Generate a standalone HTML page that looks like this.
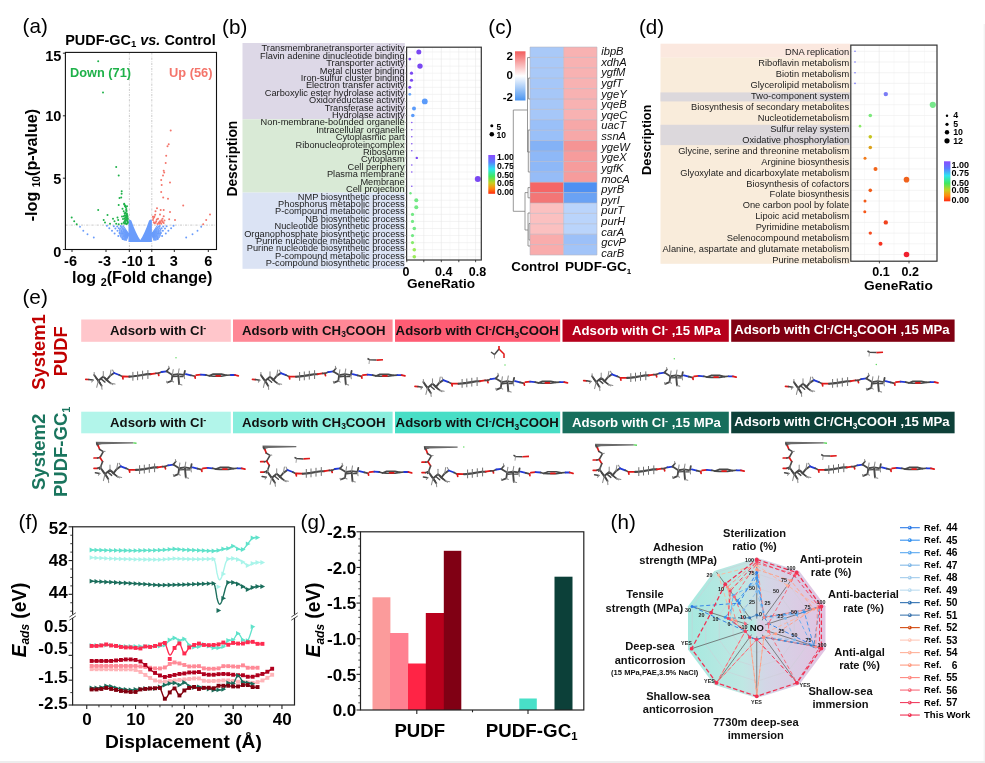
<!DOCTYPE html>
<html><head><meta charset="utf-8"><title>Figure</title>
<style>
html,body{margin:0;padding:0;background:#fff;}
body{width:985px;height:763px;overflow:hidden;position:relative;}
svg{display:block;position:absolute;left:0;top:0;will-change:transform;}
svg text{font-family:"Liberation Sans",sans-serif;}
</style></head><body>
<svg width="985" height="763" viewBox="0 0 985 763">
<defs>
<linearGradient id="rb" x1="0" y1="0" x2="0" y2="1">
<stop offset="0" stop-color="#8a4cff"/><stop offset="0.18" stop-color="#5a7cff"/><stop offset="0.36" stop-color="#2ee6f0"/><stop offset="0.55" stop-color="#40e860"/><stop offset="0.72" stop-color="#c8d020"/><stop offset="0.86" stop-color="#ff8a10"/><stop offset="1" stop-color="#ff2a10"/>
</linearGradient>
<linearGradient id="hm" x1="0" y1="0" x2="0" y2="1">
<stop offset="0" stop-color="#f25c5c"/><stop offset="0.5" stop-color="#ffffff"/><stop offset="1" stop-color="#4a94f0"/>
</linearGradient>
<linearGradient id="rad" x1="0" y1="0" x2="1" y2="0">
<stop offset="0" stop-color="#a6e9df"/><stop offset="0.40" stop-color="#bfe7e3"/><stop offset="0.56" stop-color="#d3d6e6"/><stop offset="1" stop-color="#e1c3e2"/>
</linearGradient>
</defs>
<rect x="0" y="0" width="985" height="763" fill="#fff"/>
<rect x="983.6" y="24" width="1.4" height="739" fill="#f3f3f3"/>
<rect x="0" y="761" width="985" height="2" fill="#ededed"/>
<g id="pa">
<text x="22.60" y="33.00" font-size="20.6">(a)</text>
<text x="65.2" y="44.8" font-size="14.3" font-weight="bold" textLength="150.5" lengthAdjust="spacingAndGlyphs">PUDF-GC<tspan font-size="9.5" dy="2.5">1</tspan><tspan dy="-2.5"> </tspan><tspan font-style="italic">vs.</tspan> Control</text>
<line x1="129.40" y1="52.40" x2="129.40" y2="249.50" stroke="#bcbcbc" stroke-width="0.8" stroke-dasharray="2.2 1.2 0.6 1.2"/>
<line x1="151.80" y1="52.40" x2="151.80" y2="249.50" stroke="#bcbcbc" stroke-width="0.8" stroke-dasharray="2.2 1.2 0.6 1.2"/>
<line x1="65.40" y1="225.10" x2="216.50" y2="225.10" stroke="#bcbcbc" stroke-width="0.8" stroke-dasharray="2.2 1.2 0.6 1.2"/>
<path d="M128.5,220.6 L129.6,219.6 L131.3,220.4 Q136.2,234.2 140.3,239.9 Q144.4,234.2 149.1,220.4 L150.8,219.6 L151.9,220.6 L151.9,241.9 L128.5,241.9 Z" fill="#6a9cfb"/>
<line x1="128.90" y1="234.30" x2="122.83" y2="225.30" stroke="#6a9cfb" stroke-width="1.1"/>
<line x1="128.90" y1="234.30" x2="121.49" y2="225.77" stroke="#6a9cfb" stroke-width="1.1"/>
<line x1="128.90" y1="234.30" x2="120.35" y2="226.60" stroke="#6a9cfb" stroke-width="1.1"/>
<line x1="128.90" y1="234.30" x2="119.73" y2="227.88" stroke="#6a9cfb" stroke-width="1.1"/>
<line x1="128.90" y1="234.30" x2="119.19" y2="229.14" stroke="#6a9cfb" stroke-width="1.1"/>
<line x1="128.90" y1="234.30" x2="119.00" y2="230.50" stroke="#6a9cfb" stroke-width="1.1"/>
<line x1="128.90" y1="234.30" x2="119.00" y2="231.83" stroke="#6a9cfb" stroke-width="1.1"/>
<line x1="128.90" y1="234.30" x2="119.17" y2="233.11" stroke="#6a9cfb" stroke-width="1.1"/>
<line x1="128.90" y1="234.30" x2="119.40" y2="234.30" stroke="#6a9cfb" stroke-width="1.1"/>
<line x1="128.90" y1="234.30" x2="119.67" y2="235.43" stroke="#6a9cfb" stroke-width="1.1"/>
<line x1="128.90" y1="234.30" x2="120.07" y2="236.50" stroke="#6a9cfb" stroke-width="1.1"/>
<line x1="128.90" y1="234.30" x2="120.59" y2="237.49" stroke="#6a9cfb" stroke-width="1.1"/>
<line x1="128.90" y1="234.30" x2="121.31" y2="238.34" stroke="#6a9cfb" stroke-width="1.1"/>
<line x1="128.90" y1="234.30" x2="122.02" y2="239.12" stroke="#6a9cfb" stroke-width="1.1"/>
<line x1="128.90" y1="234.30" x2="122.88" y2="239.72" stroke="#6a9cfb" stroke-width="1.1"/>
<line x1="128.90" y1="234.30" x2="123.89" y2="240.28" stroke="#6a9cfb" stroke-width="1.1"/>
<line x1="128.90" y1="234.30" x2="124.93" y2="240.66" stroke="#6a9cfb" stroke-width="1.1"/>
<line x1="128.90" y1="234.30" x2="126.13" y2="240.84" stroke="#6a9cfb" stroke-width="1.1"/>
<circle cx="106.90" cy="225.80" r="1.00" fill="#6a9cfb"/>
<circle cx="109.30" cy="228.30" r="1.00" fill="#6a9cfb"/>
<circle cx="112.00" cy="230.80" r="1.00" fill="#6a9cfb"/>
<circle cx="114.60" cy="233.40" r="1.00" fill="#6a9cfb"/>
<circle cx="118.30" cy="236.10" r="1.00" fill="#6a9cfb"/>
<circle cx="122.70" cy="239.00" r="1.00" fill="#6a9cfb"/>
<circle cx="115.40" cy="228.40" r="1.00" fill="#6a9cfb"/>
<circle cx="117.50" cy="230.70" r="1.00" fill="#6a9cfb"/>
<circle cx="119.50" cy="232.90" r="1.00" fill="#6a9cfb"/>
<circle cx="118.80" cy="228.30" r="1.00" fill="#6a9cfb"/>
<circle cx="120.70" cy="226.00" r="1.00" fill="#6a9cfb"/>
<circle cx="113.80" cy="226.20" r="1.00" fill="#6a9cfb"/>
<circle cx="117.20" cy="226.40" r="1.00" fill="#6a9cfb"/>
<line x1="151.50" y1="234.30" x2="157.57" y2="225.30" stroke="#6a9cfb" stroke-width="1.1"/>
<line x1="151.50" y1="234.30" x2="158.91" y2="225.77" stroke="#6a9cfb" stroke-width="1.1"/>
<line x1="151.50" y1="234.30" x2="160.05" y2="226.60" stroke="#6a9cfb" stroke-width="1.1"/>
<line x1="151.50" y1="234.30" x2="160.67" y2="227.88" stroke="#6a9cfb" stroke-width="1.1"/>
<line x1="151.50" y1="234.30" x2="161.21" y2="229.14" stroke="#6a9cfb" stroke-width="1.1"/>
<line x1="151.50" y1="234.30" x2="161.40" y2="230.50" stroke="#6a9cfb" stroke-width="1.1"/>
<line x1="151.50" y1="234.30" x2="161.40" y2="231.83" stroke="#6a9cfb" stroke-width="1.1"/>
<line x1="151.50" y1="234.30" x2="161.23" y2="233.11" stroke="#6a9cfb" stroke-width="1.1"/>
<line x1="151.50" y1="234.30" x2="161.00" y2="234.30" stroke="#6a9cfb" stroke-width="1.1"/>
<line x1="151.50" y1="234.30" x2="160.73" y2="235.43" stroke="#6a9cfb" stroke-width="1.1"/>
<line x1="151.50" y1="234.30" x2="160.33" y2="236.50" stroke="#6a9cfb" stroke-width="1.1"/>
<line x1="151.50" y1="234.30" x2="159.81" y2="237.49" stroke="#6a9cfb" stroke-width="1.1"/>
<line x1="151.50" y1="234.30" x2="159.09" y2="238.34" stroke="#6a9cfb" stroke-width="1.1"/>
<line x1="151.50" y1="234.30" x2="158.38" y2="239.12" stroke="#6a9cfb" stroke-width="1.1"/>
<line x1="151.50" y1="234.30" x2="157.52" y2="239.72" stroke="#6a9cfb" stroke-width="1.1"/>
<line x1="151.50" y1="234.30" x2="156.51" y2="240.28" stroke="#6a9cfb" stroke-width="1.1"/>
<line x1="151.50" y1="234.30" x2="155.47" y2="240.66" stroke="#6a9cfb" stroke-width="1.1"/>
<line x1="151.50" y1="234.30" x2="154.27" y2="240.84" stroke="#6a9cfb" stroke-width="1.1"/>
<circle cx="173.50" cy="225.80" r="1.00" fill="#6a9cfb"/>
<circle cx="171.10" cy="228.30" r="1.00" fill="#6a9cfb"/>
<circle cx="168.40" cy="230.80" r="1.00" fill="#6a9cfb"/>
<circle cx="165.80" cy="233.40" r="1.00" fill="#6a9cfb"/>
<circle cx="162.10" cy="236.10" r="1.00" fill="#6a9cfb"/>
<circle cx="157.70" cy="239.00" r="1.00" fill="#6a9cfb"/>
<circle cx="165.00" cy="228.40" r="1.00" fill="#6a9cfb"/>
<circle cx="162.90" cy="230.70" r="1.00" fill="#6a9cfb"/>
<circle cx="160.90" cy="232.90" r="1.00" fill="#6a9cfb"/>
<circle cx="161.60" cy="228.30" r="1.00" fill="#6a9cfb"/>
<circle cx="159.70" cy="226.00" r="1.00" fill="#6a9cfb"/>
<circle cx="166.60" cy="226.20" r="1.00" fill="#6a9cfb"/>
<circle cx="163.20" cy="226.40" r="1.00" fill="#6a9cfb"/>
<circle cx="80.00" cy="226.80" r="0.95" fill="#6a9cfb"/>
<circle cx="83.30" cy="230.80" r="0.95" fill="#6a9cfb"/>
<circle cx="87.50" cy="234.30" r="0.95" fill="#6a9cfb"/>
<circle cx="93.80" cy="237.50" r="0.95" fill="#6a9cfb"/>
<circle cx="201.20" cy="226.80" r="0.95" fill="#6a9cfb"/>
<circle cx="197.50" cy="230.80" r="0.95" fill="#6a9cfb"/>
<circle cx="192.50" cy="234.30" r="0.95" fill="#6a9cfb"/>
<circle cx="186.20" cy="237.50" r="0.95" fill="#6a9cfb"/>
<circle cx="98.20" cy="61.30" r="1.00" fill="#1fb24a"/>
<circle cx="103.00" cy="92.50" r="1.00" fill="#1fb24a"/>
<circle cx="116.20" cy="167.00" r="1.00" fill="#1fb24a"/>
<circle cx="118.70" cy="175.50" r="1.00" fill="#1fb24a"/>
<circle cx="121.70" cy="191.20" r="1.00" fill="#1fb24a"/>
<circle cx="121.60" cy="193.80" r="1.00" fill="#1fb24a"/>
<circle cx="121.20" cy="197.50" r="1.00" fill="#1fb24a"/>
<circle cx="119.50" cy="198.00" r="1.00" fill="#1fb24a"/>
<circle cx="118.70" cy="205.00" r="1.00" fill="#1fb24a"/>
<circle cx="124.20" cy="204.50" r="1.00" fill="#1fb24a"/>
<circle cx="125.00" cy="206.20" r="1.00" fill="#1fb24a"/>
<circle cx="98.20" cy="210.00" r="1.00" fill="#1fb24a"/>
<circle cx="107.50" cy="215.00" r="1.00" fill="#1fb24a"/>
<circle cx="103.70" cy="220.00" r="1.00" fill="#1fb24a"/>
<circle cx="71.70" cy="217.50" r="1.00" fill="#1fb24a"/>
<circle cx="74.20" cy="221.20" r="1.00" fill="#1fb24a"/>
<circle cx="76.70" cy="224.20" r="1.00" fill="#1fb24a"/>
<circle cx="113.00" cy="218.70" r="1.00" fill="#1fb24a"/>
<circle cx="114.50" cy="221.20" r="1.00" fill="#1fb24a"/>
<circle cx="117.50" cy="217.50" r="1.00" fill="#1fb24a"/>
<circle cx="118.20" cy="220.00" r="1.00" fill="#1fb24a"/>
<circle cx="122.50" cy="208.70" r="1.00" fill="#1fb24a"/>
<circle cx="123.70" cy="211.20" r="1.00" fill="#1fb24a"/>
<circle cx="125.00" cy="213.70" r="1.00" fill="#1fb24a"/>
<circle cx="126.20" cy="210.00" r="1.00" fill="#1fb24a"/>
<circle cx="126.20" cy="216.20" r="1.00" fill="#1fb24a"/>
<circle cx="127.50" cy="218.70" r="1.00" fill="#1fb24a"/>
<circle cx="125.00" cy="220.00" r="1.00" fill="#1fb24a"/>
<circle cx="123.70" cy="222.50" r="1.00" fill="#1fb24a"/>
<circle cx="126.20" cy="223.70" r="1.00" fill="#1fb24a"/>
<circle cx="127.50" cy="221.20" r="1.00" fill="#1fb24a"/>
<circle cx="116.20" cy="223.70" r="1.00" fill="#1fb24a"/>
<circle cx="118.70" cy="224.20" r="1.00" fill="#1fb24a"/>
<circle cx="121.70" cy="223.70" r="1.00" fill="#1fb24a"/>
<circle cx="110.00" cy="223.70" r="1.00" fill="#1fb24a"/>
<circle cx="105.00" cy="222.50" r="1.00" fill="#1fb24a"/>
<circle cx="124.80" cy="215.50" r="1.00" fill="#1fb24a"/>
<circle cx="125.80" cy="217.80" r="1.00" fill="#1fb24a"/>
<circle cx="126.80" cy="214.50" r="1.00" fill="#1fb24a"/>
<circle cx="124.50" cy="218.20" r="1.00" fill="#1fb24a"/>
<circle cx="127.20" cy="216.00" r="1.00" fill="#1fb24a"/>
<circle cx="126.00" cy="219.50" r="1.00" fill="#1fb24a"/>
<circle cx="125.20" cy="222.00" r="1.00" fill="#1fb24a"/>
<circle cx="127.60" cy="223.00" r="1.00" fill="#1fb24a"/>
<circle cx="123.00" cy="219.00" r="1.00" fill="#1fb24a"/>
<circle cx="122.00" cy="216.50" r="1.00" fill="#1fb24a"/>
<circle cx="124.20" cy="203.80" r="1.00" fill="#1fb24a"/>
<circle cx="125.20" cy="205.50" r="1.00" fill="#1fb24a"/>
<circle cx="125.80" cy="207.20" r="1.00" fill="#1fb24a"/>
<circle cx="126.30" cy="209.00" r="1.00" fill="#1fb24a"/>
<circle cx="126.60" cy="211.00" r="1.00" fill="#1fb24a"/>
<circle cx="125.60" cy="212.50" r="1.00" fill="#1fb24a"/>
<circle cx="126.90" cy="213.50" r="1.00" fill="#1fb24a"/>
<circle cx="127.30" cy="215.20" r="1.00" fill="#1fb24a"/>
<circle cx="125.90" cy="215.80" r="1.00" fill="#1fb24a"/>
<circle cx="127.60" cy="217.00" r="1.00" fill="#1fb24a"/>
<circle cx="126.50" cy="218.00" r="1.00" fill="#1fb24a"/>
<circle cx="127.90" cy="219.00" r="1.00" fill="#1fb24a"/>
<circle cx="126.10" cy="220.20" r="1.00" fill="#1fb24a"/>
<circle cx="127.40" cy="221.00" r="1.00" fill="#1fb24a"/>
<circle cx="124.60" cy="221.20" r="1.00" fill="#1fb24a"/>
<circle cx="125.70" cy="223.40" r="1.00" fill="#1fb24a"/>
<circle cx="127.80" cy="222.60" r="1.00" fill="#1fb24a"/>
<circle cx="124.30" cy="223.60" r="1.00" fill="#1fb24a"/>
<circle cx="126.80" cy="224.00" r="1.00" fill="#1fb24a"/>
<circle cx="123.80" cy="216.20" r="1.00" fill="#1fb24a"/>
<circle cx="124.60" cy="213.20" r="1.00" fill="#1fb24a"/>
<circle cx="127.00" cy="206.30" r="1.00" fill="#1fb24a"/>
<circle cx="170.70" cy="130.50" r="1.00" fill="#f4756b"/>
<circle cx="168.70" cy="144.20" r="1.00" fill="#f4756b"/>
<circle cx="167.50" cy="146.20" r="1.00" fill="#f4756b"/>
<circle cx="166.20" cy="155.70" r="1.00" fill="#f4756b"/>
<circle cx="165.70" cy="163.00" r="1.00" fill="#f4756b"/>
<circle cx="163.70" cy="170.70" r="1.00" fill="#f4756b"/>
<circle cx="164.20" cy="172.50" r="1.00" fill="#f4756b"/>
<circle cx="163.00" cy="175.50" r="1.00" fill="#f4756b"/>
<circle cx="161.20" cy="180.00" r="1.00" fill="#f4756b"/>
<circle cx="161.70" cy="185.00" r="1.00" fill="#f4756b"/>
<circle cx="170.00" cy="182.50" r="1.00" fill="#f4756b"/>
<circle cx="161.20" cy="192.00" r="1.00" fill="#f4756b"/>
<circle cx="163.20" cy="197.50" r="1.00" fill="#f4756b"/>
<circle cx="168.00" cy="198.70" r="1.00" fill="#f4756b"/>
<circle cx="183.20" cy="205.50" r="1.00" fill="#f4756b"/>
<circle cx="157.00" cy="208.20" r="1.00" fill="#f4756b"/>
<circle cx="160.70" cy="210.00" r="1.00" fill="#f4756b"/>
<circle cx="163.70" cy="210.00" r="1.00" fill="#f4756b"/>
<circle cx="155.50" cy="211.20" r="1.00" fill="#f4756b"/>
<circle cx="170.00" cy="212.00" r="1.00" fill="#f4756b"/>
<circle cx="160.00" cy="214.50" r="1.00" fill="#f4756b"/>
<circle cx="163.70" cy="216.20" r="1.00" fill="#f4756b"/>
<circle cx="154.20" cy="217.00" r="1.00" fill="#f4756b"/>
<circle cx="162.50" cy="218.70" r="1.00" fill="#f4756b"/>
<circle cx="175.00" cy="220.00" r="1.00" fill="#f4756b"/>
<circle cx="169.20" cy="219.20" r="1.00" fill="#f4756b"/>
<circle cx="210.00" cy="214.50" r="1.00" fill="#f4756b"/>
<circle cx="206.20" cy="220.00" r="1.00" fill="#f4756b"/>
<circle cx="203.20" cy="224.20" r="1.00" fill="#f4756b"/>
<circle cx="153.00" cy="220.00" r="1.00" fill="#f4756b"/>
<circle cx="156.20" cy="221.20" r="1.00" fill="#f4756b"/>
<circle cx="158.70" cy="222.50" r="1.00" fill="#f4756b"/>
<circle cx="161.20" cy="223.70" r="1.00" fill="#f4756b"/>
<circle cx="163.70" cy="223.00" r="1.00" fill="#f4756b"/>
<circle cx="160.00" cy="221.20" r="1.00" fill="#f4756b"/>
<circle cx="158.00" cy="218.70" r="1.00" fill="#f4756b"/>
<circle cx="154.50" cy="223.20" r="1.00" fill="#f4756b"/>
<circle cx="157.50" cy="224.00" r="1.00" fill="#f4756b"/>
<circle cx="162.30" cy="221.30" r="1.00" fill="#f4756b"/>
<circle cx="164.50" cy="220.50" r="1.00" fill="#f4756b"/>
<circle cx="159.20" cy="223.80" r="1.00" fill="#f4756b"/>
<circle cx="153.40" cy="218.20" r="1.00" fill="#f4756b"/>
<circle cx="154.30" cy="216.40" r="1.00" fill="#f4756b"/>
<circle cx="155.20" cy="214.80" r="1.00" fill="#f4756b"/>
<circle cx="153.90" cy="222.20" r="1.00" fill="#f4756b"/>
<circle cx="155.60" cy="222.80" r="1.00" fill="#f4756b"/>
<circle cx="156.80" cy="219.60" r="1.00" fill="#f4756b"/>
<circle cx="159.60" cy="222.90" r="1.00" fill="#f4756b"/>
<circle cx="161.50" cy="220.20" r="1.00" fill="#f4756b"/>
<circle cx="160.60" cy="222.20" r="1.00" fill="#f4756b"/>
<circle cx="162.80" cy="222.00" r="1.00" fill="#f4756b"/>
<circle cx="152.90" cy="216.80" r="1.00" fill="#f4756b"/>
<rect x="65.4" y="52.4" width="151.10" height="197.10" fill="none" stroke="#111" stroke-width="1.1"/>
<line x1="62.90" y1="53.20" x2="65.40" y2="53.20" stroke="#111" stroke-width="0.9"/>
<line x1="62.90" y1="115.80" x2="65.40" y2="115.80" stroke="#111" stroke-width="0.9"/>
<line x1="62.90" y1="178.20" x2="65.40" y2="178.20" stroke="#111" stroke-width="0.9"/>
<line x1="62.90" y1="249.50" x2="65.40" y2="249.50" stroke="#111" stroke-width="0.9"/>
<line x1="72.00" y1="249.50" x2="72.00" y2="252.00" stroke="#111" stroke-width="0.9"/>
<line x1="106.00" y1="249.50" x2="106.00" y2="252.00" stroke="#111" stroke-width="0.9"/>
<line x1="129.30" y1="249.50" x2="129.30" y2="252.00" stroke="#111" stroke-width="0.9"/>
<line x1="140.50" y1="249.50" x2="140.50" y2="252.00" stroke="#111" stroke-width="0.9"/>
<line x1="151.80" y1="249.50" x2="151.80" y2="252.00" stroke="#111" stroke-width="0.9"/>
<line x1="174.30" y1="249.50" x2="174.30" y2="252.00" stroke="#111" stroke-width="0.9"/>
<line x1="208.30" y1="249.50" x2="208.30" y2="252.00" stroke="#111" stroke-width="0.9"/>
<text x="61.30" y="60.80" font-size="14.5" font-weight="bold" text-anchor="end">15</text>
<text x="61.30" y="121.20" font-size="14.5" font-weight="bold" text-anchor="end">10</text>
<text x="61.30" y="183.50" font-size="14.5" font-weight="bold" text-anchor="end">5</text>
<text x="61.30" y="257.20" font-size="14.5" font-weight="bold" text-anchor="end">0</text>
<text x="70.50" y="265.50" font-size="14.5" font-weight="bold" text-anchor="middle">-6</text>
<text x="104.50" y="265.50" font-size="14.5" font-weight="bold" text-anchor="middle">-3</text>
<text x="132.30" y="265.50" font-size="14.5" font-weight="bold" text-anchor="middle">-10</text>
<text x="151.20" y="265.50" font-size="14.5" font-weight="bold" text-anchor="middle">1</text>
<text x="173.70" y="265.50" font-size="14.5" font-weight="bold" text-anchor="middle">3</text>
<text x="208.20" y="265.50" font-size="14.5" font-weight="bold" text-anchor="middle">6</text>
<text x="72" y="283" font-size="15.8" font-weight="bold" textLength="140.5" lengthAdjust="spacingAndGlyphs">log <tspan font-size="10.5" dy="3.2">2</tspan><tspan dy="-3.2">(Fold change)</tspan></text>
<text x="0" y="0" font-size="15.8" font-weight="bold" textLength="112.5" lengthAdjust="spacingAndGlyphs" transform="translate(36.9 221.3) rotate(-90)">-log <tspan font-size="10" dy="3">10</tspan><tspan dy="-3">(p-value)</tspan></text>
<text x="70.00" y="76.80" font-size="13" font-weight="bold" fill="#1fb24a" textLength="61.00" lengthAdjust="spacingAndGlyphs">Down (71)</text>
<text x="169.00" y="76.80" font-size="13" font-weight="bold" fill="#f4756b" textLength="43.50" lengthAdjust="spacingAndGlyphs">Up (56)</text>
</g>
<g id="pb">
<text x="222.10" y="34.20" font-size="20.6">(b)</text>
<rect x="242.50" y="43.00" width="162.30" height="76.30" fill="#ddd8e7"/>
<rect x="242.50" y="119.30" width="162.30" height="73.30" fill="#d9ead6"/>
<rect x="242.50" y="192.60" width="162.30" height="76.20" fill="#dbe3f4"/>
<rect x="406.60" y="47.20" width="74.70" height="212.80" fill="#fff"/>
<line x1="406.60" y1="52.00" x2="481.30" y2="52.00" stroke="#ececec" stroke-width="0.6"/>
<line x1="406.60" y1="59.06" x2="481.30" y2="59.06" stroke="#ececec" stroke-width="0.6"/>
<line x1="406.60" y1="66.12" x2="481.30" y2="66.12" stroke="#ececec" stroke-width="0.6"/>
<line x1="406.60" y1="73.18" x2="481.30" y2="73.18" stroke="#ececec" stroke-width="0.6"/>
<line x1="406.60" y1="80.24" x2="481.30" y2="80.24" stroke="#ececec" stroke-width="0.6"/>
<line x1="406.60" y1="87.30" x2="481.30" y2="87.30" stroke="#ececec" stroke-width="0.6"/>
<line x1="406.60" y1="94.36" x2="481.30" y2="94.36" stroke="#ececec" stroke-width="0.6"/>
<line x1="406.60" y1="101.42" x2="481.30" y2="101.42" stroke="#ececec" stroke-width="0.6"/>
<line x1="406.60" y1="108.48" x2="481.30" y2="108.48" stroke="#ececec" stroke-width="0.6"/>
<line x1="406.60" y1="115.54" x2="481.30" y2="115.54" stroke="#ececec" stroke-width="0.6"/>
<line x1="406.60" y1="122.60" x2="481.30" y2="122.60" stroke="#ececec" stroke-width="0.6"/>
<line x1="406.60" y1="129.66" x2="481.30" y2="129.66" stroke="#ececec" stroke-width="0.6"/>
<line x1="406.60" y1="136.72" x2="481.30" y2="136.72" stroke="#ececec" stroke-width="0.6"/>
<line x1="406.60" y1="143.78" x2="481.30" y2="143.78" stroke="#ececec" stroke-width="0.6"/>
<line x1="406.60" y1="150.84" x2="481.30" y2="150.84" stroke="#ececec" stroke-width="0.6"/>
<line x1="406.60" y1="157.90" x2="481.30" y2="157.90" stroke="#ececec" stroke-width="0.6"/>
<line x1="406.60" y1="164.96" x2="481.30" y2="164.96" stroke="#ececec" stroke-width="0.6"/>
<line x1="406.60" y1="172.02" x2="481.30" y2="172.02" stroke="#ececec" stroke-width="0.6"/>
<line x1="406.60" y1="179.08" x2="481.30" y2="179.08" stroke="#ececec" stroke-width="0.6"/>
<line x1="406.60" y1="186.14" x2="481.30" y2="186.14" stroke="#ececec" stroke-width="0.6"/>
<line x1="406.60" y1="193.20" x2="481.30" y2="193.20" stroke="#ececec" stroke-width="0.6"/>
<line x1="406.60" y1="200.26" x2="481.30" y2="200.26" stroke="#ececec" stroke-width="0.6"/>
<line x1="406.60" y1="207.32" x2="481.30" y2="207.32" stroke="#ececec" stroke-width="0.6"/>
<line x1="406.60" y1="214.38" x2="481.30" y2="214.38" stroke="#ececec" stroke-width="0.6"/>
<line x1="406.60" y1="221.44" x2="481.30" y2="221.44" stroke="#ececec" stroke-width="0.6"/>
<line x1="406.60" y1="228.50" x2="481.30" y2="228.50" stroke="#ececec" stroke-width="0.6"/>
<line x1="406.60" y1="235.56" x2="481.30" y2="235.56" stroke="#ececec" stroke-width="0.6"/>
<line x1="406.60" y1="242.62" x2="481.30" y2="242.62" stroke="#ececec" stroke-width="0.6"/>
<line x1="406.60" y1="249.68" x2="481.30" y2="249.68" stroke="#ececec" stroke-width="0.6"/>
<line x1="406.60" y1="256.74" x2="481.30" y2="256.74" stroke="#ececec" stroke-width="0.6"/>
<line x1="415.10" y1="47.20" x2="415.10" y2="260.00" stroke="#f0f0f0" stroke-width="0.4"/>
<line x1="423.80" y1="47.20" x2="423.80" y2="260.00" stroke="#e6e6e6" stroke-width="0.6"/>
<line x1="432.50" y1="47.20" x2="432.50" y2="260.00" stroke="#f0f0f0" stroke-width="0.4"/>
<line x1="441.30" y1="47.20" x2="441.30" y2="260.00" stroke="#e6e6e6" stroke-width="0.6"/>
<line x1="450.00" y1="47.20" x2="450.00" y2="260.00" stroke="#f0f0f0" stroke-width="0.4"/>
<line x1="458.80" y1="47.20" x2="458.80" y2="260.00" stroke="#e6e6e6" stroke-width="0.6"/>
<line x1="467.20" y1="47.20" x2="467.20" y2="260.00" stroke="#f0f0f0" stroke-width="0.4"/>
<line x1="475.60" y1="47.20" x2="475.60" y2="260.00" stroke="#e6e6e6" stroke-width="0.6"/>
<text x="404.60" y="51.30" font-size="9.25" fill="#1c1c1c" text-anchor="end">Transmembranetransporter activity</text>
<text x="404.60" y="58.71" font-size="9.25" fill="#1c1c1c" text-anchor="end">Flavin adenine dinucleotide binding</text>
<text x="404.60" y="66.12" font-size="9.25" fill="#1c1c1c" text-anchor="end">Transporter activity</text>
<text x="404.60" y="73.53" font-size="9.25" fill="#1c1c1c" text-anchor="end">Metal cluster binding</text>
<text x="404.60" y="80.94" font-size="9.25" fill="#1c1c1c" text-anchor="end">Iron-sulfur cluster binding</text>
<text x="404.60" y="88.35" font-size="9.25" fill="#1c1c1c" text-anchor="end">Electron transfer activity</text>
<text x="404.60" y="95.76" font-size="9.25" fill="#1c1c1c" text-anchor="end">Carboxylic ester hydrolase activity</text>
<text x="404.60" y="103.17" font-size="9.25" fill="#1c1c1c" text-anchor="end">Oxidoreductase activity</text>
<text x="404.60" y="110.58" font-size="9.25" fill="#1c1c1c" text-anchor="end">Transferase activity</text>
<text x="404.60" y="117.99" font-size="9.25" fill="#1c1c1c" text-anchor="end">Hydrolase activity</text>
<text x="404.60" y="125.40" font-size="9.25" fill="#1c1c1c" text-anchor="end">Non-membrane-bounded organelle</text>
<text x="404.60" y="132.81" font-size="9.25" fill="#1c1c1c" text-anchor="end">Intracellular organelle</text>
<text x="404.60" y="140.22" font-size="9.25" fill="#1c1c1c" text-anchor="end">Cytoplasmic part</text>
<text x="404.60" y="147.63" font-size="9.25" fill="#1c1c1c" text-anchor="end">Ribonucleoproteincomplex</text>
<text x="404.60" y="155.04" font-size="9.25" fill="#1c1c1c" text-anchor="end">Ribosome</text>
<text x="404.60" y="162.45" font-size="9.25" fill="#1c1c1c" text-anchor="end">Cytoplasm</text>
<text x="404.60" y="169.86" font-size="9.25" fill="#1c1c1c" text-anchor="end">Cell periphery</text>
<text x="404.60" y="177.27" font-size="9.25" fill="#1c1c1c" text-anchor="end">Plasma membrane</text>
<text x="404.60" y="184.68" font-size="9.25" fill="#1c1c1c" text-anchor="end">Membrane</text>
<text x="404.60" y="192.09" font-size="9.25" fill="#1c1c1c" text-anchor="end">Cell projection</text>
<text x="404.60" y="199.50" font-size="9.25" fill="#1c1c1c" text-anchor="end">NMP biosynthetic process</text>
<text x="404.60" y="206.91" font-size="9.25" fill="#1c1c1c" text-anchor="end">Phosphorus metabolic process</text>
<text x="404.60" y="214.32" font-size="9.25" fill="#1c1c1c" text-anchor="end">P-compound metabolic process</text>
<text x="404.60" y="221.73" font-size="9.25" fill="#1c1c1c" text-anchor="end">NB biosynthetic process</text>
<text x="404.60" y="229.14" font-size="9.25" fill="#1c1c1c" text-anchor="end">Nucleotide biosynthetic process</text>
<text x="404.60" y="236.55" font-size="9.25" fill="#1c1c1c" text-anchor="end">Organophosphate biosynthetic process</text>
<text x="404.60" y="243.96" font-size="9.25" fill="#1c1c1c" text-anchor="end">Purine nucleotide metabolic process</text>
<text x="404.60" y="251.37" font-size="9.25" fill="#1c1c1c" text-anchor="end">Purine nucleotide biosynthetic process</text>
<text x="404.60" y="258.78" font-size="9.25" fill="#1c1c1c" text-anchor="end">P-compound metabolic process</text>
<text x="404.60" y="266.19" font-size="9.25" fill="#1c1c1c" text-anchor="end">P-compound biosynthetic process</text>
<circle cx="418.80" cy="52.00" r="2.50" fill="#7a48f2"/>
<circle cx="409.80" cy="59.06" r="1.40" fill="#7a48f2"/>
<circle cx="420.00" cy="66.12" r="2.70" fill="#7a48f2"/>
<circle cx="411.50" cy="73.18" r="1.60" fill="#7a48f2"/>
<circle cx="411.50" cy="80.24" r="1.60" fill="#7a48f2"/>
<circle cx="409.80" cy="87.30" r="1.50" fill="#7a48f2"/>
<circle cx="409.80" cy="94.36" r="1.40" fill="#6aa8fb"/>
<circle cx="424.80" cy="101.42" r="2.90" fill="#5b9bfa"/>
<circle cx="414.00" cy="108.48" r="2.00" fill="#5b9bfa"/>
<circle cx="412.80" cy="115.54" r="1.80" fill="#5b9bfa"/>
<circle cx="411.80" cy="122.60" r="0.75" fill="#7a48f2"/>
<circle cx="411.80" cy="129.66" r="0.75" fill="#7a48f2"/>
<circle cx="411.80" cy="136.72" r="0.75" fill="#7a48f2"/>
<circle cx="411.80" cy="143.78" r="0.75" fill="#7a48f2"/>
<circle cx="411.80" cy="150.84" r="0.75" fill="#7a48f2"/>
<circle cx="416.80" cy="157.90" r="1.20" fill="#7a48f2"/>
<circle cx="411.80" cy="164.96" r="0.75" fill="#7a48f2"/>
<circle cx="411.80" cy="172.02" r="0.75" fill="#7a48f2"/>
<circle cx="477.80" cy="179.08" r="3.00" fill="#7a48f2"/>
<circle cx="411.80" cy="186.14" r="0.75" fill="#7a48f2"/>
<circle cx="410.50" cy="193.20" r="1.20" fill="#72e884"/>
<circle cx="416.30" cy="200.26" r="2.00" fill="#72e884"/>
<circle cx="416.30" cy="207.32" r="2.00" fill="#72e884"/>
<circle cx="412.50" cy="214.38" r="1.60" fill="#72e884"/>
<circle cx="412.50" cy="221.44" r="1.60" fill="#72e884"/>
<circle cx="414.30" cy="228.50" r="1.80" fill="#72e884"/>
<circle cx="412.50" cy="235.56" r="1.60" fill="#72e884"/>
<circle cx="412.50" cy="242.62" r="1.60" fill="#86ea6a"/>
<circle cx="414.30" cy="249.68" r="1.80" fill="#9aec58"/>
<circle cx="414.30" cy="256.74" r="1.80" fill="#9aec58"/>
<rect x="406.6" y="47.2" width="74.70" height="212.80" fill="none" stroke="#333" stroke-width="1.2"/>
<line x1="406.80" y1="260.00" x2="406.80" y2="262.20" stroke="#222" stroke-width="0.8"/>
<line x1="423.80" y1="260.00" x2="423.80" y2="262.20" stroke="#222" stroke-width="0.8"/>
<line x1="441.30" y1="260.00" x2="441.30" y2="262.20" stroke="#222" stroke-width="0.8"/>
<line x1="458.80" y1="260.00" x2="458.80" y2="262.20" stroke="#222" stroke-width="0.8"/>
<line x1="475.60" y1="260.00" x2="475.60" y2="262.20" stroke="#222" stroke-width="0.8"/>
<line x1="405.10" y1="52.00" x2="406.60" y2="52.00" stroke="#888" stroke-width="0.6"/>
<line x1="405.10" y1="59.06" x2="406.60" y2="59.06" stroke="#888" stroke-width="0.6"/>
<line x1="405.10" y1="66.12" x2="406.60" y2="66.12" stroke="#888" stroke-width="0.6"/>
<line x1="405.10" y1="73.18" x2="406.60" y2="73.18" stroke="#888" stroke-width="0.6"/>
<line x1="405.10" y1="80.24" x2="406.60" y2="80.24" stroke="#888" stroke-width="0.6"/>
<line x1="405.10" y1="87.30" x2="406.60" y2="87.30" stroke="#888" stroke-width="0.6"/>
<line x1="405.10" y1="94.36" x2="406.60" y2="94.36" stroke="#888" stroke-width="0.6"/>
<line x1="405.10" y1="101.42" x2="406.60" y2="101.42" stroke="#888" stroke-width="0.6"/>
<line x1="405.10" y1="108.48" x2="406.60" y2="108.48" stroke="#888" stroke-width="0.6"/>
<line x1="405.10" y1="115.54" x2="406.60" y2="115.54" stroke="#888" stroke-width="0.6"/>
<line x1="405.10" y1="122.60" x2="406.60" y2="122.60" stroke="#888" stroke-width="0.6"/>
<line x1="405.10" y1="129.66" x2="406.60" y2="129.66" stroke="#888" stroke-width="0.6"/>
<line x1="405.10" y1="136.72" x2="406.60" y2="136.72" stroke="#888" stroke-width="0.6"/>
<line x1="405.10" y1="143.78" x2="406.60" y2="143.78" stroke="#888" stroke-width="0.6"/>
<line x1="405.10" y1="150.84" x2="406.60" y2="150.84" stroke="#888" stroke-width="0.6"/>
<line x1="405.10" y1="157.90" x2="406.60" y2="157.90" stroke="#888" stroke-width="0.6"/>
<line x1="405.10" y1="164.96" x2="406.60" y2="164.96" stroke="#888" stroke-width="0.6"/>
<line x1="405.10" y1="172.02" x2="406.60" y2="172.02" stroke="#888" stroke-width="0.6"/>
<line x1="405.10" y1="179.08" x2="406.60" y2="179.08" stroke="#888" stroke-width="0.6"/>
<line x1="405.10" y1="186.14" x2="406.60" y2="186.14" stroke="#888" stroke-width="0.6"/>
<line x1="405.10" y1="193.20" x2="406.60" y2="193.20" stroke="#888" stroke-width="0.6"/>
<line x1="405.10" y1="200.26" x2="406.60" y2="200.26" stroke="#888" stroke-width="0.6"/>
<line x1="405.10" y1="207.32" x2="406.60" y2="207.32" stroke="#888" stroke-width="0.6"/>
<line x1="405.10" y1="214.38" x2="406.60" y2="214.38" stroke="#888" stroke-width="0.6"/>
<line x1="405.10" y1="221.44" x2="406.60" y2="221.44" stroke="#888" stroke-width="0.6"/>
<line x1="405.10" y1="228.50" x2="406.60" y2="228.50" stroke="#888" stroke-width="0.6"/>
<line x1="405.10" y1="235.56" x2="406.60" y2="235.56" stroke="#888" stroke-width="0.6"/>
<line x1="405.10" y1="242.62" x2="406.60" y2="242.62" stroke="#888" stroke-width="0.6"/>
<line x1="405.10" y1="249.68" x2="406.60" y2="249.68" stroke="#888" stroke-width="0.6"/>
<line x1="405.10" y1="256.74" x2="406.60" y2="256.74" stroke="#888" stroke-width="0.6"/>
<text x="406.00" y="276.30" font-size="12.5" font-weight="bold" text-anchor="middle">0</text>
<text x="443.80" y="276.30" font-size="12.5" font-weight="bold" text-anchor="middle">0.4</text>
<text x="477.50" y="276.30" font-size="12.5" font-weight="bold" text-anchor="middle">0.8</text>
<text x="407.00" y="288.00" font-size="13.6" font-weight="bold" textLength="68.00" lengthAdjust="spacingAndGlyphs">GeneRatio</text>
<text font-size="13.8" font-weight="bold" textLength="75.8" lengthAdjust="spacingAndGlyphs" transform="translate(237.4 196.5) rotate(-90)">Description</text>
<circle cx="491.80" cy="125.80" r="1.50" fill="#000"/>
<circle cx="491.80" cy="134.30" r="2.30" fill="#000"/>
<text x="496.60" y="129.50" font-size="8.5" font-weight="bold">5</text>
<text x="496.60" y="137.60" font-size="8.5" font-weight="bold">10</text>
<rect x="488.30" y="155.00" width="6.80" height="38.80" fill="url(#rb)"/>
<text x="497.00" y="160.20" font-size="8.7" font-weight="bold">1.00</text>
<text x="497.00" y="169.30" font-size="8.7" font-weight="bold">0.75</text>
<text x="497.00" y="178.10" font-size="8.7" font-weight="bold">0.50</text>
<text x="497.00" y="185.80" font-size="8.7" font-weight="bold">0.05</text>
<text x="497.00" y="194.50" font-size="8.7" font-weight="bold">0.00</text>
</g>
<g id="pc">
<text x="488.30" y="34.40" font-size="20.6">(c)</text>
<rect x="530.00" y="47.00" width="33.60" height="10.45" fill="#a9c9f8"/>
<rect x="563.60" y="47.00" width="33.40" height="10.45" fill="#f8b2b2"/>
<rect x="530.00" y="57.40" width="33.60" height="10.45" fill="#a9c9f8"/>
<rect x="563.60" y="57.40" width="33.40" height="10.45" fill="#f8b2b2"/>
<rect x="530.00" y="67.80" width="33.60" height="10.45" fill="#a9c9f8"/>
<rect x="563.60" y="67.80" width="33.40" height="10.45" fill="#f8b2b2"/>
<rect x="530.00" y="78.20" width="33.60" height="10.45" fill="#a6c7f8"/>
<rect x="563.60" y="78.20" width="33.40" height="10.45" fill="#f8b2b2"/>
<rect x="530.00" y="88.60" width="33.60" height="10.45" fill="#a6c7f8"/>
<rect x="563.60" y="88.60" width="33.40" height="10.45" fill="#f8b2b2"/>
<rect x="530.00" y="99.00" width="33.60" height="10.45" fill="#a6c7f8"/>
<rect x="563.60" y="99.00" width="33.40" height="10.45" fill="#f8b2b2"/>
<rect x="530.00" y="109.40" width="33.60" height="10.45" fill="#a6c7f8"/>
<rect x="563.60" y="109.40" width="33.40" height="10.45" fill="#f8b2b2"/>
<rect x="530.00" y="119.80" width="33.60" height="10.45" fill="#9ac0f8"/>
<rect x="563.60" y="119.80" width="33.40" height="10.45" fill="#f7a8a8"/>
<rect x="530.00" y="130.20" width="33.60" height="10.45" fill="#9ac0f8"/>
<rect x="563.60" y="130.20" width="33.40" height="10.45" fill="#f7a8a8"/>
<rect x="530.00" y="140.60" width="33.60" height="10.45" fill="#84b2f6"/>
<rect x="563.60" y="140.60" width="33.40" height="10.45" fill="#f59494"/>
<rect x="530.00" y="151.00" width="33.60" height="10.45" fill="#8eb8f7"/>
<rect x="563.60" y="151.00" width="33.40" height="10.45" fill="#f69c9c"/>
<rect x="530.00" y="161.40" width="33.60" height="10.45" fill="#8eb8f7"/>
<rect x="563.60" y="161.40" width="33.40" height="10.45" fill="#f69c9c"/>
<rect x="530.00" y="171.80" width="33.60" height="10.45" fill="#96bcf7"/>
<rect x="563.60" y="171.80" width="33.40" height="10.45" fill="#f69c9c"/>
<rect x="530.00" y="182.20" width="33.60" height="10.45" fill="#f56666"/>
<rect x="563.60" y="182.20" width="33.40" height="10.45" fill="#4e90f2"/>
<rect x="530.00" y="192.60" width="33.60" height="10.45" fill="#f37676"/>
<rect x="563.60" y="192.60" width="33.40" height="10.45" fill="#6aa2f4"/>
<rect x="530.00" y="203.00" width="33.60" height="10.45" fill="#fbc0c0"/>
<rect x="563.60" y="203.00" width="33.40" height="10.45" fill="#bad4fb"/>
<rect x="530.00" y="213.40" width="33.60" height="10.45" fill="#fbc0c0"/>
<rect x="563.60" y="213.40" width="33.40" height="10.45" fill="#bad4fb"/>
<rect x="530.00" y="223.80" width="33.60" height="10.45" fill="#fbc0c0"/>
<rect x="563.60" y="223.80" width="33.40" height="10.45" fill="#bad4fb"/>
<rect x="530.00" y="234.20" width="33.60" height="10.45" fill="#f9acac"/>
<rect x="563.60" y="234.20" width="33.40" height="10.45" fill="#9cc0f8"/>
<rect x="530.00" y="244.60" width="33.60" height="10.45" fill="#f9acac"/>
<rect x="563.60" y="244.60" width="33.40" height="10.45" fill="#a2c4f8"/>
<line x1="530.00" y1="47.00" x2="597.00" y2="47.00" stroke="#b4b4c0" stroke-width="0.55"/>
<line x1="530.00" y1="57.40" x2="597.00" y2="57.40" stroke="#b4b4c0" stroke-width="0.55"/>
<line x1="530.00" y1="67.80" x2="597.00" y2="67.80" stroke="#b4b4c0" stroke-width="0.55"/>
<line x1="530.00" y1="78.20" x2="597.00" y2="78.20" stroke="#b4b4c0" stroke-width="0.55"/>
<line x1="530.00" y1="88.60" x2="597.00" y2="88.60" stroke="#b4b4c0" stroke-width="0.55"/>
<line x1="530.00" y1="99.00" x2="597.00" y2="99.00" stroke="#b4b4c0" stroke-width="0.55"/>
<line x1="530.00" y1="109.40" x2="597.00" y2="109.40" stroke="#b4b4c0" stroke-width="0.55"/>
<line x1="530.00" y1="119.80" x2="597.00" y2="119.80" stroke="#b4b4c0" stroke-width="0.55"/>
<line x1="530.00" y1="130.20" x2="597.00" y2="130.20" stroke="#b4b4c0" stroke-width="0.55"/>
<line x1="530.00" y1="140.60" x2="597.00" y2="140.60" stroke="#b4b4c0" stroke-width="0.55"/>
<line x1="530.00" y1="151.00" x2="597.00" y2="151.00" stroke="#b4b4c0" stroke-width="0.55"/>
<line x1="530.00" y1="161.40" x2="597.00" y2="161.40" stroke="#b4b4c0" stroke-width="0.55"/>
<line x1="530.00" y1="171.80" x2="597.00" y2="171.80" stroke="#b4b4c0" stroke-width="0.55"/>
<line x1="530.00" y1="182.20" x2="597.00" y2="182.20" stroke="#b4b4c0" stroke-width="0.55"/>
<line x1="530.00" y1="192.60" x2="597.00" y2="192.60" stroke="#b4b4c0" stroke-width="0.55"/>
<line x1="530.00" y1="203.00" x2="597.00" y2="203.00" stroke="#b4b4c0" stroke-width="0.55"/>
<line x1="530.00" y1="213.40" x2="597.00" y2="213.40" stroke="#b4b4c0" stroke-width="0.55"/>
<line x1="530.00" y1="223.80" x2="597.00" y2="223.80" stroke="#b4b4c0" stroke-width="0.55"/>
<line x1="530.00" y1="234.20" x2="597.00" y2="234.20" stroke="#b4b4c0" stroke-width="0.55"/>
<line x1="530.00" y1="244.60" x2="597.00" y2="244.60" stroke="#b4b4c0" stroke-width="0.55"/>
<line x1="530.00" y1="255.00" x2="597.00" y2="255.00" stroke="#b4b4c0" stroke-width="0.55"/>
<line x1="563.60" y1="47.00" x2="563.60" y2="255.00" stroke="#b4b4c0" stroke-width="0.55"/>
<line x1="530.00" y1="47.00" x2="530.00" y2="255.00" stroke="#b4b4c0" stroke-width="0.55"/>
<line x1="597.00" y1="47.00" x2="597.00" y2="255.00" stroke="#b4b4c0" stroke-width="0.55"/>
<text x="601.20" y="55.00" font-size="11.2" font-style="italic" fill="#111">ibpB</text>
<text x="601.20" y="65.63" font-size="11.2" font-style="italic" fill="#111">xdhA</text>
<text x="601.20" y="76.26" font-size="11.2" font-style="italic" fill="#111">ygfM</text>
<text x="601.20" y="86.89" font-size="11.2" font-style="italic" fill="#111">ygfT</text>
<text x="601.20" y="97.52" font-size="11.2" font-style="italic" fill="#111">ygeY</text>
<text x="601.20" y="108.15" font-size="11.2" font-style="italic" fill="#111">yqeB</text>
<text x="601.20" y="118.78" font-size="11.2" font-style="italic" fill="#111">yqeC</text>
<text x="601.20" y="129.41" font-size="11.2" font-style="italic" fill="#111">uacT</text>
<text x="601.20" y="140.04" font-size="11.2" font-style="italic" fill="#111">ssnA</text>
<text x="601.20" y="150.67" font-size="11.2" font-style="italic" fill="#111">ygeW</text>
<text x="601.20" y="161.30" font-size="11.2" font-style="italic" fill="#111">ygeX</text>
<text x="601.20" y="171.93" font-size="11.2" font-style="italic" fill="#111">ygfK</text>
<text x="601.20" y="182.56" font-size="11.2" font-style="italic" fill="#111">mocA</text>
<text x="601.20" y="193.19" font-size="11.2" font-style="italic" fill="#111">pyrB</text>
<text x="601.20" y="203.82" font-size="11.2" font-style="italic" fill="#111">pyrI</text>
<text x="601.20" y="214.45" font-size="11.2" font-style="italic" fill="#111">purT</text>
<text x="601.20" y="225.08" font-size="11.2" font-style="italic" fill="#111">purH</text>
<text x="601.20" y="235.71" font-size="11.2" font-style="italic" fill="#111">carA</text>
<text x="601.20" y="246.34" font-size="11.2" font-style="italic" fill="#111">gcvP</text>
<text x="601.20" y="256.97" font-size="11.2" font-style="italic" fill="#111">carB</text>
<rect x="515.00" y="51.30" width="10.50" height="49.20" fill="url(#hm)"/>
<text x="513.00" y="59.70" font-size="11.5" font-weight="bold" text-anchor="end">2</text>
<text x="513.00" y="79.40" font-size="11.5" font-weight="bold" text-anchor="end">0</text>
<text x="513.00" y="101.40" font-size="11.5" font-weight="bold" text-anchor="end">-2</text>
<polyline points="527.5,110.0 513.3,110.0 513.3,211.3 525.0,211.3" fill="none" stroke="#7e7e7e" stroke-width="0.8"/>
<polyline points="530.0,57.6 527.5,57.6 527.5,152.0 530.0,152.0" fill="none" stroke="#7e7e7e" stroke-width="0.8"/>
<polyline points="530.0,78.0 528.6,78.0 528.6,99.0 530.0,99.0" fill="none" stroke="#7e7e7e" stroke-width="0.8"/>
<polyline points="530.0,130.0 528.3,130.0 528.3,172.0 530.0,172.0" fill="none" stroke="#7e7e7e" stroke-width="0.8"/>
<polyline points="528.0,192.6 525.0,192.6 525.0,230.0 528.0,230.0" fill="none" stroke="#7e7e7e" stroke-width="0.8"/>
<polyline points="530.0,187.6 528.0,187.6 528.0,197.8 530.0,197.8" fill="none" stroke="#7e7e7e" stroke-width="0.8"/>
<polyline points="530.0,213.0 528.0,213.0 528.0,246.0 530.0,246.0" fill="none" stroke="#7e7e7e" stroke-width="0.8"/>
<polyline points="530.0,223.5 529.0,223.5 529.0,240.0 530.0,240.0" fill="none" stroke="#7e7e7e" stroke-width="0.8"/>
<text x="511.30" y="271.30" font-size="13.5" font-weight="bold" textLength="47.50" lengthAdjust="spacingAndGlyphs">Control</text>
<text x="565" y="271.3" font-size="13.5" font-weight="bold" textLength="66.3" lengthAdjust="spacingAndGlyphs">PUDF-GC<tspan font-size="8" dy="2.4">1</tspan></text>
</g>
<g id="pd">
<text x="639.00" y="34.40" font-size="20.6">(d)</text>
<rect x="660.50" y="43.70" width="189.70" height="14.00" fill="#fbe8df"/>
<rect x="660.50" y="57.50" width="189.70" height="206.30" fill="#f9ecdb"/>
<rect x="660.50" y="92.40" width="189.70" height="9.00" fill="#dcd8dc"/>
<rect x="660.50" y="124.80" width="189.70" height="20.30" fill="#dcd8dc"/>
<rect x="850.80" y="45.10" width="86.20" height="216.10" fill="#fff"/>
<line x1="850.80" y1="51.30" x2="937.00" y2="51.30" stroke="#ececec" stroke-width="0.6"/>
<line x1="850.80" y1="61.99" x2="937.00" y2="61.99" stroke="#ececec" stroke-width="0.6"/>
<line x1="850.80" y1="72.69" x2="937.00" y2="72.69" stroke="#ececec" stroke-width="0.6"/>
<line x1="850.80" y1="83.38" x2="937.00" y2="83.38" stroke="#ececec" stroke-width="0.6"/>
<line x1="850.80" y1="94.08" x2="937.00" y2="94.08" stroke="#ececec" stroke-width="0.6"/>
<line x1="850.80" y1="104.78" x2="937.00" y2="104.78" stroke="#ececec" stroke-width="0.6"/>
<line x1="850.80" y1="115.47" x2="937.00" y2="115.47" stroke="#ececec" stroke-width="0.6"/>
<line x1="850.80" y1="126.17" x2="937.00" y2="126.17" stroke="#ececec" stroke-width="0.6"/>
<line x1="850.80" y1="136.86" x2="937.00" y2="136.86" stroke="#ececec" stroke-width="0.6"/>
<line x1="850.80" y1="147.56" x2="937.00" y2="147.56" stroke="#ececec" stroke-width="0.6"/>
<line x1="850.80" y1="158.25" x2="937.00" y2="158.25" stroke="#ececec" stroke-width="0.6"/>
<line x1="850.80" y1="168.94" x2="937.00" y2="168.94" stroke="#ececec" stroke-width="0.6"/>
<line x1="850.80" y1="179.64" x2="937.00" y2="179.64" stroke="#ececec" stroke-width="0.6"/>
<line x1="850.80" y1="190.33" x2="937.00" y2="190.33" stroke="#ececec" stroke-width="0.6"/>
<line x1="850.80" y1="201.03" x2="937.00" y2="201.03" stroke="#ececec" stroke-width="0.6"/>
<line x1="850.80" y1="211.73" x2="937.00" y2="211.73" stroke="#ececec" stroke-width="0.6"/>
<line x1="850.80" y1="222.42" x2="937.00" y2="222.42" stroke="#ececec" stroke-width="0.6"/>
<line x1="850.80" y1="233.12" x2="937.00" y2="233.12" stroke="#ececec" stroke-width="0.6"/>
<line x1="850.80" y1="243.81" x2="937.00" y2="243.81" stroke="#ececec" stroke-width="0.6"/>
<line x1="850.80" y1="254.50" x2="937.00" y2="254.50" stroke="#ececec" stroke-width="0.6"/>
<line x1="864.50" y1="45.10" x2="864.50" y2="261.20" stroke="#f0f0f0" stroke-width="0.4"/>
<line x1="879.20" y1="45.10" x2="879.20" y2="261.20" stroke="#e6e6e6" stroke-width="0.6"/>
<line x1="894.00" y1="45.10" x2="894.00" y2="261.20" stroke="#f0f0f0" stroke-width="0.4"/>
<line x1="909.00" y1="45.10" x2="909.00" y2="261.20" stroke="#e6e6e6" stroke-width="0.6"/>
<line x1="924.50" y1="45.10" x2="924.50" y2="261.20" stroke="#f0f0f0" stroke-width="0.4"/>
<text x="849.20" y="55.00" font-size="9.3" fill="#1c1c1c" text-anchor="end">DNA replication</text>
<text x="849.20" y="65.96" font-size="9.3" fill="#1c1c1c" text-anchor="end">Riboflavin metabolism</text>
<text x="849.20" y="76.92" font-size="9.3" fill="#1c1c1c" text-anchor="end">Biotin metabolism</text>
<text x="849.20" y="87.88" font-size="9.3" fill="#1c1c1c" text-anchor="end">Glycerolipid metabolism</text>
<text x="849.20" y="98.84" font-size="9.3" fill="#1c1c1c" text-anchor="end">Two-component system</text>
<text x="849.20" y="109.80" font-size="9.3" fill="#1c1c1c" text-anchor="end">Biosynthesis of secondary metabolites</text>
<text x="849.20" y="120.76" font-size="9.3" fill="#1c1c1c" text-anchor="end">Nucleotidemetabolism</text>
<text x="849.20" y="131.72" font-size="9.3" fill="#1c1c1c" text-anchor="end">Sulfur relay system</text>
<text x="849.20" y="142.68" font-size="9.3" fill="#1c1c1c" text-anchor="end">Oxidative phosphorylation</text>
<text x="849.20" y="153.64" font-size="9.3" fill="#1c1c1c" text-anchor="end">Glycine, serine and threonine metabolism</text>
<text x="849.20" y="164.60" font-size="9.3" fill="#1c1c1c" text-anchor="end">Arginine biosynthesis</text>
<text x="849.20" y="175.56" font-size="9.3" fill="#1c1c1c" text-anchor="end">Glyoxylate and dicarboxylate metabolism</text>
<text x="849.20" y="186.52" font-size="9.3" fill="#1c1c1c" text-anchor="end">Biosynthesis of cofactors</text>
<text x="849.20" y="197.48" font-size="9.3" fill="#1c1c1c" text-anchor="end">Folate biosynthesis</text>
<text x="849.20" y="208.44" font-size="9.3" fill="#1c1c1c" text-anchor="end">One carbon pool by folate</text>
<text x="849.20" y="219.40" font-size="9.3" fill="#1c1c1c" text-anchor="end">Lipoic acid metabolism</text>
<text x="849.20" y="230.36" font-size="9.3" fill="#1c1c1c" text-anchor="end">Pyrimidine metabolism</text>
<text x="849.20" y="241.32" font-size="9.3" fill="#1c1c1c" text-anchor="end">Selenocompound metabolism</text>
<text x="849.20" y="252.28" font-size="9.3" fill="#1c1c1c" text-anchor="end">Alanine, aspartate and glutamate metabolism</text>
<text x="849.20" y="263.24" font-size="9.3" fill="#1c1c1c" text-anchor="end">Purine metabolism</text>
<circle cx="855.00" cy="51.30" r="0.80" fill="#7878fb"/>
<circle cx="855.00" cy="61.99" r="0.80" fill="#7878fb"/>
<circle cx="855.00" cy="72.69" r="0.80" fill="#7878fb"/>
<circle cx="855.00" cy="83.38" r="0.80" fill="#7878fb"/>
<circle cx="885.80" cy="94.08" r="2.20" fill="#7a7cf6"/>
<circle cx="932.80" cy="104.78" r="3.10" fill="#78e88c"/>
<circle cx="870.30" cy="115.47" r="1.80" fill="#7ce87c"/>
<circle cx="860.00" cy="126.17" r="1.30" fill="#8aea68"/>
<circle cx="870.30" cy="136.86" r="1.80" fill="#c6c41e"/>
<circle cx="870.30" cy="147.56" r="1.80" fill="#dca21c"/>
<circle cx="865.00" cy="158.25" r="1.50" fill="#f27a18"/>
<circle cx="875.50" cy="168.94" r="2.00" fill="#f26418"/>
<circle cx="906.50" cy="179.64" r="2.80" fill="#f0621c"/>
<circle cx="870.30" cy="190.33" r="1.80" fill="#f25c18"/>
<circle cx="865.00" cy="201.03" r="1.50" fill="#f25a18"/>
<circle cx="864.80" cy="211.73" r="1.50" fill="#f6581a"/>
<circle cx="885.80" cy="222.42" r="2.20" fill="#f0421e"/>
<circle cx="870.30" cy="233.12" r="1.70" fill="#f64c20"/>
<circle cx="880.50" cy="243.81" r="2.00" fill="#f63220"/>
<circle cx="906.50" cy="254.50" r="2.80" fill="#f0202e"/>
<rect x="850.8" y="45.1" width="86.20" height="216.10" fill="none" stroke="#333" stroke-width="1.2"/>
<line x1="879.40" y1="261.20" x2="879.40" y2="263.40" stroke="#222" stroke-width="0.8"/>
<line x1="909.00" y1="261.20" x2="909.00" y2="263.40" stroke="#222" stroke-width="0.8"/>
<text x="881.00" y="275.60" font-size="12.5" font-weight="bold" text-anchor="middle">0.1</text>
<text x="910.30" y="275.60" font-size="12.5" font-weight="bold" text-anchor="middle">0.2</text>
<text x="864.00" y="290.00" font-size="13.7" font-weight="bold" textLength="68.80" lengthAdjust="spacingAndGlyphs">GeneRatio</text>
<text font-size="13.2" font-weight="bold" textLength="70.2" lengthAdjust="spacingAndGlyphs" transform="translate(650.9 174.9) rotate(-90)">Description</text>
<circle cx="947.00" cy="115.80" r="1.20" fill="#000"/>
<text x="953.20" y="118.40" font-size="8.8" font-weight="bold">4</text>
<circle cx="947.00" cy="124.30" r="1.60" fill="#000"/>
<text x="953.20" y="126.90" font-size="8.8" font-weight="bold">5</text>
<circle cx="947.00" cy="132.30" r="2.20" fill="#000"/>
<text x="953.20" y="135.10" font-size="8.8" font-weight="bold">10</text>
<circle cx="947.00" cy="140.80" r="2.60" fill="#000"/>
<text x="953.20" y="143.80" font-size="8.8" font-weight="bold">12</text>
<rect x="944.00" y="161.30" width="6.40" height="40.00" fill="url(#rb)"/>
<text x="951.40" y="167.60" font-size="9" font-weight="bold">1.00</text>
<text x="951.40" y="176.40" font-size="9" font-weight="bold">0.75</text>
<text x="951.40" y="185.80" font-size="9" font-weight="bold">0.50</text>
<text x="951.40" y="193.30" font-size="9" font-weight="bold">0.05</text>
<text x="951.40" y="202.50" font-size="9" font-weight="bold">0.00</text>
</g>
<g id="pe">
<text x="22.40" y="304.40" font-size="20.8">(e)</text>
<rect x="81.20" y="319.50" width="149.60" height="22.30" fill="#ffc6cb"/>
<rect x="233.00" y="319.50" width="159.60" height="22.30" fill="#ff8896"/>
<rect x="395.00" y="319.50" width="165.20" height="22.30" fill="#ff5c74"/>
<rect x="562.50" y="319.50" width="166.30" height="22.30" fill="#b6001c"/>
<rect x="731.20" y="319.50" width="223.40" height="22.30" fill="#800012"/>
<text x="110" y="334.7" font-size="13.3" font-weight="bold" fill="#111" textLength="96.3" lengthAdjust="spacingAndGlyphs">Adsorb with Cl<tspan font-size="9" dy="-3.6">-</tspan></text>
<text x="242" y="334.7" font-size="13.3" font-weight="bold" fill="#111" textLength="143.5" lengthAdjust="spacingAndGlyphs">Adsorb with CH<tspan font-size="8.5" dy="2.6">3</tspan><tspan dy="-2.6">COOH</tspan></text>
<text x="395.6" y="335.3" font-size="13.3" font-weight="bold" fill="#111" textLength="163.2" lengthAdjust="spacingAndGlyphs">Adsorb with Cl<tspan font-size="9" dy="-3.6">-</tspan><tspan dy="3.6">/CH</tspan><tspan font-size="8.5" dy="2.6">3</tspan><tspan dy="-2.6">COOH</tspan></text>
<text x="572" y="335.3" font-size="13.3" font-weight="bold" fill="#fff" textLength="148.8" lengthAdjust="spacingAndGlyphs">Adsorb with Cl<tspan font-size="9" dy="-3.6">-</tspan><tspan dy="3.6"> ,15 MPa</tspan></text>
<text x="734.2" y="334.2" font-size="13.3" font-weight="bold" fill="#fff" textLength="215.3" lengthAdjust="spacingAndGlyphs">Adsorb with Cl<tspan font-size="9" dy="-3.6">-</tspan><tspan dy="3.6">/CH</tspan><tspan font-size="8.5" dy="2.6">3</tspan><tspan dy="-2.6">COOH ,15 MPa</tspan></text>
<rect x="81.20" y="411.70" width="149.60" height="21.60" fill="#b2f5ea"/>
<rect x="233.00" y="411.70" width="159.60" height="21.60" fill="#88eedd"/>
<rect x="395.00" y="411.70" width="165.20" height="21.60" fill="#48dec6"/>
<rect x="562.50" y="411.70" width="166.30" height="21.60" fill="#176e5c"/>
<rect x="731.20" y="411.70" width="223.40" height="21.60" fill="#0d4038"/>
<text x="110" y="426.8" font-size="13.3" font-weight="bold" fill="#111" textLength="96.3" lengthAdjust="spacingAndGlyphs">Adsorb with Cl<tspan font-size="9" dy="-3.6">-</tspan></text>
<text x="242" y="426.8" font-size="13.3" font-weight="bold" fill="#111" textLength="143.5" lengthAdjust="spacingAndGlyphs">Adsorb with CH<tspan font-size="8.5" dy="2.6">3</tspan><tspan dy="-2.6">COOH</tspan></text>
<text x="395.6" y="427.40000000000003" font-size="13.3" font-weight="bold" fill="#111" textLength="163.2" lengthAdjust="spacingAndGlyphs">Adsorb with Cl<tspan font-size="9" dy="-3.6">-</tspan><tspan dy="3.6">/CH</tspan><tspan font-size="8.5" dy="2.6">3</tspan><tspan dy="-2.6">COOH</tspan></text>
<text x="572" y="427.40000000000003" font-size="13.3" font-weight="bold" fill="#fff" textLength="148.8" lengthAdjust="spacingAndGlyphs">Adsorb with Cl<tspan font-size="9" dy="-3.6">-</tspan><tspan dy="3.6"> ,15 MPa</tspan></text>
<text x="734.2" y="426.3" font-size="13.3" font-weight="bold" fill="#fff" textLength="215.3" lengthAdjust="spacingAndGlyphs">Adsorb with Cl<tspan font-size="9" dy="-3.6">-</tspan><tspan dy="3.6">/CH</tspan><tspan font-size="8.5" dy="2.6">3</tspan><tspan dy="-2.6">COOH ,15 MPa</tspan></text>
<text font-size="18.4" font-weight="bold" fill="#c00000" text-anchor="middle" transform="translate(44.6 352) rotate(-90)">System1</text>
<text font-size="18.4" font-weight="bold" fill="#c00000" text-anchor="middle" transform="translate(66.8 351.3) rotate(-90)">PUDF</text>
<text font-size="18.6" font-weight="bold" fill="#1a755e" text-anchor="middle" transform="translate(44.6 451.8) rotate(-90)">System2</text>
<text font-size="18.5" font-weight="bold" fill="#1a755e" text-anchor="middle" transform="translate(66.8 451.8) rotate(-90)">PUDF-GC<tspan font-size="11" dy="3">1</tspan></text>
<polyline points="85.8,379.3 88.7,379.5" fill="none" stroke="#e01818" stroke-width="1.7" stroke-linecap="round" stroke-linejoin="round"/>
<polyline points="88.7,379.5 93.0,380.1" fill="none" stroke="#484848" stroke-width="1.5" stroke-linecap="round" stroke-linejoin="round"/>
<polyline points="94.2,375.0 98.3,380.8 101.6,385.8" fill="none" stroke="#484848" stroke-width="1.9" stroke-linecap="round" stroke-linejoin="round"/>
<polyline points="98.3,380.8 103.3,376.6 106.6,380.0 110.0,375.8 114.1,373.0" fill="none" stroke="#484848" stroke-width="1.9" stroke-linecap="round" stroke-linejoin="round"/>
<polyline points="106.6,380.0 110.8,383.3" fill="none" stroke="#484848" stroke-width="1.7" stroke-linecap="round" stroke-linejoin="round"/>
<polyline points="95.8,377.5 100.3,383.3" fill="none" stroke="#484848" stroke-width="1.5" stroke-linecap="round" stroke-linejoin="round"/>
<polyline points="100.8,378.6 105.0,382.1" fill="none" stroke="#484848" stroke-width="1.4" stroke-linecap="round" stroke-linejoin="round"/>
<polyline points="105.0,377.6 108.6,381.6" fill="none" stroke="#484848" stroke-width="1.3" stroke-linecap="round" stroke-linejoin="round"/>
<polyline points="173.2,376.6 177.4,376.3" fill="none" stroke="#484848" stroke-width="1.4" stroke-linecap="round" stroke-linejoin="round"/>
<polyline points="179.9,376.6 183.2,376.6" fill="none" stroke="#484848" stroke-width="1.3" stroke-linecap="round" stroke-linejoin="round"/>
<polyline points="94.2,375.0 94.2,372.5" fill="none" stroke="#8c8c8c" stroke-width="1.05" stroke-linecap="round" stroke-linejoin="round"/>
<polyline points="103.3,376.6 103.3,371.6" fill="none" stroke="#8c8c8c" stroke-width="1.05" stroke-linecap="round" stroke-linejoin="round"/>
<polyline points="110.0,375.8 111.0,370.0" fill="none" stroke="#8c8c8c" stroke-width="1.05" stroke-linecap="round" stroke-linejoin="round"/>
<polyline points="98.3,380.8 96.7,387.3" fill="none" stroke="#8c8c8c" stroke-width="1.05" stroke-linecap="round" stroke-linejoin="round"/>
<polyline points="101.6,385.8 102.0,389.3" fill="none" stroke="#8c8c8c" stroke-width="1.05" stroke-linecap="round" stroke-linejoin="round"/>
<polyline points="110.8,383.3 112.8,384.6" fill="none" stroke="#8c8c8c" stroke-width="1.05" stroke-linecap="round" stroke-linejoin="round"/>
<polyline points="110.8,383.3 115.0,384.1" fill="none" stroke="#8c8c8c" stroke-width="1.05" stroke-linecap="round" stroke-linejoin="round"/>
<polyline points="93.0,380.1 91.7,382.0" fill="none" stroke="#8c8c8c" stroke-width="1.05" stroke-linecap="round" stroke-linejoin="round"/>
<polyline points="114.1,373.0 112.6,370.0" fill="none" stroke="#8c8c8c" stroke-width="1.05" stroke-linecap="round" stroke-linejoin="round"/>
<polyline points="114.1,373.0 119.3,375.0" fill="none" stroke="#2038d8" stroke-width="1.8" stroke-linecap="round" stroke-linejoin="round"/>
<polyline points="119.3,375.0 122.6,376.6" fill="none" stroke="#484848" stroke-width="1.6" stroke-linecap="round" stroke-linejoin="round"/>
<polyline points="122.6,376.6 123.0,378.8" fill="none" stroke="#e01818" stroke-width="1.7" stroke-linecap="round" stroke-linejoin="round"/>
<polyline points="123.0,376.5 129.3,376.6" fill="none" stroke="#e01818" stroke-width="1.8" stroke-linecap="round" stroke-linejoin="round"/>
<polyline points="129.3,376.6 133.3,376.3 137.4,375.8 142.4,375.0 147.4,374.1 150.9,374.1" fill="none" stroke="#484848" stroke-width="2.1" stroke-linecap="round" stroke-linejoin="round"/>
<polyline points="132.9,372.3 132.9,380.3" fill="none" stroke="#707070" stroke-width="1.0" stroke-linecap="round" stroke-linejoin="round"/>
<polyline points="137.6,371.8 137.6,379.8" fill="none" stroke="#707070" stroke-width="1.0" stroke-linecap="round" stroke-linejoin="round"/>
<polyline points="142.6,371.1 142.6,379.1" fill="none" stroke="#707070" stroke-width="1.0" stroke-linecap="round" stroke-linejoin="round"/>
<polyline points="147.9,370.5 147.9,378.5" fill="none" stroke="#707070" stroke-width="1.0" stroke-linecap="round" stroke-linejoin="round"/>
<polyline points="150.9,374.1 155.9,373.3" fill="none" stroke="#e01818" stroke-width="1.8" stroke-linecap="round" stroke-linejoin="round"/>
<polyline points="155.9,373.3 158.3,373.3" fill="none" stroke="#484848" stroke-width="1.6" stroke-linecap="round" stroke-linejoin="round"/>
<polyline points="158.3,373.3 158.8,375.5" fill="none" stroke="#e01818" stroke-width="1.7" stroke-linecap="round" stroke-linejoin="round"/>
<polyline points="158.3,373.3 161.6,372.0" fill="none" stroke="#484848" stroke-width="1.6" stroke-linecap="round" stroke-linejoin="round"/>
<polyline points="161.6,372.0 166.6,371.3" fill="none" stroke="#2038d8" stroke-width="1.8" stroke-linecap="round" stroke-linejoin="round"/>
<polyline points="166.6,371.3 169.1,368.3" fill="none" stroke="#484848" stroke-width="1.6" stroke-linecap="round" stroke-linejoin="round"/>
<polyline points="169.1,368.3 168.7,366.2" fill="none" stroke="#8c8c8c" stroke-width="1.05" stroke-linecap="round" stroke-linejoin="round"/>
<polyline points="166.6,371.3 172.4,375.0 171.6,380.8 167.4,382.5" fill="none" stroke="#484848" stroke-width="1.8" stroke-linecap="round" stroke-linejoin="round"/>
<polyline points="172.4,375.0 178.2,374.1 179.1,384.1" fill="none" stroke="#484848" stroke-width="1.9" stroke-linecap="round" stroke-linejoin="round"/>
<polyline points="178.2,374.1 184.1,375.0 184.9,370.8" fill="none" stroke="#484848" stroke-width="1.8" stroke-linecap="round" stroke-linejoin="round"/>
<polyline points="172.4,375.0 173.2,369.6" fill="none" stroke="#8c8c8c" stroke-width="1.05" stroke-linecap="round" stroke-linejoin="round"/>
<polyline points="178.2,374.1 179.1,368.8" fill="none" stroke="#8c8c8c" stroke-width="1.05" stroke-linecap="round" stroke-linejoin="round"/>
<polyline points="171.6,380.8 173.6,382.0" fill="none" stroke="#8c8c8c" stroke-width="1.05" stroke-linecap="round" stroke-linejoin="round"/>
<polyline points="179.1,384.1 181.9,385.0" fill="none" stroke="#8c8c8c" stroke-width="1.05" stroke-linecap="round" stroke-linejoin="round"/>
<polyline points="167.4,382.5 166.6,381.3" fill="none" stroke="#8c8c8c" stroke-width="1.05" stroke-linecap="round" stroke-linejoin="round"/>
<polyline points="184.1,375.0 184.6,378.6" fill="none" stroke="#8c8c8c" stroke-width="1.05" stroke-linecap="round" stroke-linejoin="round"/>
<polyline points="185.9,374.1 190.9,375.3" fill="none" stroke="#2038d8" stroke-width="1.8" stroke-linecap="round" stroke-linejoin="round"/>
<polyline points="190.9,375.3 194.9,376.3" fill="none" stroke="#484848" stroke-width="1.6" stroke-linecap="round" stroke-linejoin="round"/>
<polyline points="194.9,376.3 195.2,378.1" fill="none" stroke="#e01818" stroke-width="1.7" stroke-linecap="round" stroke-linejoin="round"/>
<polyline points="196.2,375.1 200.9,374.6" fill="none" stroke="#e01818" stroke-width="1.8" stroke-linecap="round" stroke-linejoin="round"/>
<polyline points="200.9,374.6 205.9,375.0" fill="none" stroke="#2038d8" stroke-width="1.8" stroke-linecap="round" stroke-linejoin="round"/>
<polyline points="205.9,375.0 209.2,375.8" fill="none" stroke="#484848" stroke-width="1.6" stroke-linecap="round" stroke-linejoin="round"/>
<polyline points="209.2,375.8 213.2,374.1 221.5,374.1 226.5,375.3 221.5,376.2 213.2,376.2 209.2,375.8" fill="none" stroke="#484848" stroke-width="1.6" stroke-linecap="round" stroke-linejoin="round"/>
<polyline points="216.2,375.8 220.2,375.8" fill="none" stroke="#e01818" stroke-width="1.8" stroke-linecap="round" stroke-linejoin="round"/>
<polyline points="226.5,375.3 230.8,375.0" fill="none" stroke="#484848" stroke-width="1.6" stroke-linecap="round" stroke-linejoin="round"/>
<polyline points="230.8,375.0 235.0,375.0" fill="none" stroke="#2038d8" stroke-width="1.8" stroke-linecap="round" stroke-linejoin="round"/>
<polyline points="235.0,375.0 238.3,375.8" fill="none" stroke="#e01818" stroke-width="1.8" stroke-linecap="round" stroke-linejoin="round"/>
<circle cx="176.00" cy="357.70" r="0.70" fill="#58d858"/>
<polyline points="252.5,379.4 255.4,379.6" fill="none" stroke="#e01818" stroke-width="1.7" stroke-linecap="round" stroke-linejoin="round"/>
<polyline points="255.4,379.6 259.7,380.2" fill="none" stroke="#484848" stroke-width="1.5" stroke-linecap="round" stroke-linejoin="round"/>
<polyline points="260.9,375.1 265.0,380.9 268.3,385.9" fill="none" stroke="#484848" stroke-width="1.9" stroke-linecap="round" stroke-linejoin="round"/>
<polyline points="265.0,380.9 270.0,376.7 273.3,380.1 276.7,375.9 280.8,373.1" fill="none" stroke="#484848" stroke-width="1.9" stroke-linecap="round" stroke-linejoin="round"/>
<polyline points="273.3,380.1 277.5,383.4" fill="none" stroke="#484848" stroke-width="1.7" stroke-linecap="round" stroke-linejoin="round"/>
<polyline points="262.5,377.6 267.0,383.4" fill="none" stroke="#484848" stroke-width="1.5" stroke-linecap="round" stroke-linejoin="round"/>
<polyline points="267.5,378.7 271.7,382.2" fill="none" stroke="#484848" stroke-width="1.4" stroke-linecap="round" stroke-linejoin="round"/>
<polyline points="271.7,377.7 275.3,381.7" fill="none" stroke="#484848" stroke-width="1.3" stroke-linecap="round" stroke-linejoin="round"/>
<polyline points="339.9,376.7 344.1,376.4" fill="none" stroke="#484848" stroke-width="1.4" stroke-linecap="round" stroke-linejoin="round"/>
<polyline points="346.6,376.7 349.9,376.7" fill="none" stroke="#484848" stroke-width="1.3" stroke-linecap="round" stroke-linejoin="round"/>
<polyline points="260.9,375.1 260.9,372.6" fill="none" stroke="#8c8c8c" stroke-width="1.05" stroke-linecap="round" stroke-linejoin="round"/>
<polyline points="270.0,376.7 270.0,371.7" fill="none" stroke="#8c8c8c" stroke-width="1.05" stroke-linecap="round" stroke-linejoin="round"/>
<polyline points="276.7,375.9 277.7,370.1" fill="none" stroke="#8c8c8c" stroke-width="1.05" stroke-linecap="round" stroke-linejoin="round"/>
<polyline points="265.0,380.9 263.4,387.4" fill="none" stroke="#8c8c8c" stroke-width="1.05" stroke-linecap="round" stroke-linejoin="round"/>
<polyline points="268.3,385.9 268.7,389.4" fill="none" stroke="#8c8c8c" stroke-width="1.05" stroke-linecap="round" stroke-linejoin="round"/>
<polyline points="277.5,383.4 279.5,384.7" fill="none" stroke="#8c8c8c" stroke-width="1.05" stroke-linecap="round" stroke-linejoin="round"/>
<polyline points="277.5,383.4 281.7,384.2" fill="none" stroke="#8c8c8c" stroke-width="1.05" stroke-linecap="round" stroke-linejoin="round"/>
<polyline points="259.7,380.2 258.4,382.1" fill="none" stroke="#8c8c8c" stroke-width="1.05" stroke-linecap="round" stroke-linejoin="round"/>
<polyline points="280.8,373.1 279.3,370.1" fill="none" stroke="#8c8c8c" stroke-width="1.05" stroke-linecap="round" stroke-linejoin="round"/>
<polyline points="280.8,373.1 286.0,375.1" fill="none" stroke="#2038d8" stroke-width="1.8" stroke-linecap="round" stroke-linejoin="round"/>
<polyline points="286.0,375.1 289.3,376.7" fill="none" stroke="#484848" stroke-width="1.6" stroke-linecap="round" stroke-linejoin="round"/>
<polyline points="289.3,376.7 289.7,378.9" fill="none" stroke="#e01818" stroke-width="1.7" stroke-linecap="round" stroke-linejoin="round"/>
<polyline points="289.7,376.6 296.0,376.7" fill="none" stroke="#e01818" stroke-width="1.8" stroke-linecap="round" stroke-linejoin="round"/>
<polyline points="296.0,376.7 300.0,376.4 304.1,375.9 309.1,375.1 314.1,374.2 317.6,374.2" fill="none" stroke="#484848" stroke-width="2.1" stroke-linecap="round" stroke-linejoin="round"/>
<polyline points="299.6,372.4 299.6,380.4" fill="none" stroke="#707070" stroke-width="1.0" stroke-linecap="round" stroke-linejoin="round"/>
<polyline points="304.3,371.9 304.3,379.9" fill="none" stroke="#707070" stroke-width="1.0" stroke-linecap="round" stroke-linejoin="round"/>
<polyline points="309.3,371.2 309.3,379.2" fill="none" stroke="#707070" stroke-width="1.0" stroke-linecap="round" stroke-linejoin="round"/>
<polyline points="314.6,370.6 314.6,378.6" fill="none" stroke="#707070" stroke-width="1.0" stroke-linecap="round" stroke-linejoin="round"/>
<polyline points="317.6,374.2 322.6,373.4" fill="none" stroke="#e01818" stroke-width="1.8" stroke-linecap="round" stroke-linejoin="round"/>
<polyline points="322.6,373.4 325.0,373.4" fill="none" stroke="#484848" stroke-width="1.6" stroke-linecap="round" stroke-linejoin="round"/>
<polyline points="325.0,373.4 325.5,375.6" fill="none" stroke="#e01818" stroke-width="1.7" stroke-linecap="round" stroke-linejoin="round"/>
<polyline points="325.0,373.4 328.3,372.1" fill="none" stroke="#484848" stroke-width="1.6" stroke-linecap="round" stroke-linejoin="round"/>
<polyline points="328.3,372.1 333.3,371.4" fill="none" stroke="#2038d8" stroke-width="1.8" stroke-linecap="round" stroke-linejoin="round"/>
<polyline points="333.3,371.4 335.8,368.4" fill="none" stroke="#484848" stroke-width="1.6" stroke-linecap="round" stroke-linejoin="round"/>
<polyline points="335.8,368.4 335.4,366.3" fill="none" stroke="#8c8c8c" stroke-width="1.05" stroke-linecap="round" stroke-linejoin="round"/>
<polyline points="333.3,371.4 339.1,375.1 338.3,380.9 334.1,382.6" fill="none" stroke="#484848" stroke-width="1.8" stroke-linecap="round" stroke-linejoin="round"/>
<polyline points="339.1,375.1 344.9,374.2 345.8,384.2" fill="none" stroke="#484848" stroke-width="1.9" stroke-linecap="round" stroke-linejoin="round"/>
<polyline points="344.9,374.2 350.8,375.1 351.6,370.9" fill="none" stroke="#484848" stroke-width="1.8" stroke-linecap="round" stroke-linejoin="round"/>
<polyline points="339.1,375.1 339.9,369.7" fill="none" stroke="#8c8c8c" stroke-width="1.05" stroke-linecap="round" stroke-linejoin="round"/>
<polyline points="344.9,374.2 345.8,368.9" fill="none" stroke="#8c8c8c" stroke-width="1.05" stroke-linecap="round" stroke-linejoin="round"/>
<polyline points="338.3,380.9 340.3,382.1" fill="none" stroke="#8c8c8c" stroke-width="1.05" stroke-linecap="round" stroke-linejoin="round"/>
<polyline points="345.8,384.2 348.6,385.1" fill="none" stroke="#8c8c8c" stroke-width="1.05" stroke-linecap="round" stroke-linejoin="round"/>
<polyline points="334.1,382.6 333.3,381.4" fill="none" stroke="#8c8c8c" stroke-width="1.05" stroke-linecap="round" stroke-linejoin="round"/>
<polyline points="350.8,375.1 351.3,378.7" fill="none" stroke="#8c8c8c" stroke-width="1.05" stroke-linecap="round" stroke-linejoin="round"/>
<polyline points="352.6,374.2 357.6,375.4" fill="none" stroke="#2038d8" stroke-width="1.8" stroke-linecap="round" stroke-linejoin="round"/>
<polyline points="357.6,375.4 361.6,376.4" fill="none" stroke="#484848" stroke-width="1.6" stroke-linecap="round" stroke-linejoin="round"/>
<polyline points="361.6,376.4 361.9,378.2" fill="none" stroke="#e01818" stroke-width="1.7" stroke-linecap="round" stroke-linejoin="round"/>
<polyline points="362.9,375.2 367.6,374.7" fill="none" stroke="#e01818" stroke-width="1.8" stroke-linecap="round" stroke-linejoin="round"/>
<polyline points="367.6,374.7 372.6,375.1" fill="none" stroke="#2038d8" stroke-width="1.8" stroke-linecap="round" stroke-linejoin="round"/>
<polyline points="372.6,375.1 375.9,375.9" fill="none" stroke="#484848" stroke-width="1.6" stroke-linecap="round" stroke-linejoin="round"/>
<polyline points="375.9,375.9 379.9,374.2 388.2,374.2 393.2,375.4 388.2,376.3 379.9,376.3 375.9,375.9" fill="none" stroke="#484848" stroke-width="1.6" stroke-linecap="round" stroke-linejoin="round"/>
<polyline points="382.9,375.9 386.9,375.9" fill="none" stroke="#e01818" stroke-width="1.8" stroke-linecap="round" stroke-linejoin="round"/>
<polyline points="393.2,375.4 397.5,375.1" fill="none" stroke="#484848" stroke-width="1.6" stroke-linecap="round" stroke-linejoin="round"/>
<polyline points="397.5,375.1 401.7,375.1" fill="none" stroke="#2038d8" stroke-width="1.8" stroke-linecap="round" stroke-linejoin="round"/>
<polyline points="401.7,375.1 405.0,375.9" fill="none" stroke="#e01818" stroke-width="1.8" stroke-linecap="round" stroke-linejoin="round"/>
<polyline points="367.5,358.5 369.5,359.7 376.5,360.1" fill="none" stroke="#484848" stroke-width="1.5"/>
<polyline points="376.5,360.1 383.0,359.7" fill="none" stroke="#e01818" stroke-width="1.6"/>
<polyline points="369.5,359.7 369.0,364.0" fill="none" stroke="#8c8c8c" stroke-width="0.8"/>
<polyline points="415.0,386.4 417.9,386.6" fill="none" stroke="#e01818" stroke-width="1.7" stroke-linecap="round" stroke-linejoin="round"/>
<polyline points="417.9,386.6 422.2,387.2" fill="none" stroke="#484848" stroke-width="1.5" stroke-linecap="round" stroke-linejoin="round"/>
<polyline points="423.4,382.1 427.5,387.9 430.8,392.9" fill="none" stroke="#484848" stroke-width="1.9" stroke-linecap="round" stroke-linejoin="round"/>
<polyline points="427.5,387.9 432.5,383.7 435.8,387.1 439.2,382.9 443.3,380.1" fill="none" stroke="#484848" stroke-width="1.9" stroke-linecap="round" stroke-linejoin="round"/>
<polyline points="435.8,387.1 440.0,390.4" fill="none" stroke="#484848" stroke-width="1.7" stroke-linecap="round" stroke-linejoin="round"/>
<polyline points="425.0,384.6 429.5,390.4" fill="none" stroke="#484848" stroke-width="1.5" stroke-linecap="round" stroke-linejoin="round"/>
<polyline points="430.0,385.7 434.2,389.2" fill="none" stroke="#484848" stroke-width="1.4" stroke-linecap="round" stroke-linejoin="round"/>
<polyline points="434.2,384.7 437.8,388.7" fill="none" stroke="#484848" stroke-width="1.3" stroke-linecap="round" stroke-linejoin="round"/>
<polyline points="502.4,383.7 506.6,383.4" fill="none" stroke="#484848" stroke-width="1.4" stroke-linecap="round" stroke-linejoin="round"/>
<polyline points="509.1,383.7 512.4,383.7" fill="none" stroke="#484848" stroke-width="1.3" stroke-linecap="round" stroke-linejoin="round"/>
<polyline points="423.4,382.1 423.4,379.6" fill="none" stroke="#8c8c8c" stroke-width="1.05" stroke-linecap="round" stroke-linejoin="round"/>
<polyline points="432.5,383.7 432.5,378.7" fill="none" stroke="#8c8c8c" stroke-width="1.05" stroke-linecap="round" stroke-linejoin="round"/>
<polyline points="439.2,382.9 440.2,377.1" fill="none" stroke="#8c8c8c" stroke-width="1.05" stroke-linecap="round" stroke-linejoin="round"/>
<polyline points="427.5,387.9 425.9,394.4" fill="none" stroke="#8c8c8c" stroke-width="1.05" stroke-linecap="round" stroke-linejoin="round"/>
<polyline points="430.8,392.9 431.2,396.4" fill="none" stroke="#8c8c8c" stroke-width="1.05" stroke-linecap="round" stroke-linejoin="round"/>
<polyline points="440.0,390.4 442.0,391.7" fill="none" stroke="#8c8c8c" stroke-width="1.05" stroke-linecap="round" stroke-linejoin="round"/>
<polyline points="440.0,390.4 444.2,391.2" fill="none" stroke="#8c8c8c" stroke-width="1.05" stroke-linecap="round" stroke-linejoin="round"/>
<polyline points="422.2,387.2 420.9,389.1" fill="none" stroke="#8c8c8c" stroke-width="1.05" stroke-linecap="round" stroke-linejoin="round"/>
<polyline points="443.3,380.1 441.8,377.1" fill="none" stroke="#8c8c8c" stroke-width="1.05" stroke-linecap="round" stroke-linejoin="round"/>
<polyline points="443.3,380.1 448.5,382.1" fill="none" stroke="#2038d8" stroke-width="1.8" stroke-linecap="round" stroke-linejoin="round"/>
<polyline points="448.5,382.1 451.8,383.7" fill="none" stroke="#484848" stroke-width="1.6" stroke-linecap="round" stroke-linejoin="round"/>
<polyline points="451.8,383.7 452.2,385.9" fill="none" stroke="#e01818" stroke-width="1.7" stroke-linecap="round" stroke-linejoin="round"/>
<polyline points="452.2,383.6 458.5,383.7" fill="none" stroke="#e01818" stroke-width="1.8" stroke-linecap="round" stroke-linejoin="round"/>
<polyline points="458.5,383.7 462.5,383.4 466.6,382.9 471.6,382.1 476.6,381.2 480.1,381.2" fill="none" stroke="#484848" stroke-width="2.1" stroke-linecap="round" stroke-linejoin="round"/>
<polyline points="462.1,379.4 462.1,387.4" fill="none" stroke="#707070" stroke-width="1.0" stroke-linecap="round" stroke-linejoin="round"/>
<polyline points="466.8,378.9 466.8,386.9" fill="none" stroke="#707070" stroke-width="1.0" stroke-linecap="round" stroke-linejoin="round"/>
<polyline points="471.8,378.2 471.8,386.2" fill="none" stroke="#707070" stroke-width="1.0" stroke-linecap="round" stroke-linejoin="round"/>
<polyline points="477.1,377.6 477.1,385.6" fill="none" stroke="#707070" stroke-width="1.0" stroke-linecap="round" stroke-linejoin="round"/>
<polyline points="480.1,381.2 485.1,380.4" fill="none" stroke="#e01818" stroke-width="1.8" stroke-linecap="round" stroke-linejoin="round"/>
<polyline points="485.1,380.4 487.5,380.4" fill="none" stroke="#484848" stroke-width="1.6" stroke-linecap="round" stroke-linejoin="round"/>
<polyline points="487.5,380.4 488.0,382.6" fill="none" stroke="#e01818" stroke-width="1.7" stroke-linecap="round" stroke-linejoin="round"/>
<polyline points="487.5,380.4 490.8,379.1" fill="none" stroke="#484848" stroke-width="1.6" stroke-linecap="round" stroke-linejoin="round"/>
<polyline points="490.8,379.1 495.8,378.4" fill="none" stroke="#2038d8" stroke-width="1.8" stroke-linecap="round" stroke-linejoin="round"/>
<polyline points="495.8,378.4 498.3,375.4" fill="none" stroke="#484848" stroke-width="1.6" stroke-linecap="round" stroke-linejoin="round"/>
<polyline points="498.3,375.4 497.9,373.3" fill="none" stroke="#8c8c8c" stroke-width="1.05" stroke-linecap="round" stroke-linejoin="round"/>
<polyline points="495.8,378.4 501.6,382.1 500.8,387.9 496.6,389.6" fill="none" stroke="#484848" stroke-width="1.8" stroke-linecap="round" stroke-linejoin="round"/>
<polyline points="501.6,382.1 507.4,381.2 508.3,391.2" fill="none" stroke="#484848" stroke-width="1.9" stroke-linecap="round" stroke-linejoin="round"/>
<polyline points="507.4,381.2 513.3,382.1 514.1,377.9" fill="none" stroke="#484848" stroke-width="1.8" stroke-linecap="round" stroke-linejoin="round"/>
<polyline points="501.6,382.1 502.4,376.7" fill="none" stroke="#8c8c8c" stroke-width="1.05" stroke-linecap="round" stroke-linejoin="round"/>
<polyline points="507.4,381.2 508.3,375.9" fill="none" stroke="#8c8c8c" stroke-width="1.05" stroke-linecap="round" stroke-linejoin="round"/>
<polyline points="500.8,387.9 502.8,389.1" fill="none" stroke="#8c8c8c" stroke-width="1.05" stroke-linecap="round" stroke-linejoin="round"/>
<polyline points="508.3,391.2 511.1,392.1" fill="none" stroke="#8c8c8c" stroke-width="1.05" stroke-linecap="round" stroke-linejoin="round"/>
<polyline points="496.6,389.6 495.8,388.4" fill="none" stroke="#8c8c8c" stroke-width="1.05" stroke-linecap="round" stroke-linejoin="round"/>
<polyline points="513.3,382.1 513.8,385.7" fill="none" stroke="#8c8c8c" stroke-width="1.05" stroke-linecap="round" stroke-linejoin="round"/>
<polyline points="515.1,381.2 520.1,382.4" fill="none" stroke="#2038d8" stroke-width="1.8" stroke-linecap="round" stroke-linejoin="round"/>
<polyline points="520.1,382.4 524.1,383.4" fill="none" stroke="#484848" stroke-width="1.6" stroke-linecap="round" stroke-linejoin="round"/>
<polyline points="524.1,383.4 524.4,385.2" fill="none" stroke="#e01818" stroke-width="1.7" stroke-linecap="round" stroke-linejoin="round"/>
<polyline points="525.4,382.2 530.1,381.7" fill="none" stroke="#e01818" stroke-width="1.8" stroke-linecap="round" stroke-linejoin="round"/>
<polyline points="530.1,381.7 535.1,382.1" fill="none" stroke="#2038d8" stroke-width="1.8" stroke-linecap="round" stroke-linejoin="round"/>
<polyline points="535.1,382.1 538.4,382.9" fill="none" stroke="#484848" stroke-width="1.6" stroke-linecap="round" stroke-linejoin="round"/>
<polyline points="538.4,382.9 542.4,381.2 550.7,381.2 555.7,382.4 550.7,383.3 542.4,383.3 538.4,382.9" fill="none" stroke="#484848" stroke-width="1.6" stroke-linecap="round" stroke-linejoin="round"/>
<polyline points="545.4,382.9 549.4,382.9" fill="none" stroke="#e01818" stroke-width="1.8" stroke-linecap="round" stroke-linejoin="round"/>
<polyline points="555.7,382.4 560.0,382.1" fill="none" stroke="#484848" stroke-width="1.6" stroke-linecap="round" stroke-linejoin="round"/>
<polyline points="560.0,382.1 564.2,382.1" fill="none" stroke="#2038d8" stroke-width="1.8" stroke-linecap="round" stroke-linejoin="round"/>
<polyline points="564.2,382.1 567.5,382.9" fill="none" stroke="#e01818" stroke-width="1.8" stroke-linecap="round" stroke-linejoin="round"/>
<polyline points="491.0,352.0 494.5,354.5 499.0,349.0" fill="none" stroke="#484848" stroke-width="1.5"/>
<polyline points="499.0,349.0 499.0,346.0" fill="none" stroke="#e01818" stroke-width="1.6"/>
<polyline points="499.0,349.0 504.0,354.0 504.0,358.0" fill="none" stroke="#e01818" stroke-width="1.5"/>
<polyline points="494.5,354.5 494.5,358.5" fill="none" stroke="#8c8c8c" stroke-width="0.8"/>
<circle cx="505.00" cy="365.00" r="0.70" fill="#58d858"/>
<polyline points="583.7,380.6 586.6,380.8" fill="none" stroke="#e01818" stroke-width="1.7" stroke-linecap="round" stroke-linejoin="round"/>
<polyline points="586.6,380.8 590.9,381.4" fill="none" stroke="#484848" stroke-width="1.5" stroke-linecap="round" stroke-linejoin="round"/>
<polyline points="592.1,376.3 596.2,382.1 599.5,387.1" fill="none" stroke="#484848" stroke-width="1.9" stroke-linecap="round" stroke-linejoin="round"/>
<polyline points="596.2,382.1 601.2,377.9 604.5,381.3 607.9,377.1 612.0,374.3" fill="none" stroke="#484848" stroke-width="1.9" stroke-linecap="round" stroke-linejoin="round"/>
<polyline points="604.5,381.3 608.7,384.6" fill="none" stroke="#484848" stroke-width="1.7" stroke-linecap="round" stroke-linejoin="round"/>
<polyline points="593.7,378.8 598.2,384.6" fill="none" stroke="#484848" stroke-width="1.5" stroke-linecap="round" stroke-linejoin="round"/>
<polyline points="598.7,379.9 602.9,383.4" fill="none" stroke="#484848" stroke-width="1.4" stroke-linecap="round" stroke-linejoin="round"/>
<polyline points="602.9,378.9 606.5,382.9" fill="none" stroke="#484848" stroke-width="1.3" stroke-linecap="round" stroke-linejoin="round"/>
<polyline points="671.1,377.9 675.3,377.6" fill="none" stroke="#484848" stroke-width="1.4" stroke-linecap="round" stroke-linejoin="round"/>
<polyline points="677.8,377.9 681.1,377.9" fill="none" stroke="#484848" stroke-width="1.3" stroke-linecap="round" stroke-linejoin="round"/>
<polyline points="592.1,376.3 592.1,373.8" fill="none" stroke="#8c8c8c" stroke-width="1.05" stroke-linecap="round" stroke-linejoin="round"/>
<polyline points="601.2,377.9 601.2,372.9" fill="none" stroke="#8c8c8c" stroke-width="1.05" stroke-linecap="round" stroke-linejoin="round"/>
<polyline points="607.9,377.1 608.9,371.3" fill="none" stroke="#8c8c8c" stroke-width="1.05" stroke-linecap="round" stroke-linejoin="round"/>
<polyline points="596.2,382.1 594.6,388.6" fill="none" stroke="#8c8c8c" stroke-width="1.05" stroke-linecap="round" stroke-linejoin="round"/>
<polyline points="599.5,387.1 599.9,390.6" fill="none" stroke="#8c8c8c" stroke-width="1.05" stroke-linecap="round" stroke-linejoin="round"/>
<polyline points="608.7,384.6 610.7,385.9" fill="none" stroke="#8c8c8c" stroke-width="1.05" stroke-linecap="round" stroke-linejoin="round"/>
<polyline points="608.7,384.6 612.9,385.4" fill="none" stroke="#8c8c8c" stroke-width="1.05" stroke-linecap="round" stroke-linejoin="round"/>
<polyline points="590.9,381.4 589.6,383.3" fill="none" stroke="#8c8c8c" stroke-width="1.05" stroke-linecap="round" stroke-linejoin="round"/>
<polyline points="612.0,374.3 610.5,371.3" fill="none" stroke="#8c8c8c" stroke-width="1.05" stroke-linecap="round" stroke-linejoin="round"/>
<polyline points="612.0,374.3 617.2,376.3" fill="none" stroke="#2038d8" stroke-width="1.8" stroke-linecap="round" stroke-linejoin="round"/>
<polyline points="617.2,376.3 620.5,377.9" fill="none" stroke="#484848" stroke-width="1.6" stroke-linecap="round" stroke-linejoin="round"/>
<polyline points="620.5,377.9 620.9,380.1" fill="none" stroke="#e01818" stroke-width="1.7" stroke-linecap="round" stroke-linejoin="round"/>
<polyline points="620.9,377.8 627.2,377.9" fill="none" stroke="#e01818" stroke-width="1.8" stroke-linecap="round" stroke-linejoin="round"/>
<polyline points="627.2,377.9 631.2,377.6 635.3,377.1 640.3,376.3 645.3,375.4 648.8,375.4" fill="none" stroke="#484848" stroke-width="2.1" stroke-linecap="round" stroke-linejoin="round"/>
<polyline points="630.8,373.6 630.8,381.6" fill="none" stroke="#707070" stroke-width="1.0" stroke-linecap="round" stroke-linejoin="round"/>
<polyline points="635.5,373.1 635.5,381.1" fill="none" stroke="#707070" stroke-width="1.0" stroke-linecap="round" stroke-linejoin="round"/>
<polyline points="640.5,372.4 640.5,380.4" fill="none" stroke="#707070" stroke-width="1.0" stroke-linecap="round" stroke-linejoin="round"/>
<polyline points="645.8,371.8 645.8,379.8" fill="none" stroke="#707070" stroke-width="1.0" stroke-linecap="round" stroke-linejoin="round"/>
<polyline points="648.8,375.4 653.8,374.6" fill="none" stroke="#e01818" stroke-width="1.8" stroke-linecap="round" stroke-linejoin="round"/>
<polyline points="653.8,374.6 656.2,374.6" fill="none" stroke="#484848" stroke-width="1.6" stroke-linecap="round" stroke-linejoin="round"/>
<polyline points="656.2,374.6 656.7,376.8" fill="none" stroke="#e01818" stroke-width="1.7" stroke-linecap="round" stroke-linejoin="round"/>
<polyline points="656.2,374.6 659.5,373.3" fill="none" stroke="#484848" stroke-width="1.6" stroke-linecap="round" stroke-linejoin="round"/>
<polyline points="659.5,373.3 664.5,372.6" fill="none" stroke="#2038d8" stroke-width="1.8" stroke-linecap="round" stroke-linejoin="round"/>
<polyline points="664.5,372.6 667.0,369.6" fill="none" stroke="#484848" stroke-width="1.6" stroke-linecap="round" stroke-linejoin="round"/>
<polyline points="667.0,369.6 666.6,367.5" fill="none" stroke="#8c8c8c" stroke-width="1.05" stroke-linecap="round" stroke-linejoin="round"/>
<polyline points="664.5,372.6 670.3,376.3 669.5,382.1 665.3,383.8" fill="none" stroke="#484848" stroke-width="1.8" stroke-linecap="round" stroke-linejoin="round"/>
<polyline points="670.3,376.3 676.1,375.4 677.0,385.4" fill="none" stroke="#484848" stroke-width="1.9" stroke-linecap="round" stroke-linejoin="round"/>
<polyline points="676.1,375.4 682.0,376.3 682.8,372.1" fill="none" stroke="#484848" stroke-width="1.8" stroke-linecap="round" stroke-linejoin="round"/>
<polyline points="670.3,376.3 671.1,370.9" fill="none" stroke="#8c8c8c" stroke-width="1.05" stroke-linecap="round" stroke-linejoin="round"/>
<polyline points="676.1,375.4 677.0,370.1" fill="none" stroke="#8c8c8c" stroke-width="1.05" stroke-linecap="round" stroke-linejoin="round"/>
<polyline points="669.5,382.1 671.5,383.3" fill="none" stroke="#8c8c8c" stroke-width="1.05" stroke-linecap="round" stroke-linejoin="round"/>
<polyline points="677.0,385.4 679.8,386.3" fill="none" stroke="#8c8c8c" stroke-width="1.05" stroke-linecap="round" stroke-linejoin="round"/>
<polyline points="665.3,383.8 664.5,382.6" fill="none" stroke="#8c8c8c" stroke-width="1.05" stroke-linecap="round" stroke-linejoin="round"/>
<polyline points="682.0,376.3 682.5,379.9" fill="none" stroke="#8c8c8c" stroke-width="1.05" stroke-linecap="round" stroke-linejoin="round"/>
<polyline points="683.8,375.4 688.8,376.6" fill="none" stroke="#2038d8" stroke-width="1.8" stroke-linecap="round" stroke-linejoin="round"/>
<polyline points="688.8,376.6 692.8,377.6" fill="none" stroke="#484848" stroke-width="1.6" stroke-linecap="round" stroke-linejoin="round"/>
<polyline points="692.8,377.6 693.1,379.4" fill="none" stroke="#e01818" stroke-width="1.7" stroke-linecap="round" stroke-linejoin="round"/>
<polyline points="694.1,376.4 698.8,375.9" fill="none" stroke="#e01818" stroke-width="1.8" stroke-linecap="round" stroke-linejoin="round"/>
<polyline points="698.8,375.9 703.8,376.3" fill="none" stroke="#2038d8" stroke-width="1.8" stroke-linecap="round" stroke-linejoin="round"/>
<polyline points="703.8,376.3 707.1,377.1" fill="none" stroke="#484848" stroke-width="1.6" stroke-linecap="round" stroke-linejoin="round"/>
<polyline points="707.1,377.1 711.1,375.4 719.4,375.4 724.4,376.6 719.4,377.5 711.1,377.5 707.1,377.1" fill="none" stroke="#484848" stroke-width="1.6" stroke-linecap="round" stroke-linejoin="round"/>
<polyline points="714.1,377.1 718.1,377.1" fill="none" stroke="#e01818" stroke-width="1.8" stroke-linecap="round" stroke-linejoin="round"/>
<polyline points="724.4,376.6 728.7,376.3" fill="none" stroke="#484848" stroke-width="1.6" stroke-linecap="round" stroke-linejoin="round"/>
<polyline points="728.7,376.3 732.9,376.3" fill="none" stroke="#2038d8" stroke-width="1.8" stroke-linecap="round" stroke-linejoin="round"/>
<polyline points="732.9,376.3 736.2,377.1" fill="none" stroke="#e01818" stroke-width="1.8" stroke-linecap="round" stroke-linejoin="round"/>
<circle cx="674.30" cy="358.80" r="0.70" fill="#58d858"/>
<polyline points="785.5,386.4 788.4,386.6" fill="none" stroke="#e01818" stroke-width="1.7" stroke-linecap="round" stroke-linejoin="round"/>
<polyline points="788.4,386.6 792.7,387.2" fill="none" stroke="#484848" stroke-width="1.5" stroke-linecap="round" stroke-linejoin="round"/>
<polyline points="793.9,382.1 798.0,387.9 801.3,392.9" fill="none" stroke="#484848" stroke-width="1.9" stroke-linecap="round" stroke-linejoin="round"/>
<polyline points="798.0,387.9 803.0,383.7 806.3,387.1 809.7,382.9 813.8,380.1" fill="none" stroke="#484848" stroke-width="1.9" stroke-linecap="round" stroke-linejoin="round"/>
<polyline points="806.3,387.1 810.5,390.4" fill="none" stroke="#484848" stroke-width="1.7" stroke-linecap="round" stroke-linejoin="round"/>
<polyline points="795.5,384.6 800.0,390.4" fill="none" stroke="#484848" stroke-width="1.5" stroke-linecap="round" stroke-linejoin="round"/>
<polyline points="800.5,385.7 804.7,389.2" fill="none" stroke="#484848" stroke-width="1.4" stroke-linecap="round" stroke-linejoin="round"/>
<polyline points="804.7,384.7 808.3,388.7" fill="none" stroke="#484848" stroke-width="1.3" stroke-linecap="round" stroke-linejoin="round"/>
<polyline points="872.9,383.7 877.1,383.4" fill="none" stroke="#484848" stroke-width="1.4" stroke-linecap="round" stroke-linejoin="round"/>
<polyline points="879.6,383.7 882.9,383.7" fill="none" stroke="#484848" stroke-width="1.3" stroke-linecap="round" stroke-linejoin="round"/>
<polyline points="793.9,382.1 793.9,379.6" fill="none" stroke="#8c8c8c" stroke-width="1.05" stroke-linecap="round" stroke-linejoin="round"/>
<polyline points="803.0,383.7 803.0,378.7" fill="none" stroke="#8c8c8c" stroke-width="1.05" stroke-linecap="round" stroke-linejoin="round"/>
<polyline points="809.7,382.9 810.7,377.1" fill="none" stroke="#8c8c8c" stroke-width="1.05" stroke-linecap="round" stroke-linejoin="round"/>
<polyline points="798.0,387.9 796.4,394.4" fill="none" stroke="#8c8c8c" stroke-width="1.05" stroke-linecap="round" stroke-linejoin="round"/>
<polyline points="801.3,392.9 801.7,396.4" fill="none" stroke="#8c8c8c" stroke-width="1.05" stroke-linecap="round" stroke-linejoin="round"/>
<polyline points="810.5,390.4 812.5,391.7" fill="none" stroke="#8c8c8c" stroke-width="1.05" stroke-linecap="round" stroke-linejoin="round"/>
<polyline points="810.5,390.4 814.7,391.2" fill="none" stroke="#8c8c8c" stroke-width="1.05" stroke-linecap="round" stroke-linejoin="round"/>
<polyline points="792.7,387.2 791.4,389.1" fill="none" stroke="#8c8c8c" stroke-width="1.05" stroke-linecap="round" stroke-linejoin="round"/>
<polyline points="813.8,380.1 812.3,377.1" fill="none" stroke="#8c8c8c" stroke-width="1.05" stroke-linecap="round" stroke-linejoin="round"/>
<polyline points="813.8,380.1 819.0,382.1" fill="none" stroke="#2038d8" stroke-width="1.8" stroke-linecap="round" stroke-linejoin="round"/>
<polyline points="819.0,382.1 822.3,383.7" fill="none" stroke="#484848" stroke-width="1.6" stroke-linecap="round" stroke-linejoin="round"/>
<polyline points="822.3,383.7 822.7,385.9" fill="none" stroke="#e01818" stroke-width="1.7" stroke-linecap="round" stroke-linejoin="round"/>
<polyline points="822.7,383.6 829.0,383.7" fill="none" stroke="#e01818" stroke-width="1.8" stroke-linecap="round" stroke-linejoin="round"/>
<polyline points="829.0,383.7 833.0,383.4 837.1,382.9 842.1,382.1 847.1,381.2 850.6,381.2" fill="none" stroke="#484848" stroke-width="2.1" stroke-linecap="round" stroke-linejoin="round"/>
<polyline points="832.6,379.4 832.6,387.4" fill="none" stroke="#707070" stroke-width="1.0" stroke-linecap="round" stroke-linejoin="round"/>
<polyline points="837.3,378.9 837.3,386.9" fill="none" stroke="#707070" stroke-width="1.0" stroke-linecap="round" stroke-linejoin="round"/>
<polyline points="842.3,378.2 842.3,386.2" fill="none" stroke="#707070" stroke-width="1.0" stroke-linecap="round" stroke-linejoin="round"/>
<polyline points="847.6,377.6 847.6,385.6" fill="none" stroke="#707070" stroke-width="1.0" stroke-linecap="round" stroke-linejoin="round"/>
<polyline points="850.6,381.2 855.6,380.4" fill="none" stroke="#e01818" stroke-width="1.8" stroke-linecap="round" stroke-linejoin="round"/>
<polyline points="855.6,380.4 858.0,380.4" fill="none" stroke="#484848" stroke-width="1.6" stroke-linecap="round" stroke-linejoin="round"/>
<polyline points="858.0,380.4 858.5,382.6" fill="none" stroke="#e01818" stroke-width="1.7" stroke-linecap="round" stroke-linejoin="round"/>
<polyline points="858.0,380.4 861.3,379.1" fill="none" stroke="#484848" stroke-width="1.6" stroke-linecap="round" stroke-linejoin="round"/>
<polyline points="861.3,379.1 866.3,378.4" fill="none" stroke="#2038d8" stroke-width="1.8" stroke-linecap="round" stroke-linejoin="round"/>
<polyline points="866.3,378.4 868.8,375.4" fill="none" stroke="#484848" stroke-width="1.6" stroke-linecap="round" stroke-linejoin="round"/>
<polyline points="868.8,375.4 868.4,373.3" fill="none" stroke="#8c8c8c" stroke-width="1.05" stroke-linecap="round" stroke-linejoin="round"/>
<polyline points="866.3,378.4 872.1,382.1 871.3,387.9 867.1,389.6" fill="none" stroke="#484848" stroke-width="1.8" stroke-linecap="round" stroke-linejoin="round"/>
<polyline points="872.1,382.1 877.9,381.2 878.8,391.2" fill="none" stroke="#484848" stroke-width="1.9" stroke-linecap="round" stroke-linejoin="round"/>
<polyline points="877.9,381.2 883.8,382.1 884.6,377.9" fill="none" stroke="#484848" stroke-width="1.8" stroke-linecap="round" stroke-linejoin="round"/>
<polyline points="872.1,382.1 872.9,376.7" fill="none" stroke="#8c8c8c" stroke-width="1.05" stroke-linecap="round" stroke-linejoin="round"/>
<polyline points="877.9,381.2 878.8,375.9" fill="none" stroke="#8c8c8c" stroke-width="1.05" stroke-linecap="round" stroke-linejoin="round"/>
<polyline points="871.3,387.9 873.3,389.1" fill="none" stroke="#8c8c8c" stroke-width="1.05" stroke-linecap="round" stroke-linejoin="round"/>
<polyline points="878.8,391.2 881.6,392.1" fill="none" stroke="#8c8c8c" stroke-width="1.05" stroke-linecap="round" stroke-linejoin="round"/>
<polyline points="867.1,389.6 866.3,388.4" fill="none" stroke="#8c8c8c" stroke-width="1.05" stroke-linecap="round" stroke-linejoin="round"/>
<polyline points="883.8,382.1 884.3,385.7" fill="none" stroke="#8c8c8c" stroke-width="1.05" stroke-linecap="round" stroke-linejoin="round"/>
<polyline points="885.6,381.2 890.6,382.4" fill="none" stroke="#2038d8" stroke-width="1.8" stroke-linecap="round" stroke-linejoin="round"/>
<polyline points="890.6,382.4 894.6,383.4" fill="none" stroke="#484848" stroke-width="1.6" stroke-linecap="round" stroke-linejoin="round"/>
<polyline points="894.6,383.4 894.9,385.2" fill="none" stroke="#e01818" stroke-width="1.7" stroke-linecap="round" stroke-linejoin="round"/>
<polyline points="895.9,382.2 900.6,381.7" fill="none" stroke="#e01818" stroke-width="1.8" stroke-linecap="round" stroke-linejoin="round"/>
<polyline points="900.6,381.7 905.6,382.1" fill="none" stroke="#2038d8" stroke-width="1.8" stroke-linecap="round" stroke-linejoin="round"/>
<polyline points="905.6,382.1 908.9,382.9" fill="none" stroke="#484848" stroke-width="1.6" stroke-linecap="round" stroke-linejoin="round"/>
<polyline points="908.9,382.9 912.9,381.2 921.2,381.2 926.2,382.4 921.2,383.3 912.9,383.3 908.9,382.9" fill="none" stroke="#484848" stroke-width="1.6" stroke-linecap="round" stroke-linejoin="round"/>
<polyline points="915.9,382.9 919.9,382.9" fill="none" stroke="#e01818" stroke-width="1.8" stroke-linecap="round" stroke-linejoin="round"/>
<polyline points="926.2,382.4 930.5,382.1" fill="none" stroke="#484848" stroke-width="1.6" stroke-linecap="round" stroke-linejoin="round"/>
<polyline points="930.5,382.1 934.7,382.1" fill="none" stroke="#2038d8" stroke-width="1.8" stroke-linecap="round" stroke-linejoin="round"/>
<polyline points="934.7,382.1 938.0,382.9" fill="none" stroke="#e01818" stroke-width="1.8" stroke-linecap="round" stroke-linejoin="round"/>
<polyline points="867.5,351.0 869.5,352.2 876.5,352.6" fill="none" stroke="#484848" stroke-width="1.5"/>
<polyline points="876.5,352.6 883.0,352.2" fill="none" stroke="#e01818" stroke-width="1.6"/>
<polyline points="869.5,352.2 869.0,356.5" fill="none" stroke="#8c8c8c" stroke-width="0.8"/>
<circle cx="876.30" cy="364.50" r="0.70" fill="#58d858"/>
<path d="M95.8,441.7 L133.3,442.3 L133.3,443.5 L101.8,444.2 L96.3,445.6 Z" fill="#6a6a6a"/>
<line x1="133.30" y1="442.90" x2="136.50" y2="443.20" stroke="#58d858" stroke-width="1.4"/>
<polyline points="96.7,443.3 98.3,446.0" fill="none" stroke="#484848" stroke-width="1.6" stroke-linecap="round" stroke-linejoin="round"/>
<polyline points="98.3,446.0 99.6,449.3" fill="none" stroke="#e01818" stroke-width="1.7" stroke-linecap="round" stroke-linejoin="round"/>
<polyline points="99.6,449.3 103.3,451.7 100.0,457.5" fill="none" stroke="#484848" stroke-width="1.6" stroke-linecap="round" stroke-linejoin="round"/>
<polyline points="103.3,451.7 105.1,451.3" fill="none" stroke="#8c8c8c" stroke-width="1.05" stroke-linecap="round" stroke-linejoin="round"/>
<polyline points="94.0,458.0 97.6,458.0" fill="none" stroke="#e01818" stroke-width="1.7" stroke-linecap="round" stroke-linejoin="round"/>
<polyline points="97.6,458.0 100.0,457.5" fill="none" stroke="#484848" stroke-width="1.5" stroke-linecap="round" stroke-linejoin="round"/>
<polyline points="100.0,457.5 102.6,461.6" fill="none" stroke="#e01818" stroke-width="1.7" stroke-linecap="round" stroke-linejoin="round"/>
<polyline points="102.6,461.6 100.8,466.6" fill="none" stroke="#484848" stroke-width="1.6" stroke-linecap="round" stroke-linejoin="round"/>
<polyline points="94.0,468.3 97.6,468.3" fill="none" stroke="#e01818" stroke-width="1.7" stroke-linecap="round" stroke-linejoin="round"/>
<polyline points="97.6,468.3 100.8,467.0" fill="none" stroke="#484848" stroke-width="1.5" stroke-linecap="round" stroke-linejoin="round"/>
<polyline points="100.8,466.6 99.6,469.1" fill="none" stroke="#484848" stroke-width="1.6" stroke-linecap="round" stroke-linejoin="round"/>
<polyline points="95.4,472.8 99.7,473.4" fill="none" stroke="#484848" stroke-width="1.5" stroke-linecap="round" stroke-linejoin="round"/>
<polyline points="100.9,468.3 105.0,474.1 108.3,479.1" fill="none" stroke="#484848" stroke-width="1.9" stroke-linecap="round" stroke-linejoin="round"/>
<polyline points="105.0,474.1 110.0,469.9 113.3,473.3 116.7,469.1 120.8,466.3" fill="none" stroke="#484848" stroke-width="1.9" stroke-linecap="round" stroke-linejoin="round"/>
<polyline points="113.3,473.3 117.5,476.6" fill="none" stroke="#484848" stroke-width="1.7" stroke-linecap="round" stroke-linejoin="round"/>
<polyline points="102.5,470.8 107.0,476.6" fill="none" stroke="#484848" stroke-width="1.5" stroke-linecap="round" stroke-linejoin="round"/>
<polyline points="107.5,471.9 111.7,475.4" fill="none" stroke="#484848" stroke-width="1.4" stroke-linecap="round" stroke-linejoin="round"/>
<polyline points="111.7,470.9 115.3,474.9" fill="none" stroke="#484848" stroke-width="1.3" stroke-linecap="round" stroke-linejoin="round"/>
<polyline points="179.9,469.9 184.1,469.6" fill="none" stroke="#484848" stroke-width="1.4" stroke-linecap="round" stroke-linejoin="round"/>
<polyline points="186.6,469.9 189.9,469.9" fill="none" stroke="#484848" stroke-width="1.3" stroke-linecap="round" stroke-linejoin="round"/>
<polyline points="100.9,468.3 100.9,465.8" fill="none" stroke="#8c8c8c" stroke-width="1.05" stroke-linecap="round" stroke-linejoin="round"/>
<polyline points="110.0,469.9 110.0,464.9" fill="none" stroke="#8c8c8c" stroke-width="1.05" stroke-linecap="round" stroke-linejoin="round"/>
<polyline points="116.7,469.1 117.7,463.3" fill="none" stroke="#8c8c8c" stroke-width="1.05" stroke-linecap="round" stroke-linejoin="round"/>
<polyline points="105.0,474.1 103.4,480.6" fill="none" stroke="#8c8c8c" stroke-width="1.05" stroke-linecap="round" stroke-linejoin="round"/>
<polyline points="108.3,479.1 108.7,482.6" fill="none" stroke="#8c8c8c" stroke-width="1.05" stroke-linecap="round" stroke-linejoin="round"/>
<polyline points="117.5,476.6 119.5,477.9" fill="none" stroke="#8c8c8c" stroke-width="1.05" stroke-linecap="round" stroke-linejoin="round"/>
<polyline points="117.5,476.6 121.7,477.4" fill="none" stroke="#8c8c8c" stroke-width="1.05" stroke-linecap="round" stroke-linejoin="round"/>
<polyline points="99.7,473.4 98.4,475.3" fill="none" stroke="#8c8c8c" stroke-width="1.05" stroke-linecap="round" stroke-linejoin="round"/>
<polyline points="120.8,466.3 119.3,463.3" fill="none" stroke="#8c8c8c" stroke-width="1.05" stroke-linecap="round" stroke-linejoin="round"/>
<polyline points="120.8,466.3 126.0,468.3" fill="none" stroke="#2038d8" stroke-width="1.8" stroke-linecap="round" stroke-linejoin="round"/>
<polyline points="126.0,468.3 129.3,469.9" fill="none" stroke="#484848" stroke-width="1.6" stroke-linecap="round" stroke-linejoin="round"/>
<polyline points="129.3,469.9 129.7,472.1" fill="none" stroke="#e01818" stroke-width="1.7" stroke-linecap="round" stroke-linejoin="round"/>
<polyline points="129.7,469.8 136.0,469.9" fill="none" stroke="#e01818" stroke-width="1.8" stroke-linecap="round" stroke-linejoin="round"/>
<polyline points="136.0,469.9 140.0,469.6 144.1,469.1 149.1,468.3 154.1,467.4 157.6,467.4" fill="none" stroke="#484848" stroke-width="2.1" stroke-linecap="round" stroke-linejoin="round"/>
<polyline points="139.6,465.6 139.6,473.6" fill="none" stroke="#707070" stroke-width="1.0" stroke-linecap="round" stroke-linejoin="round"/>
<polyline points="144.3,465.1 144.3,473.1" fill="none" stroke="#707070" stroke-width="1.0" stroke-linecap="round" stroke-linejoin="round"/>
<polyline points="149.3,464.4 149.3,472.4" fill="none" stroke="#707070" stroke-width="1.0" stroke-linecap="round" stroke-linejoin="round"/>
<polyline points="154.6,463.8 154.6,471.8" fill="none" stroke="#707070" stroke-width="1.0" stroke-linecap="round" stroke-linejoin="round"/>
<polyline points="157.6,467.4 162.6,466.6" fill="none" stroke="#e01818" stroke-width="1.8" stroke-linecap="round" stroke-linejoin="round"/>
<polyline points="162.6,466.6 165.0,466.6" fill="none" stroke="#484848" stroke-width="1.6" stroke-linecap="round" stroke-linejoin="round"/>
<polyline points="165.0,466.6 165.5,468.8" fill="none" stroke="#e01818" stroke-width="1.7" stroke-linecap="round" stroke-linejoin="round"/>
<polyline points="165.0,466.6 168.3,465.3" fill="none" stroke="#484848" stroke-width="1.6" stroke-linecap="round" stroke-linejoin="round"/>
<polyline points="168.3,465.3 173.3,464.6" fill="none" stroke="#2038d8" stroke-width="1.8" stroke-linecap="round" stroke-linejoin="round"/>
<polyline points="173.3,464.6 175.8,461.6" fill="none" stroke="#484848" stroke-width="1.6" stroke-linecap="round" stroke-linejoin="round"/>
<polyline points="175.8,461.6 175.4,459.5" fill="none" stroke="#8c8c8c" stroke-width="1.05" stroke-linecap="round" stroke-linejoin="round"/>
<polyline points="173.3,464.6 179.1,468.3 178.3,474.1 174.1,475.8" fill="none" stroke="#484848" stroke-width="1.8" stroke-linecap="round" stroke-linejoin="round"/>
<polyline points="179.1,468.3 184.9,467.4 185.8,477.4" fill="none" stroke="#484848" stroke-width="1.9" stroke-linecap="round" stroke-linejoin="round"/>
<polyline points="184.9,467.4 190.8,468.3 191.6,464.1" fill="none" stroke="#484848" stroke-width="1.8" stroke-linecap="round" stroke-linejoin="round"/>
<polyline points="179.1,468.3 179.9,462.9" fill="none" stroke="#8c8c8c" stroke-width="1.05" stroke-linecap="round" stroke-linejoin="round"/>
<polyline points="184.9,467.4 185.8,462.1" fill="none" stroke="#8c8c8c" stroke-width="1.05" stroke-linecap="round" stroke-linejoin="round"/>
<polyline points="178.3,474.1 180.3,475.3" fill="none" stroke="#8c8c8c" stroke-width="1.05" stroke-linecap="round" stroke-linejoin="round"/>
<polyline points="185.8,477.4 188.6,478.3" fill="none" stroke="#8c8c8c" stroke-width="1.05" stroke-linecap="round" stroke-linejoin="round"/>
<polyline points="174.1,475.8 173.3,474.6" fill="none" stroke="#8c8c8c" stroke-width="1.05" stroke-linecap="round" stroke-linejoin="round"/>
<polyline points="190.8,468.3 191.3,471.9" fill="none" stroke="#8c8c8c" stroke-width="1.05" stroke-linecap="round" stroke-linejoin="round"/>
<polyline points="192.6,467.4 197.6,468.6" fill="none" stroke="#2038d8" stroke-width="1.8" stroke-linecap="round" stroke-linejoin="round"/>
<polyline points="197.6,468.6 201.6,469.6" fill="none" stroke="#484848" stroke-width="1.6" stroke-linecap="round" stroke-linejoin="round"/>
<polyline points="201.6,469.6 201.9,471.4" fill="none" stroke="#e01818" stroke-width="1.7" stroke-linecap="round" stroke-linejoin="round"/>
<polyline points="202.9,468.4 207.6,467.9" fill="none" stroke="#e01818" stroke-width="1.8" stroke-linecap="round" stroke-linejoin="round"/>
<polyline points="207.6,467.9 212.6,468.3" fill="none" stroke="#2038d8" stroke-width="1.8" stroke-linecap="round" stroke-linejoin="round"/>
<polyline points="212.6,468.3 215.9,469.1" fill="none" stroke="#484848" stroke-width="1.6" stroke-linecap="round" stroke-linejoin="round"/>
<polyline points="215.9,469.1 219.9,467.4 228.2,467.4 233.2,468.6 228.2,469.5 219.9,469.5 215.9,469.1" fill="none" stroke="#484848" stroke-width="1.6" stroke-linecap="round" stroke-linejoin="round"/>
<polyline points="222.9,469.1 226.9,469.1" fill="none" stroke="#e01818" stroke-width="1.8" stroke-linecap="round" stroke-linejoin="round"/>
<polyline points="233.2,468.6 237.5,468.3" fill="none" stroke="#484848" stroke-width="1.6" stroke-linecap="round" stroke-linejoin="round"/>
<polyline points="237.5,468.3 241.7,468.3" fill="none" stroke="#2038d8" stroke-width="1.8" stroke-linecap="round" stroke-linejoin="round"/>
<polyline points="241.7,468.3 245.0,469.1" fill="none" stroke="#e01818" stroke-width="1.8" stroke-linecap="round" stroke-linejoin="round"/>
<path d="M262.5,445.5 L296.3,446.1 L296.3,447.2 L268.5,448.0 L263.0,449.4 Z" fill="#6a6a6a"/>
<polyline points="263.4,447.1 265.0,449.7" fill="none" stroke="#484848" stroke-width="1.6" stroke-linecap="round" stroke-linejoin="round"/>
<polyline points="265.0,449.7 266.3,453.1" fill="none" stroke="#e01818" stroke-width="1.7" stroke-linecap="round" stroke-linejoin="round"/>
<polyline points="266.3,453.1 270.0,455.4 266.7,461.2" fill="none" stroke="#484848" stroke-width="1.6" stroke-linecap="round" stroke-linejoin="round"/>
<polyline points="270.0,455.4 271.8,455.1" fill="none" stroke="#8c8c8c" stroke-width="1.05" stroke-linecap="round" stroke-linejoin="round"/>
<polyline points="260.7,461.7 264.3,461.7" fill="none" stroke="#e01818" stroke-width="1.7" stroke-linecap="round" stroke-linejoin="round"/>
<polyline points="264.3,461.7 266.7,461.2" fill="none" stroke="#484848" stroke-width="1.5" stroke-linecap="round" stroke-linejoin="round"/>
<polyline points="266.7,461.2 269.3,465.4" fill="none" stroke="#e01818" stroke-width="1.7" stroke-linecap="round" stroke-linejoin="round"/>
<polyline points="269.3,465.4 267.5,470.4" fill="none" stroke="#484848" stroke-width="1.6" stroke-linecap="round" stroke-linejoin="round"/>
<polyline points="260.7,472.1 264.3,472.1" fill="none" stroke="#e01818" stroke-width="1.7" stroke-linecap="round" stroke-linejoin="round"/>
<polyline points="264.3,472.1 267.5,470.7" fill="none" stroke="#484848" stroke-width="1.5" stroke-linecap="round" stroke-linejoin="round"/>
<polyline points="267.5,470.4 266.3,472.9" fill="none" stroke="#484848" stroke-width="1.6" stroke-linecap="round" stroke-linejoin="round"/>
<polyline points="262.1,476.5 266.4,477.2" fill="none" stroke="#484848" stroke-width="1.5" stroke-linecap="round" stroke-linejoin="round"/>
<polyline points="267.6,472.0 271.7,477.9 275.0,482.8" fill="none" stroke="#484848" stroke-width="1.9" stroke-linecap="round" stroke-linejoin="round"/>
<polyline points="271.7,477.9 276.7,473.7 280.0,477.0 283.4,472.9 287.5,470.0" fill="none" stroke="#484848" stroke-width="1.9" stroke-linecap="round" stroke-linejoin="round"/>
<polyline points="280.0,477.0 284.2,480.4" fill="none" stroke="#484848" stroke-width="1.7" stroke-linecap="round" stroke-linejoin="round"/>
<polyline points="269.2,474.5 273.7,480.4" fill="none" stroke="#484848" stroke-width="1.5" stroke-linecap="round" stroke-linejoin="round"/>
<polyline points="274.2,475.7 278.4,479.2" fill="none" stroke="#484848" stroke-width="1.4" stroke-linecap="round" stroke-linejoin="round"/>
<polyline points="278.4,474.7 282.0,478.7" fill="none" stroke="#484848" stroke-width="1.3" stroke-linecap="round" stroke-linejoin="round"/>
<polyline points="346.6,473.7 350.8,473.4" fill="none" stroke="#484848" stroke-width="1.4" stroke-linecap="round" stroke-linejoin="round"/>
<polyline points="353.3,473.7 356.6,473.7" fill="none" stroke="#484848" stroke-width="1.3" stroke-linecap="round" stroke-linejoin="round"/>
<polyline points="267.6,472.0 267.6,469.5" fill="none" stroke="#8c8c8c" stroke-width="1.05" stroke-linecap="round" stroke-linejoin="round"/>
<polyline points="276.7,473.7 276.7,468.7" fill="none" stroke="#8c8c8c" stroke-width="1.05" stroke-linecap="round" stroke-linejoin="round"/>
<polyline points="283.4,472.9 284.4,467.0" fill="none" stroke="#8c8c8c" stroke-width="1.05" stroke-linecap="round" stroke-linejoin="round"/>
<polyline points="271.7,477.9 270.1,484.3" fill="none" stroke="#8c8c8c" stroke-width="1.05" stroke-linecap="round" stroke-linejoin="round"/>
<polyline points="275.0,482.8 275.4,486.3" fill="none" stroke="#8c8c8c" stroke-width="1.05" stroke-linecap="round" stroke-linejoin="round"/>
<polyline points="284.2,480.4 286.2,481.7" fill="none" stroke="#8c8c8c" stroke-width="1.05" stroke-linecap="round" stroke-linejoin="round"/>
<polyline points="284.2,480.4 288.4,481.2" fill="none" stroke="#8c8c8c" stroke-width="1.05" stroke-linecap="round" stroke-linejoin="round"/>
<polyline points="266.4,477.2 265.1,479.0" fill="none" stroke="#8c8c8c" stroke-width="1.05" stroke-linecap="round" stroke-linejoin="round"/>
<polyline points="287.5,470.0 286.0,467.0" fill="none" stroke="#8c8c8c" stroke-width="1.05" stroke-linecap="round" stroke-linejoin="round"/>
<polyline points="287.5,470.0 292.7,472.0" fill="none" stroke="#2038d8" stroke-width="1.8" stroke-linecap="round" stroke-linejoin="round"/>
<polyline points="292.7,472.0 296.0,473.7" fill="none" stroke="#484848" stroke-width="1.6" stroke-linecap="round" stroke-linejoin="round"/>
<polyline points="296.0,473.7 296.4,475.9" fill="none" stroke="#e01818" stroke-width="1.7" stroke-linecap="round" stroke-linejoin="round"/>
<polyline points="296.4,473.5 302.7,473.7" fill="none" stroke="#e01818" stroke-width="1.8" stroke-linecap="round" stroke-linejoin="round"/>
<polyline points="302.7,473.7 306.7,473.4 310.8,472.9 315.8,472.0 320.8,471.2 324.3,471.2" fill="none" stroke="#484848" stroke-width="2.1" stroke-linecap="round" stroke-linejoin="round"/>
<polyline points="306.3,469.4 306.3,477.4" fill="none" stroke="#707070" stroke-width="1.0" stroke-linecap="round" stroke-linejoin="round"/>
<polyline points="311.0,468.9 311.0,476.9" fill="none" stroke="#707070" stroke-width="1.0" stroke-linecap="round" stroke-linejoin="round"/>
<polyline points="316.0,468.2 316.0,476.2" fill="none" stroke="#707070" stroke-width="1.0" stroke-linecap="round" stroke-linejoin="round"/>
<polyline points="321.3,467.5 321.3,475.5" fill="none" stroke="#707070" stroke-width="1.0" stroke-linecap="round" stroke-linejoin="round"/>
<polyline points="324.3,471.2 329.3,470.4" fill="none" stroke="#e01818" stroke-width="1.8" stroke-linecap="round" stroke-linejoin="round"/>
<polyline points="329.3,470.4 331.7,470.4" fill="none" stroke="#484848" stroke-width="1.6" stroke-linecap="round" stroke-linejoin="round"/>
<polyline points="331.7,470.4 332.2,472.5" fill="none" stroke="#e01818" stroke-width="1.7" stroke-linecap="round" stroke-linejoin="round"/>
<polyline points="331.7,470.4 335.0,469.0" fill="none" stroke="#484848" stroke-width="1.6" stroke-linecap="round" stroke-linejoin="round"/>
<polyline points="335.0,469.0 340.0,468.4" fill="none" stroke="#2038d8" stroke-width="1.8" stroke-linecap="round" stroke-linejoin="round"/>
<polyline points="340.0,468.4 342.5,465.4" fill="none" stroke="#484848" stroke-width="1.6" stroke-linecap="round" stroke-linejoin="round"/>
<polyline points="342.5,465.4 342.1,463.2" fill="none" stroke="#8c8c8c" stroke-width="1.05" stroke-linecap="round" stroke-linejoin="round"/>
<polyline points="340.0,468.4 345.8,472.0 345.0,477.9 340.8,479.5" fill="none" stroke="#484848" stroke-width="1.8" stroke-linecap="round" stroke-linejoin="round"/>
<polyline points="345.8,472.0 351.6,471.2 352.5,481.2" fill="none" stroke="#484848" stroke-width="1.9" stroke-linecap="round" stroke-linejoin="round"/>
<polyline points="351.6,471.2 357.5,472.0 358.3,467.9" fill="none" stroke="#484848" stroke-width="1.8" stroke-linecap="round" stroke-linejoin="round"/>
<polyline points="345.8,472.0 346.6,466.7" fill="none" stroke="#8c8c8c" stroke-width="1.05" stroke-linecap="round" stroke-linejoin="round"/>
<polyline points="351.6,471.2 352.5,465.9" fill="none" stroke="#8c8c8c" stroke-width="1.05" stroke-linecap="round" stroke-linejoin="round"/>
<polyline points="345.0,477.9 347.0,479.0" fill="none" stroke="#8c8c8c" stroke-width="1.05" stroke-linecap="round" stroke-linejoin="round"/>
<polyline points="352.5,481.2 355.3,482.0" fill="none" stroke="#8c8c8c" stroke-width="1.05" stroke-linecap="round" stroke-linejoin="round"/>
<polyline points="340.8,479.5 340.0,478.4" fill="none" stroke="#8c8c8c" stroke-width="1.05" stroke-linecap="round" stroke-linejoin="round"/>
<polyline points="357.5,472.0 358.0,475.7" fill="none" stroke="#8c8c8c" stroke-width="1.05" stroke-linecap="round" stroke-linejoin="round"/>
<polyline points="359.3,471.2 364.3,472.4" fill="none" stroke="#2038d8" stroke-width="1.8" stroke-linecap="round" stroke-linejoin="round"/>
<polyline points="364.3,472.4 368.3,473.4" fill="none" stroke="#484848" stroke-width="1.6" stroke-linecap="round" stroke-linejoin="round"/>
<polyline points="368.3,473.4 368.6,475.2" fill="none" stroke="#e01818" stroke-width="1.7" stroke-linecap="round" stroke-linejoin="round"/>
<polyline points="369.6,472.2 374.3,471.7" fill="none" stroke="#e01818" stroke-width="1.8" stroke-linecap="round" stroke-linejoin="round"/>
<polyline points="374.3,471.7 379.3,472.0" fill="none" stroke="#2038d8" stroke-width="1.8" stroke-linecap="round" stroke-linejoin="round"/>
<polyline points="379.3,472.0 382.6,472.9" fill="none" stroke="#484848" stroke-width="1.6" stroke-linecap="round" stroke-linejoin="round"/>
<polyline points="382.6,472.9 386.6,471.2 394.9,471.2 399.9,472.4 394.9,473.3 386.6,473.3 382.6,472.9" fill="none" stroke="#484848" stroke-width="1.6" stroke-linecap="round" stroke-linejoin="round"/>
<polyline points="389.6,472.9 393.6,472.9" fill="none" stroke="#e01818" stroke-width="1.8" stroke-linecap="round" stroke-linejoin="round"/>
<polyline points="399.9,472.4 404.2,472.0" fill="none" stroke="#484848" stroke-width="1.6" stroke-linecap="round" stroke-linejoin="round"/>
<polyline points="404.2,472.0 408.4,472.0" fill="none" stroke="#2038d8" stroke-width="1.8" stroke-linecap="round" stroke-linejoin="round"/>
<polyline points="408.4,472.0 411.7,472.9" fill="none" stroke="#e01818" stroke-width="1.8" stroke-linecap="round" stroke-linejoin="round"/>
<path d="M423.8,446.0 L457.6,446.6 L457.6,447.8 L429.8,448.5 L424.3,449.9 Z" fill="#6a6a6a"/>
<polyline points="424.7,447.6 426.3,450.2" fill="none" stroke="#484848" stroke-width="1.6" stroke-linecap="round" stroke-linejoin="round"/>
<polyline points="426.3,450.2 427.6,453.6" fill="none" stroke="#e01818" stroke-width="1.7" stroke-linecap="round" stroke-linejoin="round"/>
<polyline points="427.6,453.6 431.3,455.9 428.0,461.7" fill="none" stroke="#484848" stroke-width="1.6" stroke-linecap="round" stroke-linejoin="round"/>
<polyline points="431.3,455.9 433.1,455.6" fill="none" stroke="#8c8c8c" stroke-width="1.05" stroke-linecap="round" stroke-linejoin="round"/>
<polyline points="422.0,462.2 425.6,462.2" fill="none" stroke="#e01818" stroke-width="1.7" stroke-linecap="round" stroke-linejoin="round"/>
<polyline points="425.6,462.2 428.0,461.7" fill="none" stroke="#484848" stroke-width="1.5" stroke-linecap="round" stroke-linejoin="round"/>
<polyline points="428.0,461.7 430.6,465.9" fill="none" stroke="#e01818" stroke-width="1.7" stroke-linecap="round" stroke-linejoin="round"/>
<polyline points="430.6,465.9 428.8,470.9" fill="none" stroke="#484848" stroke-width="1.6" stroke-linecap="round" stroke-linejoin="round"/>
<polyline points="422.0,472.6 425.6,472.6" fill="none" stroke="#e01818" stroke-width="1.7" stroke-linecap="round" stroke-linejoin="round"/>
<polyline points="425.6,472.6 428.8,471.2" fill="none" stroke="#484848" stroke-width="1.5" stroke-linecap="round" stroke-linejoin="round"/>
<polyline points="428.8,470.9 427.6,473.4" fill="none" stroke="#484848" stroke-width="1.6" stroke-linecap="round" stroke-linejoin="round"/>
<polyline points="423.4,477.0 427.7,477.7" fill="none" stroke="#484848" stroke-width="1.5" stroke-linecap="round" stroke-linejoin="round"/>
<polyline points="428.9,472.5 433.0,478.4 436.3,483.3" fill="none" stroke="#484848" stroke-width="1.9" stroke-linecap="round" stroke-linejoin="round"/>
<polyline points="433.0,478.4 438.0,474.2 441.3,477.5 444.7,473.4 448.8,470.5" fill="none" stroke="#484848" stroke-width="1.9" stroke-linecap="round" stroke-linejoin="round"/>
<polyline points="441.3,477.5 445.5,480.9" fill="none" stroke="#484848" stroke-width="1.7" stroke-linecap="round" stroke-linejoin="round"/>
<polyline points="430.5,475.0 435.0,480.9" fill="none" stroke="#484848" stroke-width="1.5" stroke-linecap="round" stroke-linejoin="round"/>
<polyline points="435.5,476.2 439.7,479.7" fill="none" stroke="#484848" stroke-width="1.4" stroke-linecap="round" stroke-linejoin="round"/>
<polyline points="439.7,475.2 443.3,479.2" fill="none" stroke="#484848" stroke-width="1.3" stroke-linecap="round" stroke-linejoin="round"/>
<polyline points="507.9,474.2 512.1,473.9" fill="none" stroke="#484848" stroke-width="1.4" stroke-linecap="round" stroke-linejoin="round"/>
<polyline points="514.6,474.2 517.9,474.2" fill="none" stroke="#484848" stroke-width="1.3" stroke-linecap="round" stroke-linejoin="round"/>
<polyline points="428.9,472.5 428.9,470.0" fill="none" stroke="#8c8c8c" stroke-width="1.05" stroke-linecap="round" stroke-linejoin="round"/>
<polyline points="438.0,474.2 438.0,469.2" fill="none" stroke="#8c8c8c" stroke-width="1.05" stroke-linecap="round" stroke-linejoin="round"/>
<polyline points="444.7,473.4 445.7,467.5" fill="none" stroke="#8c8c8c" stroke-width="1.05" stroke-linecap="round" stroke-linejoin="round"/>
<polyline points="433.0,478.4 431.4,484.8" fill="none" stroke="#8c8c8c" stroke-width="1.05" stroke-linecap="round" stroke-linejoin="round"/>
<polyline points="436.3,483.3 436.7,486.8" fill="none" stroke="#8c8c8c" stroke-width="1.05" stroke-linecap="round" stroke-linejoin="round"/>
<polyline points="445.5,480.9 447.5,482.2" fill="none" stroke="#8c8c8c" stroke-width="1.05" stroke-linecap="round" stroke-linejoin="round"/>
<polyline points="445.5,480.9 449.7,481.7" fill="none" stroke="#8c8c8c" stroke-width="1.05" stroke-linecap="round" stroke-linejoin="round"/>
<polyline points="427.7,477.7 426.4,479.5" fill="none" stroke="#8c8c8c" stroke-width="1.05" stroke-linecap="round" stroke-linejoin="round"/>
<polyline points="448.8,470.5 447.3,467.5" fill="none" stroke="#8c8c8c" stroke-width="1.05" stroke-linecap="round" stroke-linejoin="round"/>
<polyline points="448.8,470.5 454.0,472.5" fill="none" stroke="#2038d8" stroke-width="1.8" stroke-linecap="round" stroke-linejoin="round"/>
<polyline points="454.0,472.5 457.3,474.2" fill="none" stroke="#484848" stroke-width="1.6" stroke-linecap="round" stroke-linejoin="round"/>
<polyline points="457.3,474.2 457.7,476.4" fill="none" stroke="#e01818" stroke-width="1.7" stroke-linecap="round" stroke-linejoin="round"/>
<polyline points="457.7,474.0 464.0,474.2" fill="none" stroke="#e01818" stroke-width="1.8" stroke-linecap="round" stroke-linejoin="round"/>
<polyline points="464.0,474.2 468.0,473.9 472.1,473.4 477.1,472.5 482.1,471.7 485.6,471.7" fill="none" stroke="#484848" stroke-width="2.1" stroke-linecap="round" stroke-linejoin="round"/>
<polyline points="467.6,469.9 467.6,477.9" fill="none" stroke="#707070" stroke-width="1.0" stroke-linecap="round" stroke-linejoin="round"/>
<polyline points="472.3,469.4 472.3,477.4" fill="none" stroke="#707070" stroke-width="1.0" stroke-linecap="round" stroke-linejoin="round"/>
<polyline points="477.3,468.7 477.3,476.7" fill="none" stroke="#707070" stroke-width="1.0" stroke-linecap="round" stroke-linejoin="round"/>
<polyline points="482.6,468.0 482.6,476.0" fill="none" stroke="#707070" stroke-width="1.0" stroke-linecap="round" stroke-linejoin="round"/>
<polyline points="485.6,471.7 490.6,470.9" fill="none" stroke="#e01818" stroke-width="1.8" stroke-linecap="round" stroke-linejoin="round"/>
<polyline points="490.6,470.9 493.0,470.9" fill="none" stroke="#484848" stroke-width="1.6" stroke-linecap="round" stroke-linejoin="round"/>
<polyline points="493.0,470.9 493.5,473.0" fill="none" stroke="#e01818" stroke-width="1.7" stroke-linecap="round" stroke-linejoin="round"/>
<polyline points="493.0,470.9 496.3,469.5" fill="none" stroke="#484848" stroke-width="1.6" stroke-linecap="round" stroke-linejoin="round"/>
<polyline points="496.3,469.5 501.3,468.9" fill="none" stroke="#2038d8" stroke-width="1.8" stroke-linecap="round" stroke-linejoin="round"/>
<polyline points="501.3,468.9 503.8,465.9" fill="none" stroke="#484848" stroke-width="1.6" stroke-linecap="round" stroke-linejoin="round"/>
<polyline points="503.8,465.9 503.4,463.7" fill="none" stroke="#8c8c8c" stroke-width="1.05" stroke-linecap="round" stroke-linejoin="round"/>
<polyline points="501.3,468.9 507.1,472.5 506.3,478.4 502.1,480.0" fill="none" stroke="#484848" stroke-width="1.8" stroke-linecap="round" stroke-linejoin="round"/>
<polyline points="507.1,472.5 512.9,471.7 513.8,481.7" fill="none" stroke="#484848" stroke-width="1.9" stroke-linecap="round" stroke-linejoin="round"/>
<polyline points="512.9,471.7 518.8,472.5 519.6,468.4" fill="none" stroke="#484848" stroke-width="1.8" stroke-linecap="round" stroke-linejoin="round"/>
<polyline points="507.1,472.5 507.9,467.2" fill="none" stroke="#8c8c8c" stroke-width="1.05" stroke-linecap="round" stroke-linejoin="round"/>
<polyline points="512.9,471.7 513.8,466.4" fill="none" stroke="#8c8c8c" stroke-width="1.05" stroke-linecap="round" stroke-linejoin="round"/>
<polyline points="506.3,478.4 508.3,479.5" fill="none" stroke="#8c8c8c" stroke-width="1.05" stroke-linecap="round" stroke-linejoin="round"/>
<polyline points="513.8,481.7 516.6,482.5" fill="none" stroke="#8c8c8c" stroke-width="1.05" stroke-linecap="round" stroke-linejoin="round"/>
<polyline points="502.1,480.0 501.3,478.9" fill="none" stroke="#8c8c8c" stroke-width="1.05" stroke-linecap="round" stroke-linejoin="round"/>
<polyline points="518.8,472.5 519.3,476.2" fill="none" stroke="#8c8c8c" stroke-width="1.05" stroke-linecap="round" stroke-linejoin="round"/>
<polyline points="520.6,471.7 525.6,472.9" fill="none" stroke="#2038d8" stroke-width="1.8" stroke-linecap="round" stroke-linejoin="round"/>
<polyline points="525.6,472.9 529.6,473.9" fill="none" stroke="#484848" stroke-width="1.6" stroke-linecap="round" stroke-linejoin="round"/>
<polyline points="529.6,473.9 529.9,475.7" fill="none" stroke="#e01818" stroke-width="1.7" stroke-linecap="round" stroke-linejoin="round"/>
<polyline points="530.9,472.7 535.6,472.2" fill="none" stroke="#e01818" stroke-width="1.8" stroke-linecap="round" stroke-linejoin="round"/>
<polyline points="535.6,472.2 540.6,472.5" fill="none" stroke="#2038d8" stroke-width="1.8" stroke-linecap="round" stroke-linejoin="round"/>
<polyline points="540.6,472.5 543.9,473.4" fill="none" stroke="#484848" stroke-width="1.6" stroke-linecap="round" stroke-linejoin="round"/>
<polyline points="543.9,473.4 547.9,471.7 556.2,471.7 561.2,472.9 556.2,473.8 547.9,473.8 543.9,473.4" fill="none" stroke="#484848" stroke-width="1.6" stroke-linecap="round" stroke-linejoin="round"/>
<polyline points="550.9,473.4 554.9,473.4" fill="none" stroke="#e01818" stroke-width="1.8" stroke-linecap="round" stroke-linejoin="round"/>
<polyline points="561.2,472.9 565.5,472.5" fill="none" stroke="#484848" stroke-width="1.6" stroke-linecap="round" stroke-linejoin="round"/>
<polyline points="565.5,472.5 569.7,472.5" fill="none" stroke="#2038d8" stroke-width="1.8" stroke-linecap="round" stroke-linejoin="round"/>
<polyline points="569.7,472.5 573.0,473.4" fill="none" stroke="#e01818" stroke-width="1.8" stroke-linecap="round" stroke-linejoin="round"/>
<path d="M595.0,443.7 L633.8,444.3 L633.8,445.5 L601.0,446.2 L595.5,447.6 Z" fill="#6a6a6a"/>
<line x1="633.80" y1="444.90" x2="637.00" y2="445.20" stroke="#58d858" stroke-width="1.4"/>
<polyline points="595.9,445.3 597.5,448.0" fill="none" stroke="#484848" stroke-width="1.6" stroke-linecap="round" stroke-linejoin="round"/>
<polyline points="597.5,448.0 598.8,451.3" fill="none" stroke="#e01818" stroke-width="1.7" stroke-linecap="round" stroke-linejoin="round"/>
<polyline points="598.8,451.3 602.5,453.7 599.2,459.5" fill="none" stroke="#484848" stroke-width="1.6" stroke-linecap="round" stroke-linejoin="round"/>
<polyline points="602.5,453.7 604.3,453.3" fill="none" stroke="#8c8c8c" stroke-width="1.05" stroke-linecap="round" stroke-linejoin="round"/>
<polyline points="593.2,460.0 596.8,460.0" fill="none" stroke="#e01818" stroke-width="1.7" stroke-linecap="round" stroke-linejoin="round"/>
<polyline points="596.8,460.0 599.2,459.5" fill="none" stroke="#484848" stroke-width="1.5" stroke-linecap="round" stroke-linejoin="round"/>
<polyline points="599.2,459.5 601.8,463.6" fill="none" stroke="#e01818" stroke-width="1.7" stroke-linecap="round" stroke-linejoin="round"/>
<polyline points="601.8,463.6 600.0,468.6" fill="none" stroke="#484848" stroke-width="1.6" stroke-linecap="round" stroke-linejoin="round"/>
<polyline points="593.2,470.3 596.8,470.3" fill="none" stroke="#e01818" stroke-width="1.7" stroke-linecap="round" stroke-linejoin="round"/>
<polyline points="596.8,470.3 600.0,469.0" fill="none" stroke="#484848" stroke-width="1.5" stroke-linecap="round" stroke-linejoin="round"/>
<polyline points="600.0,468.6 598.8,471.1" fill="none" stroke="#484848" stroke-width="1.6" stroke-linecap="round" stroke-linejoin="round"/>
<polyline points="594.6,474.8 598.9,475.4" fill="none" stroke="#484848" stroke-width="1.5" stroke-linecap="round" stroke-linejoin="round"/>
<polyline points="600.1,470.3 604.2,476.1 607.5,481.1" fill="none" stroke="#484848" stroke-width="1.9" stroke-linecap="round" stroke-linejoin="round"/>
<polyline points="604.2,476.1 609.2,471.9 612.5,475.3 615.9,471.1 620.0,468.3" fill="none" stroke="#484848" stroke-width="1.9" stroke-linecap="round" stroke-linejoin="round"/>
<polyline points="612.5,475.3 616.7,478.6" fill="none" stroke="#484848" stroke-width="1.7" stroke-linecap="round" stroke-linejoin="round"/>
<polyline points="601.7,472.8 606.2,478.6" fill="none" stroke="#484848" stroke-width="1.5" stroke-linecap="round" stroke-linejoin="round"/>
<polyline points="606.7,473.9 610.9,477.4" fill="none" stroke="#484848" stroke-width="1.4" stroke-linecap="round" stroke-linejoin="round"/>
<polyline points="610.9,472.9 614.5,476.9" fill="none" stroke="#484848" stroke-width="1.3" stroke-linecap="round" stroke-linejoin="round"/>
<polyline points="679.1,471.9 683.3,471.6" fill="none" stroke="#484848" stroke-width="1.4" stroke-linecap="round" stroke-linejoin="round"/>
<polyline points="685.8,471.9 689.1,471.9" fill="none" stroke="#484848" stroke-width="1.3" stroke-linecap="round" stroke-linejoin="round"/>
<polyline points="600.1,470.3 600.1,467.8" fill="none" stroke="#8c8c8c" stroke-width="1.05" stroke-linecap="round" stroke-linejoin="round"/>
<polyline points="609.2,471.9 609.2,466.9" fill="none" stroke="#8c8c8c" stroke-width="1.05" stroke-linecap="round" stroke-linejoin="round"/>
<polyline points="615.9,471.1 616.9,465.3" fill="none" stroke="#8c8c8c" stroke-width="1.05" stroke-linecap="round" stroke-linejoin="round"/>
<polyline points="604.2,476.1 602.6,482.6" fill="none" stroke="#8c8c8c" stroke-width="1.05" stroke-linecap="round" stroke-linejoin="round"/>
<polyline points="607.5,481.1 607.9,484.6" fill="none" stroke="#8c8c8c" stroke-width="1.05" stroke-linecap="round" stroke-linejoin="round"/>
<polyline points="616.7,478.6 618.7,479.9" fill="none" stroke="#8c8c8c" stroke-width="1.05" stroke-linecap="round" stroke-linejoin="round"/>
<polyline points="616.7,478.6 620.9,479.4" fill="none" stroke="#8c8c8c" stroke-width="1.05" stroke-linecap="round" stroke-linejoin="round"/>
<polyline points="598.9,475.4 597.6,477.3" fill="none" stroke="#8c8c8c" stroke-width="1.05" stroke-linecap="round" stroke-linejoin="round"/>
<polyline points="620.0,468.3 618.5,465.3" fill="none" stroke="#8c8c8c" stroke-width="1.05" stroke-linecap="round" stroke-linejoin="round"/>
<polyline points="620.0,468.3 625.2,470.3" fill="none" stroke="#2038d8" stroke-width="1.8" stroke-linecap="round" stroke-linejoin="round"/>
<polyline points="625.2,470.3 628.5,471.9" fill="none" stroke="#484848" stroke-width="1.6" stroke-linecap="round" stroke-linejoin="round"/>
<polyline points="628.5,471.9 628.9,474.1" fill="none" stroke="#e01818" stroke-width="1.7" stroke-linecap="round" stroke-linejoin="round"/>
<polyline points="628.9,471.8 635.2,471.9" fill="none" stroke="#e01818" stroke-width="1.8" stroke-linecap="round" stroke-linejoin="round"/>
<polyline points="635.2,471.9 639.2,471.6 643.3,471.1 648.3,470.3 653.3,469.4 656.8,469.4" fill="none" stroke="#484848" stroke-width="2.1" stroke-linecap="round" stroke-linejoin="round"/>
<polyline points="638.8,467.6 638.8,475.6" fill="none" stroke="#707070" stroke-width="1.0" stroke-linecap="round" stroke-linejoin="round"/>
<polyline points="643.5,467.1 643.5,475.1" fill="none" stroke="#707070" stroke-width="1.0" stroke-linecap="round" stroke-linejoin="round"/>
<polyline points="648.5,466.4 648.5,474.4" fill="none" stroke="#707070" stroke-width="1.0" stroke-linecap="round" stroke-linejoin="round"/>
<polyline points="653.8,465.8 653.8,473.8" fill="none" stroke="#707070" stroke-width="1.0" stroke-linecap="round" stroke-linejoin="round"/>
<polyline points="656.8,469.4 661.8,468.6" fill="none" stroke="#e01818" stroke-width="1.8" stroke-linecap="round" stroke-linejoin="round"/>
<polyline points="661.8,468.6 664.2,468.6" fill="none" stroke="#484848" stroke-width="1.6" stroke-linecap="round" stroke-linejoin="round"/>
<polyline points="664.2,468.6 664.7,470.8" fill="none" stroke="#e01818" stroke-width="1.7" stroke-linecap="round" stroke-linejoin="round"/>
<polyline points="664.2,468.6 667.5,467.3" fill="none" stroke="#484848" stroke-width="1.6" stroke-linecap="round" stroke-linejoin="round"/>
<polyline points="667.5,467.3 672.5,466.6" fill="none" stroke="#2038d8" stroke-width="1.8" stroke-linecap="round" stroke-linejoin="round"/>
<polyline points="672.5,466.6 675.0,463.6" fill="none" stroke="#484848" stroke-width="1.6" stroke-linecap="round" stroke-linejoin="round"/>
<polyline points="675.0,463.6 674.6,461.5" fill="none" stroke="#8c8c8c" stroke-width="1.05" stroke-linecap="round" stroke-linejoin="round"/>
<polyline points="672.5,466.6 678.3,470.3 677.5,476.1 673.3,477.8" fill="none" stroke="#484848" stroke-width="1.8" stroke-linecap="round" stroke-linejoin="round"/>
<polyline points="678.3,470.3 684.1,469.4 685.0,479.4" fill="none" stroke="#484848" stroke-width="1.9" stroke-linecap="round" stroke-linejoin="round"/>
<polyline points="684.1,469.4 690.0,470.3 690.8,466.1" fill="none" stroke="#484848" stroke-width="1.8" stroke-linecap="round" stroke-linejoin="round"/>
<polyline points="678.3,470.3 679.1,464.9" fill="none" stroke="#8c8c8c" stroke-width="1.05" stroke-linecap="round" stroke-linejoin="round"/>
<polyline points="684.1,469.4 685.0,464.1" fill="none" stroke="#8c8c8c" stroke-width="1.05" stroke-linecap="round" stroke-linejoin="round"/>
<polyline points="677.5,476.1 679.5,477.3" fill="none" stroke="#8c8c8c" stroke-width="1.05" stroke-linecap="round" stroke-linejoin="round"/>
<polyline points="685.0,479.4 687.8,480.3" fill="none" stroke="#8c8c8c" stroke-width="1.05" stroke-linecap="round" stroke-linejoin="round"/>
<polyline points="673.3,477.8 672.5,476.6" fill="none" stroke="#8c8c8c" stroke-width="1.05" stroke-linecap="round" stroke-linejoin="round"/>
<polyline points="690.0,470.3 690.5,473.9" fill="none" stroke="#8c8c8c" stroke-width="1.05" stroke-linecap="round" stroke-linejoin="round"/>
<polyline points="691.8,469.4 696.8,470.6" fill="none" stroke="#2038d8" stroke-width="1.8" stroke-linecap="round" stroke-linejoin="round"/>
<polyline points="696.8,470.6 700.8,471.6" fill="none" stroke="#484848" stroke-width="1.6" stroke-linecap="round" stroke-linejoin="round"/>
<polyline points="700.8,471.6 701.1,473.4" fill="none" stroke="#e01818" stroke-width="1.7" stroke-linecap="round" stroke-linejoin="round"/>
<polyline points="702.1,470.4 706.8,469.9" fill="none" stroke="#e01818" stroke-width="1.8" stroke-linecap="round" stroke-linejoin="round"/>
<polyline points="706.8,469.9 711.8,470.3" fill="none" stroke="#2038d8" stroke-width="1.8" stroke-linecap="round" stroke-linejoin="round"/>
<polyline points="711.8,470.3 715.1,471.1" fill="none" stroke="#484848" stroke-width="1.6" stroke-linecap="round" stroke-linejoin="round"/>
<polyline points="715.1,471.1 719.1,469.4 727.4,469.4 732.4,470.6 727.4,471.5 719.1,471.5 715.1,471.1" fill="none" stroke="#484848" stroke-width="1.6" stroke-linecap="round" stroke-linejoin="round"/>
<polyline points="722.1,471.1 726.1,471.1" fill="none" stroke="#e01818" stroke-width="1.8" stroke-linecap="round" stroke-linejoin="round"/>
<polyline points="732.4,470.6 736.7,470.3" fill="none" stroke="#484848" stroke-width="1.6" stroke-linecap="round" stroke-linejoin="round"/>
<polyline points="736.7,470.3 740.9,470.3" fill="none" stroke="#2038d8" stroke-width="1.8" stroke-linecap="round" stroke-linejoin="round"/>
<polyline points="740.9,470.3 744.2,471.1" fill="none" stroke="#e01818" stroke-width="1.8" stroke-linecap="round" stroke-linejoin="round"/>
<path d="M785.0,441.7 L823.8,442.3 L823.8,443.5 L791.0,444.2 L785.5,445.6 Z" fill="#6a6a6a"/>
<line x1="823.80" y1="442.90" x2="827.00" y2="443.20" stroke="#58d858" stroke-width="1.4"/>
<polyline points="785.9,443.3 787.5,446.0" fill="none" stroke="#484848" stroke-width="1.6" stroke-linecap="round" stroke-linejoin="round"/>
<polyline points="787.5,446.0 788.8,449.3" fill="none" stroke="#e01818" stroke-width="1.7" stroke-linecap="round" stroke-linejoin="round"/>
<polyline points="788.8,449.3 792.5,451.7 789.2,457.5" fill="none" stroke="#484848" stroke-width="1.6" stroke-linecap="round" stroke-linejoin="round"/>
<polyline points="792.5,451.7 794.3,451.3" fill="none" stroke="#8c8c8c" stroke-width="1.05" stroke-linecap="round" stroke-linejoin="round"/>
<polyline points="783.2,458.0 786.8,458.0" fill="none" stroke="#e01818" stroke-width="1.7" stroke-linecap="round" stroke-linejoin="round"/>
<polyline points="786.8,458.0 789.2,457.5" fill="none" stroke="#484848" stroke-width="1.5" stroke-linecap="round" stroke-linejoin="round"/>
<polyline points="789.2,457.5 791.8,461.6" fill="none" stroke="#e01818" stroke-width="1.7" stroke-linecap="round" stroke-linejoin="round"/>
<polyline points="791.8,461.6 790.0,466.6" fill="none" stroke="#484848" stroke-width="1.6" stroke-linecap="round" stroke-linejoin="round"/>
<polyline points="783.2,468.3 786.8,468.3" fill="none" stroke="#e01818" stroke-width="1.7" stroke-linecap="round" stroke-linejoin="round"/>
<polyline points="786.8,468.3 790.0,467.0" fill="none" stroke="#484848" stroke-width="1.5" stroke-linecap="round" stroke-linejoin="round"/>
<polyline points="790.0,466.6 788.8,469.1" fill="none" stroke="#484848" stroke-width="1.6" stroke-linecap="round" stroke-linejoin="round"/>
<polyline points="784.6,472.8 788.9,473.4" fill="none" stroke="#484848" stroke-width="1.5" stroke-linecap="round" stroke-linejoin="round"/>
<polyline points="790.1,468.3 794.2,474.1 797.5,479.1" fill="none" stroke="#484848" stroke-width="1.9" stroke-linecap="round" stroke-linejoin="round"/>
<polyline points="794.2,474.1 799.2,469.9 802.5,473.3 805.9,469.1 810.0,466.3" fill="none" stroke="#484848" stroke-width="1.9" stroke-linecap="round" stroke-linejoin="round"/>
<polyline points="802.5,473.3 806.7,476.6" fill="none" stroke="#484848" stroke-width="1.7" stroke-linecap="round" stroke-linejoin="round"/>
<polyline points="791.7,470.8 796.2,476.6" fill="none" stroke="#484848" stroke-width="1.5" stroke-linecap="round" stroke-linejoin="round"/>
<polyline points="796.7,471.9 800.9,475.4" fill="none" stroke="#484848" stroke-width="1.4" stroke-linecap="round" stroke-linejoin="round"/>
<polyline points="800.9,470.9 804.5,474.9" fill="none" stroke="#484848" stroke-width="1.3" stroke-linecap="round" stroke-linejoin="round"/>
<polyline points="869.1,469.9 873.3,469.6" fill="none" stroke="#484848" stroke-width="1.4" stroke-linecap="round" stroke-linejoin="round"/>
<polyline points="875.8,469.9 879.1,469.9" fill="none" stroke="#484848" stroke-width="1.3" stroke-linecap="round" stroke-linejoin="round"/>
<polyline points="790.1,468.3 790.1,465.8" fill="none" stroke="#8c8c8c" stroke-width="1.05" stroke-linecap="round" stroke-linejoin="round"/>
<polyline points="799.2,469.9 799.2,464.9" fill="none" stroke="#8c8c8c" stroke-width="1.05" stroke-linecap="round" stroke-linejoin="round"/>
<polyline points="805.9,469.1 806.9,463.3" fill="none" stroke="#8c8c8c" stroke-width="1.05" stroke-linecap="round" stroke-linejoin="round"/>
<polyline points="794.2,474.1 792.6,480.6" fill="none" stroke="#8c8c8c" stroke-width="1.05" stroke-linecap="round" stroke-linejoin="round"/>
<polyline points="797.5,479.1 797.9,482.6" fill="none" stroke="#8c8c8c" stroke-width="1.05" stroke-linecap="round" stroke-linejoin="round"/>
<polyline points="806.7,476.6 808.7,477.9" fill="none" stroke="#8c8c8c" stroke-width="1.05" stroke-linecap="round" stroke-linejoin="round"/>
<polyline points="806.7,476.6 810.9,477.4" fill="none" stroke="#8c8c8c" stroke-width="1.05" stroke-linecap="round" stroke-linejoin="round"/>
<polyline points="788.9,473.4 787.6,475.3" fill="none" stroke="#8c8c8c" stroke-width="1.05" stroke-linecap="round" stroke-linejoin="round"/>
<polyline points="810.0,466.3 808.5,463.3" fill="none" stroke="#8c8c8c" stroke-width="1.05" stroke-linecap="round" stroke-linejoin="round"/>
<polyline points="810.0,466.3 815.2,468.3" fill="none" stroke="#2038d8" stroke-width="1.8" stroke-linecap="round" stroke-linejoin="round"/>
<polyline points="815.2,468.3 818.5,469.9" fill="none" stroke="#484848" stroke-width="1.6" stroke-linecap="round" stroke-linejoin="round"/>
<polyline points="818.5,469.9 818.9,472.1" fill="none" stroke="#e01818" stroke-width="1.7" stroke-linecap="round" stroke-linejoin="round"/>
<polyline points="818.9,469.8 825.2,469.9" fill="none" stroke="#e01818" stroke-width="1.8" stroke-linecap="round" stroke-linejoin="round"/>
<polyline points="825.2,469.9 829.2,469.6 833.3,469.1 838.3,468.3 843.3,467.4 846.8,467.4" fill="none" stroke="#484848" stroke-width="2.1" stroke-linecap="round" stroke-linejoin="round"/>
<polyline points="828.8,465.6 828.8,473.6" fill="none" stroke="#707070" stroke-width="1.0" stroke-linecap="round" stroke-linejoin="round"/>
<polyline points="833.5,465.1 833.5,473.1" fill="none" stroke="#707070" stroke-width="1.0" stroke-linecap="round" stroke-linejoin="round"/>
<polyline points="838.5,464.4 838.5,472.4" fill="none" stroke="#707070" stroke-width="1.0" stroke-linecap="round" stroke-linejoin="round"/>
<polyline points="843.8,463.8 843.8,471.8" fill="none" stroke="#707070" stroke-width="1.0" stroke-linecap="round" stroke-linejoin="round"/>
<polyline points="846.8,467.4 851.8,466.6" fill="none" stroke="#e01818" stroke-width="1.8" stroke-linecap="round" stroke-linejoin="round"/>
<polyline points="851.8,466.6 854.2,466.6" fill="none" stroke="#484848" stroke-width="1.6" stroke-linecap="round" stroke-linejoin="round"/>
<polyline points="854.2,466.6 854.7,468.8" fill="none" stroke="#e01818" stroke-width="1.7" stroke-linecap="round" stroke-linejoin="round"/>
<polyline points="854.2,466.6 857.5,465.3" fill="none" stroke="#484848" stroke-width="1.6" stroke-linecap="round" stroke-linejoin="round"/>
<polyline points="857.5,465.3 862.5,464.6" fill="none" stroke="#2038d8" stroke-width="1.8" stroke-linecap="round" stroke-linejoin="round"/>
<polyline points="862.5,464.6 865.0,461.6" fill="none" stroke="#484848" stroke-width="1.6" stroke-linecap="round" stroke-linejoin="round"/>
<polyline points="865.0,461.6 864.6,459.5" fill="none" stroke="#8c8c8c" stroke-width="1.05" stroke-linecap="round" stroke-linejoin="round"/>
<polyline points="862.5,464.6 868.3,468.3 867.5,474.1 863.3,475.8" fill="none" stroke="#484848" stroke-width="1.8" stroke-linecap="round" stroke-linejoin="round"/>
<polyline points="868.3,468.3 874.1,467.4 875.0,477.4" fill="none" stroke="#484848" stroke-width="1.9" stroke-linecap="round" stroke-linejoin="round"/>
<polyline points="874.1,467.4 880.0,468.3 880.8,464.1" fill="none" stroke="#484848" stroke-width="1.8" stroke-linecap="round" stroke-linejoin="round"/>
<polyline points="868.3,468.3 869.1,462.9" fill="none" stroke="#8c8c8c" stroke-width="1.05" stroke-linecap="round" stroke-linejoin="round"/>
<polyline points="874.1,467.4 875.0,462.1" fill="none" stroke="#8c8c8c" stroke-width="1.05" stroke-linecap="round" stroke-linejoin="round"/>
<polyline points="867.5,474.1 869.5,475.3" fill="none" stroke="#8c8c8c" stroke-width="1.05" stroke-linecap="round" stroke-linejoin="round"/>
<polyline points="875.0,477.4 877.8,478.3" fill="none" stroke="#8c8c8c" stroke-width="1.05" stroke-linecap="round" stroke-linejoin="round"/>
<polyline points="863.3,475.8 862.5,474.6" fill="none" stroke="#8c8c8c" stroke-width="1.05" stroke-linecap="round" stroke-linejoin="round"/>
<polyline points="880.0,468.3 880.5,471.9" fill="none" stroke="#8c8c8c" stroke-width="1.05" stroke-linecap="round" stroke-linejoin="round"/>
<polyline points="881.8,467.4 886.8,468.6" fill="none" stroke="#2038d8" stroke-width="1.8" stroke-linecap="round" stroke-linejoin="round"/>
<polyline points="886.8,468.6 890.8,469.6" fill="none" stroke="#484848" stroke-width="1.6" stroke-linecap="round" stroke-linejoin="round"/>
<polyline points="890.8,469.6 891.1,471.4" fill="none" stroke="#e01818" stroke-width="1.7" stroke-linecap="round" stroke-linejoin="round"/>
<polyline points="892.1,468.4 896.8,467.9" fill="none" stroke="#e01818" stroke-width="1.8" stroke-linecap="round" stroke-linejoin="round"/>
<polyline points="896.8,467.9 901.8,468.3" fill="none" stroke="#2038d8" stroke-width="1.8" stroke-linecap="round" stroke-linejoin="round"/>
<polyline points="901.8,468.3 905.1,469.1" fill="none" stroke="#484848" stroke-width="1.6" stroke-linecap="round" stroke-linejoin="round"/>
<polyline points="905.1,469.1 909.1,467.4 917.4,467.4 922.4,468.6 917.4,469.5 909.1,469.5 905.1,469.1" fill="none" stroke="#484848" stroke-width="1.6" stroke-linecap="round" stroke-linejoin="round"/>
<polyline points="912.1,469.1 916.1,469.1" fill="none" stroke="#e01818" stroke-width="1.8" stroke-linecap="round" stroke-linejoin="round"/>
<polyline points="922.4,468.6 926.7,468.3" fill="none" stroke="#484848" stroke-width="1.6" stroke-linecap="round" stroke-linejoin="round"/>
<polyline points="926.7,468.3 930.9,468.3" fill="none" stroke="#2038d8" stroke-width="1.8" stroke-linecap="round" stroke-linejoin="round"/>
<polyline points="930.9,468.3 934.2,469.1" fill="none" stroke="#e01818" stroke-width="1.8" stroke-linecap="round" stroke-linejoin="round"/>
<polyline points="294.5,457.3 296.5,458.5 303.5,458.9" fill="none" stroke="#484848" stroke-width="1.5"/>
<polyline points="303.5,458.9 310.0,458.5" fill="none" stroke="#e01818" stroke-width="1.6"/>
<polyline points="296.5,458.5 296.0,462.8" fill="none" stroke="#8c8c8c" stroke-width="0.8"/>
<polyline points="513.5,455.2 515.5,456.4 522.5,456.8" fill="none" stroke="#484848" stroke-width="1.5"/>
<polyline points="522.5,456.8 529.0,456.4" fill="none" stroke="#e01818" stroke-width="1.6"/>
<polyline points="515.5,456.4 515.0,460.7" fill="none" stroke="#8c8c8c" stroke-width="0.8"/>
<polyline points="821.2,454.5 823.2,455.7 830.2,456.1" fill="none" stroke="#484848" stroke-width="1.5"/>
<polyline points="830.2,456.1 836.7,455.7" fill="none" stroke="#e01818" stroke-width="1.6"/>
<polyline points="823.2,455.7 822.7,460.0" fill="none" stroke="#8c8c8c" stroke-width="0.8"/>
<circle cx="463.80" cy="447.00" r="0.70" fill="#58d858"/>
</g>
<g id="pf">
<text x="18.60" y="528.50" font-size="20.6">(f)</text>
<path d="M91.6,550.0 C92.4,550.0 94.9,550.1 96.5,550.1 C98.1,550.1 99.8,550.2 101.4,550.2 C103.0,550.2 104.6,550.3 106.3,550.3 C107.9,550.3 109.5,550.4 111.2,550.4 C112.8,550.4 114.4,550.4 116.0,550.4 C117.7,550.5 119.3,550.5 120.9,550.5 C122.5,550.5 124.2,550.5 125.8,550.5 C127.4,550.5 129.0,550.5 130.7,550.6 C132.3,550.6 133.9,550.6 135.6,550.6 C137.2,550.6 138.8,550.5 140.4,550.5 C142.1,550.5 143.7,550.5 145.3,550.4 C146.9,550.4 148.6,550.4 150.2,550.4 C151.8,550.3 153.4,550.3 155.1,550.3 C156.7,550.3 158.3,550.3 159.9,550.2 C161.6,550.1 163.2,549.9 164.8,549.8 C166.5,549.7 168.1,549.5 169.7,549.4 C171.3,549.3 173.0,549.0 174.6,549.0 C176.2,549.0 177.8,549.3 179.5,549.4 C181.1,549.5 182.7,549.7 184.3,549.8 C186.0,549.9 187.6,549.9 189.2,550.0 C190.9,550.1 192.5,550.1 194.1,550.2 C195.7,550.3 197.4,550.3 199.0,550.4 C200.6,550.5 202.2,550.5 203.9,550.6 C205.5,550.7 207.1,550.7 208.8,550.8 C210.4,550.9 212.0,551.1 213.6,551.0 C215.3,550.9 216.9,550.7 218.5,550.4 C220.1,550.1 221.8,549.3 223.4,549.0 C225.0,548.7 226.6,548.9 228.3,548.4 C229.9,547.9 231.5,546.0 233.2,546.1 C234.8,546.2 236.4,548.3 238.0,548.9 C239.7,549.5 241.3,550.3 242.9,549.5 C244.5,548.7 246.2,545.8 247.8,543.9 C249.4,542.0 251.0,539.0 252.7,538.0 C254.3,537.0 256.7,537.7 257.5,537.6" fill="none" stroke="#5fe2ca" stroke-width="1.35" stroke-linejoin="round"/>
<path d="M89.6,547.6 L94.3,550.0 L89.6,552.4 Z" fill="#5fe2ca"/>
<path d="M94.5,547.7 L99.2,550.1 L94.5,552.5 Z" fill="#5fe2ca"/>
<path d="M99.4,547.8 L104.1,550.2 L99.4,552.6 Z" fill="#5fe2ca"/>
<path d="M104.3,547.9 L109.0,550.3 L104.3,552.7 Z" fill="#5fe2ca"/>
<path d="M109.2,548.0 L113.9,550.4 L109.2,552.8 Z" fill="#5fe2ca"/>
<path d="M114.0,548.0 L118.7,550.4 L114.0,552.8 Z" fill="#5fe2ca"/>
<path d="M118.9,548.1 L123.6,550.5 L118.9,552.9 Z" fill="#5fe2ca"/>
<path d="M123.8,548.1 L128.5,550.5 L123.8,552.9 Z" fill="#5fe2ca"/>
<path d="M128.7,548.2 L133.4,550.6 L128.7,553.0 Z" fill="#5fe2ca"/>
<path d="M133.6,548.2 L138.2,550.6 L133.6,553.0 Z" fill="#5fe2ca"/>
<path d="M138.4,548.1 L143.1,550.5 L138.4,552.9 Z" fill="#5fe2ca"/>
<path d="M143.3,548.0 L148.0,550.4 L143.3,552.8 Z" fill="#5fe2ca"/>
<path d="M148.2,548.0 L152.9,550.4 L148.2,552.8 Z" fill="#5fe2ca"/>
<path d="M153.1,547.9 L157.8,550.3 L153.1,552.7 Z" fill="#5fe2ca"/>
<path d="M157.9,547.8 L162.6,550.2 L157.9,552.6 Z" fill="#5fe2ca"/>
<path d="M162.8,547.4 L167.5,549.8 L162.8,552.2 Z" fill="#5fe2ca"/>
<path d="M167.7,547.0 L172.4,549.4 L167.7,551.8 Z" fill="#5fe2ca"/>
<path d="M172.6,546.6 L177.3,549.0 L172.6,551.4 Z" fill="#5fe2ca"/>
<path d="M177.5,547.0 L182.2,549.4 L177.5,551.8 Z" fill="#5fe2ca"/>
<path d="M182.3,547.4 L187.0,549.8 L182.3,552.2 Z" fill="#5fe2ca"/>
<path d="M187.2,547.6 L191.9,550.0 L187.2,552.4 Z" fill="#5fe2ca"/>
<path d="M192.1,547.8 L196.8,550.2 L192.1,552.6 Z" fill="#5fe2ca"/>
<path d="M197.0,548.0 L201.7,550.4 L197.0,552.8 Z" fill="#5fe2ca"/>
<path d="M201.9,548.2 L206.6,550.6 L201.9,553.0 Z" fill="#5fe2ca"/>
<path d="M206.8,548.4 L211.4,550.8 L206.8,553.2 Z" fill="#5fe2ca"/>
<path d="M211.6,548.6 L216.3,551.0 L211.6,553.4 Z" fill="#5fe2ca"/>
<path d="M216.5,548.0 L221.2,550.4 L216.5,552.8 Z" fill="#5fe2ca"/>
<path d="M221.4,546.6 L226.1,549.0 L221.4,551.4 Z" fill="#5fe2ca"/>
<path d="M226.3,546.0 L231.0,548.4 L226.3,550.8 Z" fill="#5fe2ca"/>
<path d="M231.2,543.7 L235.8,546.1 L231.2,548.5 Z" fill="#5fe2ca"/>
<path d="M236.0,546.5 L240.7,548.9 L236.0,551.3 Z" fill="#5fe2ca"/>
<path d="M240.9,547.1 L245.6,549.5 L240.9,551.9 Z" fill="#5fe2ca"/>
<path d="M245.8,541.5 L250.5,543.9 L245.8,546.3 Z" fill="#5fe2ca"/>
<path d="M250.7,535.6 L255.4,538.0 L250.7,540.4 Z" fill="#5fe2ca"/>
<path d="M255.5,535.2 L260.2,537.6 L255.5,540.0 Z" fill="#5fe2ca"/>
<path d="M91.6,557.6 C92.4,557.6 94.9,557.8 96.5,557.9 C98.1,557.9 99.8,558.0 101.4,558.1 C103.0,558.2 104.6,558.3 106.3,558.4 C107.9,558.4 109.5,558.5 111.2,558.6 C112.8,558.7 114.4,558.7 116.0,558.8 C117.7,558.8 119.3,558.9 120.9,558.9 C122.5,559.0 124.2,559.0 125.8,559.1 C127.4,559.1 129.0,559.2 130.7,559.2 C132.3,559.3 133.9,559.4 135.6,559.4 C137.2,559.4 138.8,559.4 140.4,559.4 C142.1,559.5 143.7,559.5 145.3,559.5 C146.9,559.5 148.6,559.5 150.2,559.5 C151.8,559.5 153.4,559.5 155.1,559.6 C156.7,559.6 158.3,559.6 159.9,559.6 C161.6,559.6 163.2,559.4 164.8,559.3 C166.5,559.2 168.1,559.0 169.7,558.9 C171.3,558.8 173.0,558.6 174.6,558.6 C176.2,558.6 177.8,558.7 179.5,558.8 C181.1,558.8 182.7,558.9 184.3,558.9 C186.0,559.0 187.6,559.0 189.2,559.1 C190.9,559.1 192.5,559.2 194.1,559.2 C195.7,559.2 197.4,559.2 199.0,559.2 C200.6,559.1 202.2,559.1 203.9,559.1 C205.5,559.1 207.1,559.1 208.8,559.0 C210.4,559.0 212.5,558.3 213.6,559.0 C214.7,559.7 214.8,560.7 215.3,563.0 C215.9,565.3 216.5,570.4 217.0,573.0 C217.6,575.6 218.0,577.5 218.5,578.6 C219.0,579.7 219.4,579.9 220.0,579.6 C220.5,579.3 221.0,578.7 221.7,577.0 C222.3,575.3 223.2,571.9 223.9,569.5 C224.6,567.1 225.1,564.2 225.8,562.5 C226.6,560.8 227.1,559.7 228.3,559.0 C229.5,558.3 231.5,558.4 233.2,558.5 C234.8,558.6 236.4,558.9 238.0,559.5 C239.7,560.1 241.3,561.0 242.9,562.0 C244.5,563.0 246.2,565.2 247.8,565.5 C249.4,565.8 251.0,564.0 252.7,563.5 C254.3,563.0 255.9,562.7 257.5,562.5 C259.2,562.3 261.6,562.5 262.4,562.5" fill="none" stroke="#a9f4ea" stroke-width="1.35" stroke-linejoin="round"/>
<path d="M89.6,555.2 L94.3,557.6 L89.6,560.0 Z" fill="#a9f4ea"/>
<path d="M94.5,555.5 L99.2,557.9 L94.5,560.2 Z" fill="#a9f4ea"/>
<path d="M99.4,555.7 L104.1,558.1 L99.4,560.5 Z" fill="#a9f4ea"/>
<path d="M104.3,556.0 L109.0,558.4 L104.3,560.8 Z" fill="#a9f4ea"/>
<path d="M109.2,556.2 L113.9,558.6 L109.2,561.0 Z" fill="#a9f4ea"/>
<path d="M114.0,556.4 L118.7,558.8 L114.0,561.2 Z" fill="#a9f4ea"/>
<path d="M118.9,556.5 L123.6,558.9 L118.9,561.3 Z" fill="#a9f4ea"/>
<path d="M123.8,556.7 L128.5,559.1 L123.8,561.5 Z" fill="#a9f4ea"/>
<path d="M128.7,556.8 L133.4,559.2 L128.7,561.6 Z" fill="#a9f4ea"/>
<path d="M133.6,557.0 L138.2,559.4 L133.6,561.8 Z" fill="#a9f4ea"/>
<path d="M138.4,557.0 L143.1,559.4 L138.4,561.8 Z" fill="#a9f4ea"/>
<path d="M143.3,557.1 L148.0,559.5 L143.3,561.9 Z" fill="#a9f4ea"/>
<path d="M148.2,557.1 L152.9,559.5 L148.2,561.9 Z" fill="#a9f4ea"/>
<path d="M153.1,557.2 L157.8,559.6 L153.1,562.0 Z" fill="#a9f4ea"/>
<path d="M157.9,557.2 L162.6,559.6 L157.9,562.0 Z" fill="#a9f4ea"/>
<path d="M162.8,556.9 L167.5,559.3 L162.8,561.7 Z" fill="#a9f4ea"/>
<path d="M167.7,556.5 L172.4,558.9 L167.7,561.3 Z" fill="#a9f4ea"/>
<path d="M172.6,556.2 L177.3,558.6 L172.6,561.0 Z" fill="#a9f4ea"/>
<path d="M177.5,556.4 L182.2,558.8 L177.5,561.1 Z" fill="#a9f4ea"/>
<path d="M182.3,556.5 L187.0,558.9 L182.3,561.3 Z" fill="#a9f4ea"/>
<path d="M187.2,556.7 L191.9,559.1 L187.2,561.5 Z" fill="#a9f4ea"/>
<path d="M192.1,556.8 L196.8,559.2 L192.1,561.6 Z" fill="#a9f4ea"/>
<path d="M197.0,556.8 L201.7,559.2 L197.0,561.6 Z" fill="#a9f4ea"/>
<path d="M201.9,556.7 L206.6,559.1 L201.9,561.5 Z" fill="#a9f4ea"/>
<path d="M206.8,556.6 L211.4,559.0 L206.8,561.4 Z" fill="#a9f4ea"/>
<path d="M211.6,556.6 L216.3,559.0 L211.6,561.4 Z" fill="#a9f4ea"/>
<path d="M216.5,584.4 L221.2,586.8 L216.5,589.2 Z" fill="#a9f4ea"/>
<path d="M221.4,571.6 L226.1,574.0 L221.4,576.4 Z" fill="#a9f4ea"/>
<path d="M226.3,556.6 L231.0,559.0 L226.3,561.4 Z" fill="#a9f4ea"/>
<path d="M231.2,556.1 L235.8,558.5 L231.2,560.9 Z" fill="#a9f4ea"/>
<path d="M236.0,557.1 L240.7,559.5 L236.0,561.9 Z" fill="#a9f4ea"/>
<path d="M240.9,559.6 L245.6,562.0 L240.9,564.4 Z" fill="#a9f4ea"/>
<path d="M245.8,563.1 L250.5,565.5 L245.8,567.9 Z" fill="#a9f4ea"/>
<path d="M250.7,561.1 L255.4,563.5 L250.7,565.9 Z" fill="#a9f4ea"/>
<path d="M255.5,560.1 L260.2,562.5 L255.5,564.9 Z" fill="#a9f4ea"/>
<path d="M260.4,560.1 L265.1,562.5 L260.4,564.9 Z" fill="#a9f4ea"/>
<path d="M91.6,581.2 C92.4,581.2 94.9,581.4 96.5,581.5 C98.1,581.5 99.8,581.6 101.4,581.7 C103.0,581.8 104.6,581.9 106.3,582.0 C107.9,582.0 109.5,582.1 111.2,582.2 C112.8,582.3 114.4,582.4 116.0,582.5 C117.7,582.6 119.3,582.7 120.9,582.8 C122.5,582.9 124.2,582.9 125.8,583.0 C127.4,583.1 129.0,583.2 130.7,583.3 C132.3,583.4 133.9,583.5 135.6,583.6 C137.2,583.7 138.8,583.8 140.4,583.9 C142.1,584.0 143.7,584.1 145.3,584.2 C146.9,584.3 148.6,584.5 150.2,584.6 C151.8,584.7 153.4,584.8 155.1,584.9 C156.7,585.0 158.3,585.2 159.9,585.2 C161.6,585.2 163.2,585.1 164.8,585.1 C166.5,585.0 168.1,585.0 169.7,585.0 C171.3,584.9 173.0,584.9 174.6,584.8 C176.2,584.8 177.8,584.8 179.5,584.7 C181.1,584.7 182.7,584.7 184.3,584.6 C186.0,584.5 187.6,584.5 189.2,584.4 C190.9,584.3 192.5,584.3 194.1,584.2 C195.7,584.1 197.4,584.1 199.0,584.0 C200.6,583.9 202.2,583.9 203.9,583.8 C205.5,583.7 207.1,583.7 208.8,583.6 C210.4,583.5 212.5,582.7 213.6,583.4 C214.7,584.1 214.8,585.6 215.3,588.0 C215.9,590.4 216.5,595.5 217.0,598.0 C217.6,600.5 218.0,602.0 218.5,603.0 C219.0,604.0 219.4,604.5 220.0,604.2 C220.5,604.0 221.0,603.2 221.7,601.5 C222.3,599.8 223.2,596.4 223.9,594.0 C224.6,591.6 225.1,588.9 225.8,587.0 C226.6,585.1 227.1,583.2 228.3,582.5 C229.5,581.8 231.5,582.2 233.2,582.5 C234.8,582.8 236.4,583.3 238.0,584.0 C239.7,584.7 241.3,585.6 242.9,586.5 C244.5,587.4 246.2,589.3 247.8,589.5 C249.4,589.7 251.0,588.0 252.7,587.5 C254.3,587.0 255.9,586.7 257.5,586.5 C259.2,586.3 261.6,586.5 262.4,586.5" fill="none" stroke="#1b6e5c" stroke-width="1.35" stroke-linejoin="round"/>
<path d="M89.6,578.8 L94.3,581.2 L89.6,583.6 Z" fill="#1b6e5c"/>
<path d="M94.5,579.1 L99.2,581.5 L94.5,583.9 Z" fill="#1b6e5c"/>
<path d="M99.4,579.3 L104.1,581.7 L99.4,584.1 Z" fill="#1b6e5c"/>
<path d="M104.3,579.6 L109.0,582.0 L104.3,584.4 Z" fill="#1b6e5c"/>
<path d="M109.2,579.8 L113.9,582.2 L109.2,584.6 Z" fill="#1b6e5c"/>
<path d="M114.0,580.1 L118.7,582.5 L114.0,584.9 Z" fill="#1b6e5c"/>
<path d="M118.9,580.4 L123.6,582.8 L118.9,585.2 Z" fill="#1b6e5c"/>
<path d="M123.8,580.6 L128.5,583.0 L123.8,585.4 Z" fill="#1b6e5c"/>
<path d="M128.7,580.9 L133.4,583.3 L128.7,585.7 Z" fill="#1b6e5c"/>
<path d="M133.6,581.2 L138.2,583.6 L133.6,586.0 Z" fill="#1b6e5c"/>
<path d="M138.4,581.5 L143.1,583.9 L138.4,586.3 Z" fill="#1b6e5c"/>
<path d="M143.3,581.8 L148.0,584.2 L143.3,586.6 Z" fill="#1b6e5c"/>
<path d="M148.2,582.2 L152.9,584.6 L148.2,587.0 Z" fill="#1b6e5c"/>
<path d="M153.1,582.5 L157.8,584.9 L153.1,587.3 Z" fill="#1b6e5c"/>
<path d="M157.9,582.8 L162.6,585.2 L157.9,587.6 Z" fill="#1b6e5c"/>
<path d="M162.8,582.7 L167.5,585.1 L162.8,587.5 Z" fill="#1b6e5c"/>
<path d="M167.7,582.6 L172.4,585.0 L167.7,587.4 Z" fill="#1b6e5c"/>
<path d="M172.6,582.4 L177.3,584.8 L172.6,587.2 Z" fill="#1b6e5c"/>
<path d="M177.5,582.3 L182.2,584.7 L177.5,587.1 Z" fill="#1b6e5c"/>
<path d="M182.3,582.2 L187.0,584.6 L182.3,587.0 Z" fill="#1b6e5c"/>
<path d="M187.2,582.0 L191.9,584.4 L187.2,586.8 Z" fill="#1b6e5c"/>
<path d="M192.1,581.8 L196.8,584.2 L192.1,586.6 Z" fill="#1b6e5c"/>
<path d="M197.0,581.6 L201.7,584.0 L197.0,586.4 Z" fill="#1b6e5c"/>
<path d="M201.9,581.4 L206.6,583.8 L201.9,586.2 Z" fill="#1b6e5c"/>
<path d="M206.8,581.2 L211.4,583.6 L206.8,586.0 Z" fill="#1b6e5c"/>
<path d="M211.6,581.0 L216.3,583.4 L211.6,585.8 Z" fill="#1b6e5c"/>
<path d="M216.5,608.1 L221.2,610.5 L216.5,612.9 Z" fill="#1b6e5c"/>
<path d="M221.4,595.9 L226.1,598.3 L221.4,600.7 Z" fill="#1b6e5c"/>
<path d="M226.3,580.1 L231.0,582.5 L226.3,584.9 Z" fill="#1b6e5c"/>
<path d="M231.2,580.1 L235.8,582.5 L231.2,584.9 Z" fill="#1b6e5c"/>
<path d="M236.0,581.6 L240.7,584.0 L236.0,586.4 Z" fill="#1b6e5c"/>
<path d="M240.9,584.1 L245.6,586.5 L240.9,588.9 Z" fill="#1b6e5c"/>
<path d="M245.8,587.1 L250.5,589.5 L245.8,591.9 Z" fill="#1b6e5c"/>
<path d="M250.7,585.1 L255.4,587.5 L250.7,589.9 Z" fill="#1b6e5c"/>
<path d="M255.5,584.1 L260.2,586.5 L255.5,588.9 Z" fill="#1b6e5c"/>
<path d="M260.4,584.1 L265.1,586.5 L260.4,588.9 Z" fill="#1b6e5c"/>
<path d="M91.6,669.2 C92.4,669.2 94.9,669.2 96.5,669.2 C98.1,669.2 99.8,669.2 101.4,669.2 C103.0,669.3 104.6,669.3 106.3,669.3 C107.9,669.3 109.5,669.3 111.2,669.3 C112.8,669.3 114.4,669.3 116.0,669.3 C117.7,669.3 119.3,669.3 120.9,669.4 C122.5,669.4 124.2,669.4 125.8,669.4 C127.4,669.4 129.0,669.3 130.7,669.4 C132.3,669.5 133.9,669.6 135.6,670.0 C137.2,670.4 138.8,671.2 140.4,672.0 C142.1,672.8 143.7,674.0 145.3,675.0 C146.9,676.0 148.6,677.1 150.2,678.0 C151.8,678.9 153.4,679.9 155.1,680.5 C156.7,681.1 158.3,681.3 159.9,681.5 C161.6,681.7 163.2,681.6 164.8,681.5 C166.5,681.4 168.1,681.2 169.7,681.0 C171.3,680.8 173.0,680.7 174.6,680.5 C176.2,680.3 177.8,680.2 179.5,680.0 C181.1,679.8 182.7,679.7 184.3,679.5 C186.0,679.3 187.6,679.2 189.2,679.0 C190.9,678.8 192.5,678.6 194.1,678.5 C195.7,678.4 197.4,678.1 199.0,678.5 C200.6,678.9 202.2,680.2 203.9,680.7 C205.5,681.2 207.1,681.2 208.8,681.2 C210.4,681.2 212.0,681.1 213.6,681.0 C215.3,680.9 216.9,680.8 218.5,680.7 C220.1,680.6 221.8,680.5 223.4,680.5 C225.0,680.5 226.6,680.4 228.3,680.5 C229.9,680.6 231.5,680.8 233.2,681.0 C234.8,681.2 236.4,681.6 238.0,681.8 C239.7,682.0 241.3,681.9 242.9,682.0 C244.5,682.1 246.2,682.2 247.8,682.4 C249.4,682.5 251.0,682.9 252.7,682.9 C254.3,682.9 255.9,682.5 257.5,682.1 C259.2,681.7 260.8,681.2 262.4,680.5 C264.1,679.8 265.7,678.9 267.3,677.9 C268.9,676.9 271.4,675.3 272.2,674.8" fill="none" stroke="#ffb4b8" stroke-width="1.35" stroke-linejoin="round"/>
<rect x="89.7" y="667.2" width="3.9" height="3.9" fill="#ffb4b8"/>
<rect x="94.6" y="667.3" width="3.9" height="3.9" fill="#ffb4b8"/>
<rect x="99.4" y="667.3" width="3.9" height="3.9" fill="#ffb4b8"/>
<rect x="104.3" y="667.3" width="3.9" height="3.9" fill="#ffb4b8"/>
<rect x="109.2" y="667.3" width="3.9" height="3.9" fill="#ffb4b8"/>
<rect x="114.1" y="667.4" width="3.9" height="3.9" fill="#ffb4b8"/>
<rect x="119.0" y="667.4" width="3.9" height="3.9" fill="#ffb4b8"/>
<rect x="123.8" y="667.4" width="3.9" height="3.9" fill="#ffb4b8"/>
<rect x="128.7" y="667.4" width="3.9" height="3.9" fill="#ffb4b8"/>
<rect x="133.6" y="668.0" width="3.9" height="3.9" fill="#ffb4b8"/>
<rect x="138.5" y="670.0" width="3.9" height="3.9" fill="#ffb4b8"/>
<rect x="143.4" y="673.0" width="3.9" height="3.9" fill="#ffb4b8"/>
<rect x="148.2" y="676.0" width="3.9" height="3.9" fill="#ffb4b8"/>
<rect x="153.1" y="678.5" width="3.9" height="3.9" fill="#ffb4b8"/>
<rect x="158.0" y="679.5" width="3.9" height="3.9" fill="#ffb4b8"/>
<rect x="162.9" y="679.5" width="3.9" height="3.9" fill="#ffb4b8"/>
<rect x="167.8" y="679.0" width="3.9" height="3.9" fill="#ffb4b8"/>
<rect x="172.6" y="678.5" width="3.9" height="3.9" fill="#ffb4b8"/>
<rect x="177.5" y="678.0" width="3.9" height="3.9" fill="#ffb4b8"/>
<rect x="182.4" y="677.5" width="3.9" height="3.9" fill="#ffb4b8"/>
<rect x="187.3" y="677.0" width="3.9" height="3.9" fill="#ffb4b8"/>
<rect x="192.2" y="676.5" width="3.9" height="3.9" fill="#ffb4b8"/>
<rect x="197.0" y="676.5" width="3.9" height="3.9" fill="#ffb4b8"/>
<rect x="201.9" y="678.8" width="3.9" height="3.9" fill="#ffb4b8"/>
<rect x="206.8" y="679.2" width="3.9" height="3.9" fill="#ffb4b8"/>
<rect x="211.7" y="679.0" width="3.9" height="3.9" fill="#ffb4b8"/>
<rect x="216.6" y="678.8" width="3.9" height="3.9" fill="#ffb4b8"/>
<rect x="221.4" y="678.5" width="3.9" height="3.9" fill="#ffb4b8"/>
<rect x="226.3" y="678.5" width="3.9" height="3.9" fill="#ffb4b8"/>
<rect x="231.2" y="679.0" width="3.9" height="3.9" fill="#ffb4b8"/>
<rect x="236.1" y="679.8" width="3.9" height="3.9" fill="#ffb4b8"/>
<rect x="241.0" y="680.0" width="3.9" height="3.9" fill="#ffb4b8"/>
<rect x="245.8" y="680.4" width="3.9" height="3.9" fill="#ffb4b8"/>
<rect x="250.7" y="680.9" width="3.9" height="3.9" fill="#ffb4b8"/>
<rect x="255.6" y="680.1" width="3.9" height="3.9" fill="#ffb4b8"/>
<rect x="260.5" y="678.5" width="3.9" height="3.9" fill="#ffb4b8"/>
<rect x="265.4" y="675.9" width="3.9" height="3.9" fill="#ffb4b8"/>
<rect x="270.2" y="672.8" width="3.9" height="3.9" fill="#ffb4b8"/>
<path d="M91.6,666.0 C92.4,666.0 94.9,666.0 96.5,666.0 C98.1,666.0 99.8,666.0 101.4,666.0 C103.0,666.0 104.6,666.0 106.3,666.0 C107.9,666.0 109.5,666.0 111.2,666.0 C112.8,666.0 114.4,666.0 116.0,666.0 C117.7,666.0 119.3,666.0 120.9,666.0 C122.5,666.0 124.2,666.0 125.8,666.0 C127.4,666.0 129.0,666.0 130.7,666.0 C132.3,666.0 133.9,665.9 135.6,666.0 C137.2,666.1 138.8,666.3 140.4,666.5 C142.1,666.7 143.7,666.8 145.3,667.0 C146.9,667.2 148.6,667.5 150.2,667.8 C151.8,668.0 153.4,668.4 155.1,668.5 C156.7,668.6 158.3,668.7 159.9,668.5 C161.6,668.3 163.2,668.2 164.8,667.5 C166.5,666.8 168.1,664.8 169.7,664.0 C171.3,663.2 173.0,662.6 174.6,662.5 C176.2,662.4 177.8,663.1 179.5,663.5 C181.1,663.9 182.7,664.5 184.3,665.0 C186.0,665.5 187.6,666.3 189.2,666.5 C190.9,666.7 192.5,666.4 194.1,666.4 C195.7,666.3 197.4,665.9 199.0,666.2 C200.6,666.5 202.2,668.0 203.9,668.4 C205.5,668.8 207.1,668.7 208.8,668.7 C210.4,668.8 212.0,668.8 213.6,668.7 C215.3,668.7 216.9,668.8 218.5,668.4 C220.1,668.0 221.8,666.6 223.4,666.2 C225.0,665.8 226.6,666.2 228.3,666.2 C229.9,666.2 231.5,666.4 233.2,666.5 C234.8,666.6 236.4,667.0 238.0,666.8 C239.7,666.6 241.3,665.2 242.9,665.4 C244.5,665.5 246.2,667.3 247.8,667.7 C249.4,668.1 251.0,667.7 252.7,667.7 C254.3,667.7 256.7,667.7 257.5,667.7" fill="none" stroke="#ff8a97" stroke-width="1.35" stroke-linejoin="round"/>
<rect x="89.7" y="664.0" width="3.9" height="3.9" fill="#ff8a97"/>
<rect x="94.6" y="664.0" width="3.9" height="3.9" fill="#ff8a97"/>
<rect x="99.4" y="664.0" width="3.9" height="3.9" fill="#ff8a97"/>
<rect x="104.3" y="664.0" width="3.9" height="3.9" fill="#ff8a97"/>
<rect x="109.2" y="664.0" width="3.9" height="3.9" fill="#ff8a97"/>
<rect x="114.1" y="664.0" width="3.9" height="3.9" fill="#ff8a97"/>
<rect x="119.0" y="664.0" width="3.9" height="3.9" fill="#ff8a97"/>
<rect x="123.8" y="664.0" width="3.9" height="3.9" fill="#ff8a97"/>
<rect x="128.7" y="664.0" width="3.9" height="3.9" fill="#ff8a97"/>
<rect x="133.6" y="664.0" width="3.9" height="3.9" fill="#ff8a97"/>
<rect x="138.5" y="664.5" width="3.9" height="3.9" fill="#ff8a97"/>
<rect x="143.4" y="665.0" width="3.9" height="3.9" fill="#ff8a97"/>
<rect x="148.2" y="665.8" width="3.9" height="3.9" fill="#ff8a97"/>
<rect x="153.1" y="666.5" width="3.9" height="3.9" fill="#ff8a97"/>
<rect x="158.0" y="666.5" width="3.9" height="3.9" fill="#ff8a97"/>
<rect x="162.9" y="665.5" width="3.9" height="3.9" fill="#ff8a97"/>
<rect x="167.8" y="662.0" width="3.9" height="3.9" fill="#ff8a97"/>
<rect x="172.6" y="660.5" width="3.9" height="3.9" fill="#ff8a97"/>
<rect x="177.5" y="661.5" width="3.9" height="3.9" fill="#ff8a97"/>
<rect x="182.4" y="663.0" width="3.9" height="3.9" fill="#ff8a97"/>
<rect x="187.3" y="664.5" width="3.9" height="3.9" fill="#ff8a97"/>
<rect x="192.2" y="664.4" width="3.9" height="3.9" fill="#ff8a97"/>
<rect x="197.0" y="664.2" width="3.9" height="3.9" fill="#ff8a97"/>
<rect x="201.9" y="666.4" width="3.9" height="3.9" fill="#ff8a97"/>
<rect x="206.8" y="666.8" width="3.9" height="3.9" fill="#ff8a97"/>
<rect x="211.7" y="666.8" width="3.9" height="3.9" fill="#ff8a97"/>
<rect x="216.6" y="666.4" width="3.9" height="3.9" fill="#ff8a97"/>
<rect x="221.4" y="664.2" width="3.9" height="3.9" fill="#ff8a97"/>
<rect x="226.3" y="664.2" width="3.9" height="3.9" fill="#ff8a97"/>
<rect x="231.2" y="664.5" width="3.9" height="3.9" fill="#ff8a97"/>
<rect x="236.1" y="664.8" width="3.9" height="3.9" fill="#ff8a97"/>
<rect x="241.0" y="663.4" width="3.9" height="3.9" fill="#ff8a97"/>
<rect x="245.8" y="665.8" width="3.9" height="3.9" fill="#ff8a97"/>
<rect x="250.7" y="665.8" width="3.9" height="3.9" fill="#ff8a97"/>
<rect x="255.6" y="665.8" width="3.9" height="3.9" fill="#ff8a97"/>
<path d="M91.6,661.0 C92.4,661.0 94.9,661.0 96.5,661.0 C98.1,661.0 99.8,661.0 101.4,661.0 C103.0,661.0 104.6,661.0 106.3,661.0 C107.9,661.0 109.5,661.1 111.2,661.0 C112.8,660.9 114.4,660.7 116.0,660.5 C117.7,660.3 119.3,660.2 120.9,660.0 C122.5,659.8 124.2,659.6 125.8,659.5 C127.4,659.4 129.0,659.4 130.7,659.5 C132.3,659.6 133.9,659.7 135.6,660.0 C137.2,660.3 138.8,660.7 140.4,661.5 C142.1,662.3 143.7,663.7 145.3,665.0 C146.9,666.3 148.6,668.2 150.2,669.5 C151.8,670.8 153.4,672.0 155.1,673.0 C156.7,674.0 158.3,674.8 159.9,675.5 C161.6,676.2 163.2,676.9 164.8,677.0 C166.5,677.1 168.1,676.3 169.7,676.0 C171.3,675.7 173.0,675.3 174.6,675.0 C176.2,674.7 177.8,674.2 179.5,674.0 C181.1,673.8 182.7,673.8 184.3,673.5 C186.0,673.2 187.6,672.7 189.2,672.5 C190.9,672.3 192.5,672.6 194.1,672.5 C195.7,672.4 197.4,671.8 199.0,672.1 C200.6,672.4 202.2,673.8 203.9,674.2 C205.5,674.7 207.1,674.7 208.8,674.8 C210.4,674.9 212.0,674.9 213.6,674.8 C215.3,674.7 216.9,674.3 218.5,674.2 C220.1,674.1 221.8,674.0 223.4,674.0 C225.0,674.0 226.6,674.1 228.3,674.2 C229.9,674.3 231.5,674.6 233.2,674.8 C234.8,675.0 236.4,675.2 238.0,675.3 C239.7,675.4 241.3,675.0 242.9,675.3 C244.5,675.5 246.2,676.5 247.8,676.8 C249.4,677.0 251.0,677.0 252.7,676.8 C254.3,676.5 255.9,675.8 257.5,675.3 C259.2,674.8 260.8,674.6 262.4,674.0 C264.1,673.4 265.7,672.7 267.3,671.8 C268.9,670.9 271.4,669.3 272.2,668.8" fill="none" stroke="#b0001e" stroke-width="1.35" stroke-linejoin="round"/>
<rect x="89.7" y="659.0" width="3.9" height="3.9" fill="#b0001e"/>
<rect x="94.6" y="659.0" width="3.9" height="3.9" fill="#b0001e"/>
<rect x="99.4" y="659.0" width="3.9" height="3.9" fill="#b0001e"/>
<rect x="104.3" y="659.0" width="3.9" height="3.9" fill="#b0001e"/>
<rect x="109.2" y="659.0" width="3.9" height="3.9" fill="#b0001e"/>
<rect x="114.1" y="658.5" width="3.9" height="3.9" fill="#b0001e"/>
<rect x="119.0" y="658.0" width="3.9" height="3.9" fill="#b0001e"/>
<rect x="123.8" y="657.5" width="3.9" height="3.9" fill="#b0001e"/>
<rect x="128.7" y="657.5" width="3.9" height="3.9" fill="#b0001e"/>
<rect x="133.6" y="658.0" width="3.9" height="3.9" fill="#b0001e"/>
<rect x="138.5" y="659.5" width="3.9" height="3.9" fill="#b0001e"/>
<rect x="143.4" y="663.0" width="3.9" height="3.9" fill="#b0001e"/>
<rect x="148.2" y="667.5" width="3.9" height="3.9" fill="#b0001e"/>
<rect x="153.1" y="671.0" width="3.9" height="3.9" fill="#b0001e"/>
<rect x="158.0" y="673.5" width="3.9" height="3.9" fill="#b0001e"/>
<rect x="162.9" y="675.0" width="3.9" height="3.9" fill="#b0001e"/>
<rect x="167.8" y="674.0" width="3.9" height="3.9" fill="#b0001e"/>
<rect x="172.6" y="673.0" width="3.9" height="3.9" fill="#b0001e"/>
<rect x="177.5" y="672.0" width="3.9" height="3.9" fill="#b0001e"/>
<rect x="182.4" y="671.5" width="3.9" height="3.9" fill="#b0001e"/>
<rect x="187.3" y="670.5" width="3.9" height="3.9" fill="#b0001e"/>
<rect x="192.2" y="670.5" width="3.9" height="3.9" fill="#b0001e"/>
<rect x="197.0" y="670.1" width="3.9" height="3.9" fill="#b0001e"/>
<rect x="201.9" y="672.2" width="3.9" height="3.9" fill="#b0001e"/>
<rect x="206.8" y="672.8" width="3.9" height="3.9" fill="#b0001e"/>
<rect x="211.7" y="672.8" width="3.9" height="3.9" fill="#b0001e"/>
<rect x="216.6" y="672.2" width="3.9" height="3.9" fill="#b0001e"/>
<rect x="221.4" y="672.0" width="3.9" height="3.9" fill="#b0001e"/>
<rect x="226.3" y="672.2" width="3.9" height="3.9" fill="#b0001e"/>
<rect x="231.2" y="672.8" width="3.9" height="3.9" fill="#b0001e"/>
<rect x="236.1" y="673.3" width="3.9" height="3.9" fill="#b0001e"/>
<rect x="241.0" y="673.3" width="3.9" height="3.9" fill="#b0001e"/>
<rect x="245.8" y="674.8" width="3.9" height="3.9" fill="#b0001e"/>
<rect x="250.7" y="674.8" width="3.9" height="3.9" fill="#b0001e"/>
<rect x="255.6" y="673.3" width="3.9" height="3.9" fill="#b0001e"/>
<rect x="260.5" y="672.0" width="3.9" height="3.9" fill="#b0001e"/>
<rect x="265.4" y="669.8" width="3.9" height="3.9" fill="#b0001e"/>
<rect x="270.2" y="666.8" width="3.9" height="3.9" fill="#b0001e"/>
<path d="M91.6,688.0 C92.4,688.0 94.9,688.1 96.5,688.0 C98.1,687.9 99.8,687.8 101.4,687.5 C103.0,687.2 104.6,686.2 106.3,686.0 C107.9,685.8 109.5,686.2 111.2,686.5 C112.8,686.8 114.4,687.6 116.0,688.0 C117.7,688.4 119.3,688.8 120.9,689.0 C122.5,689.2 124.2,689.3 125.8,689.5 C127.4,689.7 129.0,690.0 130.7,690.0 C132.3,690.0 133.9,689.7 135.6,689.5 C137.2,689.3 138.8,689.2 140.4,689.0 C142.1,688.8 143.7,688.6 145.3,688.5 C146.9,688.4 148.6,688.5 150.2,688.5 C151.8,688.5 153.4,688.8 155.1,688.5 C156.7,688.2 158.3,687.6 159.9,687.0 C161.6,686.4 163.2,685.6 164.8,685.0 C166.5,684.4 168.1,683.8 169.7,683.5 C171.3,683.2 173.0,682.8 174.6,683.0 C176.2,683.2 177.8,685.1 179.5,685.0 C181.1,684.9 182.7,682.3 184.3,682.5 C186.0,682.7 187.6,685.2 189.2,686.0 C190.9,686.8 192.5,687.4 194.1,687.5 C195.7,687.6 197.4,686.8 199.0,686.8 C200.6,686.8 202.2,687.4 203.9,687.8 C205.5,688.2 207.1,688.6 208.8,689.0 C210.4,689.4 212.0,690.1 213.6,690.2 C215.3,690.4 216.9,690.0 218.5,689.9 C220.1,689.8 221.8,690.5 223.4,689.3 C225.0,688.1 226.6,683.9 228.3,682.9 C229.9,681.9 231.5,684.7 233.2,683.5 C234.8,682.3 236.4,676.0 238.0,675.7 C239.7,675.4 241.3,680.6 242.9,681.8 C244.5,683.0 246.2,682.6 247.8,682.9 C249.4,683.2 251.9,683.6 252.7,683.8" fill="none" stroke="#1b6e5c" stroke-width="1.35" stroke-linejoin="round"/>
<path d="M89.6,685.6 L94.3,688.0 L89.6,690.4 Z" fill="#1b6e5c"/>
<path d="M94.5,685.6 L99.2,688.0 L94.5,690.4 Z" fill="#1b6e5c"/>
<path d="M99.4,685.1 L104.1,687.5 L99.4,689.9 Z" fill="#1b6e5c"/>
<path d="M104.3,683.6 L109.0,686.0 L104.3,688.4 Z" fill="#1b6e5c"/>
<path d="M109.2,684.1 L113.9,686.5 L109.2,688.9 Z" fill="#1b6e5c"/>
<path d="M114.0,685.6 L118.7,688.0 L114.0,690.4 Z" fill="#1b6e5c"/>
<path d="M118.9,686.6 L123.6,689.0 L118.9,691.4 Z" fill="#1b6e5c"/>
<path d="M123.8,687.1 L128.5,689.5 L123.8,691.9 Z" fill="#1b6e5c"/>
<path d="M128.7,687.6 L133.4,690.0 L128.7,692.4 Z" fill="#1b6e5c"/>
<path d="M133.6,687.1 L138.2,689.5 L133.6,691.9 Z" fill="#1b6e5c"/>
<path d="M138.4,686.6 L143.1,689.0 L138.4,691.4 Z" fill="#1b6e5c"/>
<path d="M143.3,686.1 L148.0,688.5 L143.3,690.9 Z" fill="#1b6e5c"/>
<path d="M148.2,686.1 L152.9,688.5 L148.2,690.9 Z" fill="#1b6e5c"/>
<path d="M153.1,686.1 L157.8,688.5 L153.1,690.9 Z" fill="#1b6e5c"/>
<path d="M157.9,684.6 L162.6,687.0 L157.9,689.4 Z" fill="#1b6e5c"/>
<path d="M162.8,682.6 L167.5,685.0 L162.8,687.4 Z" fill="#1b6e5c"/>
<path d="M167.7,681.1 L172.4,683.5 L167.7,685.9 Z" fill="#1b6e5c"/>
<path d="M172.6,680.6 L177.3,683.0 L172.6,685.4 Z" fill="#1b6e5c"/>
<path d="M177.5,682.6 L182.2,685.0 L177.5,687.4 Z" fill="#1b6e5c"/>
<path d="M182.3,680.1 L187.0,682.5 L182.3,684.9 Z" fill="#1b6e5c"/>
<path d="M187.2,683.6 L191.9,686.0 L187.2,688.4 Z" fill="#1b6e5c"/>
<path d="M192.1,685.1 L196.8,687.5 L192.1,689.9 Z" fill="#1b6e5c"/>
<path d="M197.0,684.4 L201.7,686.8 L197.0,689.2 Z" fill="#1b6e5c"/>
<path d="M201.9,685.4 L206.6,687.8 L201.9,690.2 Z" fill="#1b6e5c"/>
<path d="M206.8,686.6 L211.4,689.0 L206.8,691.4 Z" fill="#1b6e5c"/>
<path d="M211.6,687.8 L216.3,690.2 L211.6,692.6 Z" fill="#1b6e5c"/>
<path d="M216.5,687.5 L221.2,689.9 L216.5,692.3 Z" fill="#1b6e5c"/>
<path d="M221.4,686.9 L226.1,689.3 L221.4,691.7 Z" fill="#1b6e5c"/>
<path d="M226.3,680.5 L231.0,682.9 L226.3,685.3 Z" fill="#1b6e5c"/>
<path d="M231.2,681.1 L235.8,683.5 L231.2,685.9 Z" fill="#1b6e5c"/>
<path d="M236.0,673.3 L240.7,675.7 L236.0,678.1 Z" fill="#1b6e5c"/>
<path d="M240.9,679.4 L245.6,681.8 L240.9,684.2 Z" fill="#1b6e5c"/>
<path d="M245.8,680.5 L250.5,682.9 L245.8,685.3 Z" fill="#1b6e5c"/>
<path d="M250.7,681.4 L255.4,683.8 L250.7,686.2 Z" fill="#1b6e5c"/>
<path d="M91.6,689.5 C92.4,689.5 94.9,689.6 96.5,689.5 C98.1,689.4 99.8,689.2 101.4,689.0 C103.0,688.8 104.6,688.0 106.3,688.0 C107.9,688.0 109.5,688.7 111.2,689.0 C112.8,689.3 114.4,689.7 116.0,690.0 C117.7,690.3 119.3,690.8 120.9,691.0 C122.5,691.2 124.2,691.3 125.8,691.5 C127.4,691.7 129.0,691.9 130.7,692.0 C132.3,692.1 133.9,692.4 135.6,692.0 C137.2,691.6 138.8,690.0 140.4,689.5 C142.1,689.0 143.7,689.2 145.3,689.0 C146.9,688.8 148.6,688.6 150.2,688.5 C151.8,688.4 153.4,688.3 155.1,688.2 C156.7,688.2 158.3,686.2 159.9,688.0 C161.6,689.8 163.2,698.0 164.8,698.8 C166.5,699.5 168.1,694.2 169.7,692.5 C171.3,690.8 173.0,688.0 174.6,688.5 C176.2,689.0 177.8,695.2 179.5,695.5 C181.1,695.8 182.7,691.8 184.3,690.5 C186.0,689.2 187.6,688.6 189.2,688.0 C190.9,687.4 192.5,686.8 194.1,687.0 C195.7,687.2 197.4,688.9 199.0,689.0 C200.6,689.1 202.2,688.1 203.9,687.9 C205.5,687.7 207.1,687.6 208.8,687.7 C210.4,687.8 212.0,688.6 213.6,688.3 C215.3,688.0 216.9,686.1 218.5,685.7 C220.1,685.3 221.8,685.7 223.4,685.7 C225.0,685.7 226.6,685.6 228.3,685.7 C229.9,685.8 231.5,686.4 233.2,686.5 C234.8,686.6 236.4,686.7 238.0,686.5 C239.7,686.3 241.3,685.3 242.9,685.1 C244.5,684.9 246.2,684.8 247.8,685.1 C249.4,685.4 251.0,686.8 252.7,687.1 C254.3,687.4 256.7,687.1 257.5,687.1" fill="none" stroke="#80000f" stroke-width="1.35" stroke-linejoin="round"/>
<rect x="89.7" y="687.5" width="3.9" height="3.9" fill="#80000f"/>
<rect x="94.6" y="687.5" width="3.9" height="3.9" fill="#80000f"/>
<rect x="99.4" y="687.0" width="3.9" height="3.9" fill="#80000f"/>
<rect x="104.3" y="686.0" width="3.9" height="3.9" fill="#80000f"/>
<rect x="109.2" y="687.0" width="3.9" height="3.9" fill="#80000f"/>
<rect x="114.1" y="688.0" width="3.9" height="3.9" fill="#80000f"/>
<rect x="119.0" y="689.0" width="3.9" height="3.9" fill="#80000f"/>
<rect x="123.8" y="689.5" width="3.9" height="3.9" fill="#80000f"/>
<rect x="128.7" y="690.0" width="3.9" height="3.9" fill="#80000f"/>
<rect x="133.6" y="690.0" width="3.9" height="3.9" fill="#80000f"/>
<rect x="138.5" y="687.5" width="3.9" height="3.9" fill="#80000f"/>
<rect x="143.4" y="687.0" width="3.9" height="3.9" fill="#80000f"/>
<rect x="148.2" y="686.5" width="3.9" height="3.9" fill="#80000f"/>
<rect x="153.1" y="686.3" width="3.9" height="3.9" fill="#80000f"/>
<rect x="158.0" y="686.0" width="3.9" height="3.9" fill="#80000f"/>
<rect x="162.9" y="696.8" width="3.9" height="3.9" fill="#80000f"/>
<rect x="167.8" y="690.5" width="3.9" height="3.9" fill="#80000f"/>
<rect x="172.6" y="686.5" width="3.9" height="3.9" fill="#80000f"/>
<rect x="177.5" y="693.5" width="3.9" height="3.9" fill="#80000f"/>
<rect x="182.4" y="688.5" width="3.9" height="3.9" fill="#80000f"/>
<rect x="187.3" y="686.0" width="3.9" height="3.9" fill="#80000f"/>
<rect x="192.2" y="685.0" width="3.9" height="3.9" fill="#80000f"/>
<rect x="197.0" y="687.0" width="3.9" height="3.9" fill="#80000f"/>
<rect x="201.9" y="685.9" width="3.9" height="3.9" fill="#80000f"/>
<rect x="206.8" y="685.8" width="3.9" height="3.9" fill="#80000f"/>
<rect x="211.7" y="686.3" width="3.9" height="3.9" fill="#80000f"/>
<rect x="216.6" y="683.8" width="3.9" height="3.9" fill="#80000f"/>
<rect x="221.4" y="683.8" width="3.9" height="3.9" fill="#80000f"/>
<rect x="226.3" y="683.8" width="3.9" height="3.9" fill="#80000f"/>
<rect x="231.2" y="684.5" width="3.9" height="3.9" fill="#80000f"/>
<rect x="236.1" y="684.5" width="3.9" height="3.9" fill="#80000f"/>
<rect x="241.0" y="683.1" width="3.9" height="3.9" fill="#80000f"/>
<rect x="245.8" y="683.1" width="3.9" height="3.9" fill="#80000f"/>
<rect x="250.7" y="685.1" width="3.9" height="3.9" fill="#80000f"/>
<rect x="255.6" y="685.1" width="3.9" height="3.9" fill="#80000f"/>
<path d="M91.6,645.5 C92.4,645.5 94.9,645.4 96.5,645.3 C98.1,645.3 99.8,645.2 101.4,645.2 C103.0,645.1 104.6,645.0 106.3,645.0 C107.9,645.0 109.5,645.2 111.2,645.4 C112.8,645.5 114.4,645.6 116.0,645.8 C117.7,645.9 119.3,646.0 120.9,646.1 C122.5,646.2 124.2,646.4 125.8,646.5 C127.4,646.6 129.0,646.5 130.7,646.5 C132.3,646.5 133.9,646.5 135.6,646.5 C137.2,646.5 138.8,646.5 140.4,646.5 C142.1,646.5 143.7,646.5 145.3,646.5 C146.9,646.5 148.6,646.4 150.2,646.3 C151.8,646.3 153.4,646.2 155.1,646.2 C156.7,646.1 158.3,646.2 159.9,646.0 C161.6,645.8 163.2,646.0 164.8,645.0 C166.5,644.0 168.1,641.2 169.7,640.0 C171.3,638.8 173.0,637.9 174.6,638.0 C176.2,638.1 177.8,640.3 179.5,640.5 C181.1,640.7 182.7,638.2 184.3,639.0 C186.0,639.8 187.6,643.7 189.2,645.0 C190.9,646.3 192.5,646.7 194.1,647.0 C195.7,647.3 197.4,647.2 199.0,646.7 C200.6,646.2 202.2,644.4 203.9,644.3 C205.5,644.2 207.1,645.6 208.8,646.2 C210.4,646.8 212.0,647.5 213.6,647.8 C215.3,648.1 216.9,648.0 218.5,647.8 C220.1,647.6 221.8,647.9 223.4,646.7 C225.0,645.5 226.6,641.5 228.3,640.4 C229.9,639.2 231.5,641.0 233.2,639.8 C234.8,638.6 236.4,633.4 238.0,633.4 C239.7,633.4 241.3,638.6 242.9,639.8 C244.5,641.0 246.2,642.8 247.8,640.6 C249.4,638.4 251.9,629.0 252.7,626.7" fill="none" stroke="#5fe2ca" stroke-width="1.35" stroke-linejoin="round"/>
<path d="M89.6,643.1 L94.3,645.5 L89.6,647.9 Z" fill="#5fe2ca"/>
<path d="M94.5,642.9 L99.2,645.3 L94.5,647.7 Z" fill="#5fe2ca"/>
<path d="M99.4,642.8 L104.1,645.2 L99.4,647.6 Z" fill="#5fe2ca"/>
<path d="M104.3,642.6 L109.0,645.0 L104.3,647.4 Z" fill="#5fe2ca"/>
<path d="M109.2,643.0 L113.9,645.4 L109.2,647.8 Z" fill="#5fe2ca"/>
<path d="M114.0,643.4 L118.7,645.8 L114.0,648.1 Z" fill="#5fe2ca"/>
<path d="M118.9,643.7 L123.6,646.1 L118.9,648.5 Z" fill="#5fe2ca"/>
<path d="M123.8,644.1 L128.5,646.5 L123.8,648.9 Z" fill="#5fe2ca"/>
<path d="M128.7,644.1 L133.4,646.5 L128.7,648.9 Z" fill="#5fe2ca"/>
<path d="M133.6,644.1 L138.2,646.5 L133.6,648.9 Z" fill="#5fe2ca"/>
<path d="M138.4,644.1 L143.1,646.5 L138.4,648.9 Z" fill="#5fe2ca"/>
<path d="M143.3,644.1 L148.0,646.5 L143.3,648.9 Z" fill="#5fe2ca"/>
<path d="M148.2,643.9 L152.9,646.3 L148.2,648.7 Z" fill="#5fe2ca"/>
<path d="M153.1,643.8 L157.8,646.2 L153.1,648.6 Z" fill="#5fe2ca"/>
<path d="M157.9,643.6 L162.6,646.0 L157.9,648.4 Z" fill="#5fe2ca"/>
<path d="M162.8,642.6 L167.5,645.0 L162.8,647.4 Z" fill="#5fe2ca"/>
<path d="M167.7,637.6 L172.4,640.0 L167.7,642.4 Z" fill="#5fe2ca"/>
<path d="M172.6,635.6 L177.3,638.0 L172.6,640.4 Z" fill="#5fe2ca"/>
<path d="M177.5,638.1 L182.2,640.5 L177.5,642.9 Z" fill="#5fe2ca"/>
<path d="M182.3,636.6 L187.0,639.0 L182.3,641.4 Z" fill="#5fe2ca"/>
<path d="M187.2,642.6 L191.9,645.0 L187.2,647.4 Z" fill="#5fe2ca"/>
<path d="M192.1,644.6 L196.8,647.0 L192.1,649.4 Z" fill="#5fe2ca"/>
<path d="M197.0,644.3 L201.7,646.7 L197.0,649.1 Z" fill="#5fe2ca"/>
<path d="M201.9,641.9 L206.6,644.3 L201.9,646.7 Z" fill="#5fe2ca"/>
<path d="M206.8,643.8 L211.4,646.2 L206.8,648.6 Z" fill="#5fe2ca"/>
<path d="M211.6,645.4 L216.3,647.8 L211.6,650.2 Z" fill="#5fe2ca"/>
<path d="M216.5,645.4 L221.2,647.8 L216.5,650.2 Z" fill="#5fe2ca"/>
<path d="M221.4,644.3 L226.1,646.7 L221.4,649.1 Z" fill="#5fe2ca"/>
<path d="M226.3,638.0 L231.0,640.4 L226.3,642.8 Z" fill="#5fe2ca"/>
<path d="M231.2,637.4 L235.8,639.8 L231.2,642.2 Z" fill="#5fe2ca"/>
<path d="M236.0,631.0 L240.7,633.4 L236.0,635.8 Z" fill="#5fe2ca"/>
<path d="M240.9,637.4 L245.6,639.8 L240.9,642.2 Z" fill="#5fe2ca"/>
<path d="M245.8,638.2 L250.5,640.6 L245.8,643.0 Z" fill="#5fe2ca"/>
<path d="M250.7,624.3 L255.4,626.7 L250.7,629.1 Z" fill="#5fe2ca"/>
<path d="M91.6,646.0 C92.4,646.0 94.9,646.1 96.5,646.0 C98.1,645.9 99.8,645.8 101.4,645.5 C103.0,645.2 104.6,644.5 106.3,644.5 C107.9,644.5 109.5,645.2 111.2,645.5 C112.8,645.8 114.4,645.8 116.0,646.0 C117.7,646.2 119.3,646.8 120.9,647.0 C122.5,647.2 124.2,647.4 125.8,647.5 C127.4,647.6 129.0,647.4 130.7,647.5 C132.3,647.6 133.9,647.8 135.6,648.0 C137.2,648.2 138.8,648.8 140.4,648.5 C142.1,648.2 143.7,646.8 145.3,646.5 C146.9,646.2 148.6,647.1 150.2,647.0 C151.8,646.9 153.4,646.4 155.1,646.0 C156.7,645.6 158.3,645.0 159.9,644.5 C161.6,644.0 163.2,641.2 164.8,643.0 C166.5,644.8 168.1,654.2 169.7,655.0 C171.3,655.8 173.0,649.9 174.6,648.0 C176.2,646.1 177.8,642.6 179.5,643.5 C181.1,644.4 182.7,652.8 184.3,653.5 C186.0,654.2 187.6,648.9 189.2,647.5 C190.9,646.1 192.5,645.6 194.1,645.0 C195.7,644.4 197.4,643.6 199.0,643.6 C200.6,643.6 202.2,644.7 203.9,645.0 C205.5,645.3 207.1,645.2 208.8,645.2 C210.4,645.2 212.0,645.1 213.6,645.0 C215.3,644.9 216.9,644.8 218.5,644.4 C220.1,644.0 221.8,642.5 223.4,642.6 C225.0,642.7 226.6,644.6 228.3,644.7 C229.9,644.8 231.5,643.2 233.2,643.0 C234.8,642.8 236.4,643.5 238.0,643.6 C239.7,643.7 241.3,643.8 242.9,643.6 C244.5,643.4 246.2,642.6 247.8,642.3 C249.4,642.0 251.0,641.6 252.7,641.9 C254.3,642.2 255.9,643.6 257.5,643.9 C259.2,644.2 261.6,643.9 262.4,643.9" fill="none" stroke="#ff2a50" stroke-width="1.35" stroke-linejoin="round"/>
<rect x="89.7" y="644.0" width="3.9" height="3.9" fill="#ff2a50"/>
<rect x="94.6" y="644.0" width="3.9" height="3.9" fill="#ff2a50"/>
<rect x="99.4" y="643.5" width="3.9" height="3.9" fill="#ff2a50"/>
<rect x="104.3" y="642.5" width="3.9" height="3.9" fill="#ff2a50"/>
<rect x="109.2" y="643.5" width="3.9" height="3.9" fill="#ff2a50"/>
<rect x="114.1" y="644.0" width="3.9" height="3.9" fill="#ff2a50"/>
<rect x="119.0" y="645.0" width="3.9" height="3.9" fill="#ff2a50"/>
<rect x="123.8" y="645.5" width="3.9" height="3.9" fill="#ff2a50"/>
<rect x="128.7" y="645.5" width="3.9" height="3.9" fill="#ff2a50"/>
<rect x="133.6" y="646.0" width="3.9" height="3.9" fill="#ff2a50"/>
<rect x="138.5" y="646.5" width="3.9" height="3.9" fill="#ff2a50"/>
<rect x="143.4" y="644.5" width="3.9" height="3.9" fill="#ff2a50"/>
<rect x="148.2" y="645.0" width="3.9" height="3.9" fill="#ff2a50"/>
<rect x="153.1" y="644.0" width="3.9" height="3.9" fill="#ff2a50"/>
<rect x="158.0" y="642.5" width="3.9" height="3.9" fill="#ff2a50"/>
<rect x="162.9" y="641.0" width="3.9" height="3.9" fill="#ff2a50"/>
<rect x="167.8" y="657.0" width="3.9" height="3.9" fill="#ff2a50"/>
<rect x="172.6" y="646.0" width="3.9" height="3.9" fill="#ff2a50"/>
<rect x="177.5" y="641.5" width="3.9" height="3.9" fill="#ff2a50"/>
<rect x="182.4" y="651.5" width="3.9" height="3.9" fill="#ff2a50"/>
<rect x="187.3" y="645.5" width="3.9" height="3.9" fill="#ff2a50"/>
<rect x="192.2" y="643.0" width="3.9" height="3.9" fill="#ff2a50"/>
<rect x="197.0" y="641.6" width="3.9" height="3.9" fill="#ff2a50"/>
<rect x="201.9" y="643.0" width="3.9" height="3.9" fill="#ff2a50"/>
<rect x="206.8" y="643.2" width="3.9" height="3.9" fill="#ff2a50"/>
<rect x="211.7" y="643.0" width="3.9" height="3.9" fill="#ff2a50"/>
<rect x="216.6" y="642.4" width="3.9" height="3.9" fill="#ff2a50"/>
<rect x="221.4" y="640.6" width="3.9" height="3.9" fill="#ff2a50"/>
<rect x="226.3" y="642.8" width="3.9" height="3.9" fill="#ff2a50"/>
<rect x="231.2" y="641.0" width="3.9" height="3.9" fill="#ff2a50"/>
<rect x="236.1" y="641.6" width="3.9" height="3.9" fill="#ff2a50"/>
<rect x="241.0" y="641.6" width="3.9" height="3.9" fill="#ff2a50"/>
<rect x="245.8" y="640.3" width="3.9" height="3.9" fill="#ff2a50"/>
<rect x="250.7" y="639.9" width="3.9" height="3.9" fill="#ff2a50"/>
<rect x="255.6" y="641.9" width="3.9" height="3.9" fill="#ff2a50"/>
<rect x="260.5" y="641.9" width="3.9" height="3.9" fill="#ff2a50"/>
<rect x="72.6" y="526.8" width="221.90" height="178.20" fill="none" stroke="#222" stroke-width="1.2"/>
<rect x="70.60" y="614.60" width="4.00" height="3.40" fill="#fff"/>
<line x1="69.40" y1="617.00" x2="75.80" y2="612.80" stroke="#222" stroke-width="0.8"/>
<line x1="69.40" y1="620.20" x2="75.80" y2="616.00" stroke="#222" stroke-width="0.8"/>
<rect x="292.50" y="614.60" width="4.00" height="3.40" fill="#fff"/>
<line x1="291.30" y1="617.00" x2="297.70" y2="612.80" stroke="#222" stroke-width="0.8"/>
<line x1="291.30" y1="620.20" x2="297.70" y2="616.00" stroke="#222" stroke-width="0.8"/>
<line x1="70.30" y1="611.20" x2="72.60" y2="611.20" stroke="#222" stroke-width="0.9"/>
<line x1="70.30" y1="602.76" x2="72.60" y2="602.76" stroke="#222" stroke-width="0.9"/>
<line x1="68.60" y1="594.32" x2="72.60" y2="594.32" stroke="#222" stroke-width="1.1"/>
<line x1="70.30" y1="585.88" x2="72.60" y2="585.88" stroke="#222" stroke-width="0.9"/>
<line x1="70.30" y1="577.44" x2="72.60" y2="577.44" stroke="#222" stroke-width="0.9"/>
<line x1="70.30" y1="569.00" x2="72.60" y2="569.00" stroke="#222" stroke-width="0.9"/>
<line x1="68.60" y1="560.56" x2="72.60" y2="560.56" stroke="#222" stroke-width="1.1"/>
<line x1="70.30" y1="552.12" x2="72.60" y2="552.12" stroke="#222" stroke-width="0.9"/>
<line x1="70.30" y1="543.68" x2="72.60" y2="543.68" stroke="#222" stroke-width="0.9"/>
<line x1="70.30" y1="535.24" x2="72.60" y2="535.24" stroke="#222" stroke-width="0.9"/>
<line x1="68.60" y1="526.80" x2="72.60" y2="526.80" stroke="#222" stroke-width="1.1"/>
<line x1="68.60" y1="630.50" x2="72.60" y2="630.50" stroke="#222" stroke-width="1.1"/>
<line x1="70.30" y1="642.92" x2="72.60" y2="642.92" stroke="#222" stroke-width="0.9"/>
<line x1="68.60" y1="655.34" x2="72.60" y2="655.34" stroke="#222" stroke-width="1.1"/>
<line x1="70.30" y1="667.76" x2="72.60" y2="667.76" stroke="#222" stroke-width="0.9"/>
<line x1="68.60" y1="680.18" x2="72.60" y2="680.18" stroke="#222" stroke-width="1.1"/>
<line x1="70.30" y1="692.60" x2="72.60" y2="692.60" stroke="#222" stroke-width="0.9"/>
<line x1="68.60" y1="705.02" x2="72.60" y2="705.02" stroke="#222" stroke-width="1.1"/>
<line x1="86.75" y1="705.00" x2="86.75" y2="709.00" stroke="#222" stroke-width="1.1"/>
<line x1="98.95" y1="705.00" x2="98.95" y2="707.30" stroke="#222" stroke-width="0.9"/>
<line x1="111.15" y1="705.00" x2="111.15" y2="707.30" stroke="#222" stroke-width="0.9"/>
<line x1="123.35" y1="705.00" x2="123.35" y2="707.30" stroke="#222" stroke-width="0.9"/>
<line x1="135.55" y1="705.00" x2="135.55" y2="709.00" stroke="#222" stroke-width="1.1"/>
<line x1="147.75" y1="705.00" x2="147.75" y2="707.30" stroke="#222" stroke-width="0.9"/>
<line x1="159.95" y1="705.00" x2="159.95" y2="707.30" stroke="#222" stroke-width="0.9"/>
<line x1="172.15" y1="705.00" x2="172.15" y2="707.30" stroke="#222" stroke-width="0.9"/>
<line x1="184.35" y1="705.00" x2="184.35" y2="709.00" stroke="#222" stroke-width="1.1"/>
<line x1="196.55" y1="705.00" x2="196.55" y2="707.30" stroke="#222" stroke-width="0.9"/>
<line x1="208.75" y1="705.00" x2="208.75" y2="707.30" stroke="#222" stroke-width="0.9"/>
<line x1="220.95" y1="705.00" x2="220.95" y2="707.30" stroke="#222" stroke-width="0.9"/>
<line x1="233.15" y1="705.00" x2="233.15" y2="709.00" stroke="#222" stroke-width="1.1"/>
<line x1="245.35" y1="705.00" x2="245.35" y2="707.30" stroke="#222" stroke-width="0.9"/>
<line x1="257.55" y1="705.00" x2="257.55" y2="707.30" stroke="#222" stroke-width="0.9"/>
<line x1="269.75" y1="705.00" x2="269.75" y2="707.30" stroke="#222" stroke-width="0.9"/>
<line x1="281.95" y1="705.00" x2="281.95" y2="709.00" stroke="#222" stroke-width="1.1"/>
<text x="67.60" y="534.40" font-size="17" font-weight="bold" text-anchor="end">52</text>
<text x="67.60" y="565.80" font-size="17" font-weight="bold" text-anchor="end">48</text>
<text x="67.60" y="597.50" font-size="17" font-weight="bold" text-anchor="end">44</text>
<text x="67.60" y="631.60" font-size="17" font-weight="bold" text-anchor="end">0.5</text>
<text x="67.60" y="653.80" font-size="17" font-weight="bold" text-anchor="end">-0.5</text>
<text x="67.60" y="683.00" font-size="17" font-weight="bold" text-anchor="end">-1.5</text>
<text x="67.60" y="708.60" font-size="17" font-weight="bold" text-anchor="end">-2.5</text>
<text x="86.95" y="725.20" font-size="17" font-weight="bold" text-anchor="middle">0</text>
<text x="135.75" y="725.20" font-size="17" font-weight="bold" text-anchor="middle">10</text>
<text x="184.55" y="725.20" font-size="17" font-weight="bold" text-anchor="middle">20</text>
<text x="233.35" y="725.20" font-size="17" font-weight="bold" text-anchor="middle">30</text>
<text x="282.15" y="725.20" font-size="17" font-weight="bold" text-anchor="middle">40</text>
<text x="105.00" y="748.00" font-size="18.8" font-weight="bold" textLength="156.80" lengthAdjust="spacingAndGlyphs">Displacement (Å)</text>
<text font-size="19.8" font-weight="bold" transform="translate(25.6 657.3) rotate(-90)" textLength="74.6" lengthAdjust="spacingAndGlyphs"><tspan font-style="italic">E</tspan><tspan font-style="italic" font-size="12.5" dy="3.5">ads</tspan><tspan dy="-3.5"> (eV)</tspan></text>
</g>
<g id="pg">
<text x="300.60" y="528.50" font-size="20.6">(g)</text>
<rect x="372.50" y="597.30" width="17.90" height="112.70" fill="#fb9b9b"/>
<rect x="390.00" y="633.00" width="18.40" height="77.00" fill="#ff8191"/>
<rect x="408.00" y="663.50" width="18.20" height="46.50" fill="#ff2445"/>
<rect x="425.80" y="613.00" width="18.40" height="97.00" fill="#b8001c"/>
<rect x="443.80" y="550.80" width="17.50" height="159.20" fill="#800014"/>
<rect x="519.30" y="698.50" width="17.50" height="11.50" fill="#48e0c8"/>
<rect x="554.50" y="576.70" width="18.00" height="133.30" fill="#0c4039"/>
<rect x="360.5" y="531.8" width="223.30" height="178.20" fill="none" stroke="#222" stroke-width="1.2"/>
<line x1="356.50" y1="531.80" x2="360.50" y2="531.80" stroke="#222" stroke-width="1.1"/>
<line x1="358.30" y1="538.93" x2="360.50" y2="538.93" stroke="#222" stroke-width="0.8"/>
<line x1="358.30" y1="546.06" x2="360.50" y2="546.06" stroke="#222" stroke-width="0.8"/>
<line x1="358.30" y1="553.18" x2="360.50" y2="553.18" stroke="#222" stroke-width="0.8"/>
<line x1="358.30" y1="560.31" x2="360.50" y2="560.31" stroke="#222" stroke-width="0.8"/>
<line x1="356.50" y1="567.44" x2="360.50" y2="567.44" stroke="#222" stroke-width="1.1"/>
<line x1="358.30" y1="574.57" x2="360.50" y2="574.57" stroke="#222" stroke-width="0.8"/>
<line x1="358.30" y1="581.70" x2="360.50" y2="581.70" stroke="#222" stroke-width="0.8"/>
<line x1="358.30" y1="588.82" x2="360.50" y2="588.82" stroke="#222" stroke-width="0.8"/>
<line x1="358.30" y1="595.95" x2="360.50" y2="595.95" stroke="#222" stroke-width="0.8"/>
<line x1="356.50" y1="603.08" x2="360.50" y2="603.08" stroke="#222" stroke-width="1.1"/>
<line x1="358.30" y1="610.21" x2="360.50" y2="610.21" stroke="#222" stroke-width="0.8"/>
<line x1="358.30" y1="617.34" x2="360.50" y2="617.34" stroke="#222" stroke-width="0.8"/>
<line x1="358.30" y1="624.46" x2="360.50" y2="624.46" stroke="#222" stroke-width="0.8"/>
<line x1="358.30" y1="631.59" x2="360.50" y2="631.59" stroke="#222" stroke-width="0.8"/>
<line x1="356.50" y1="638.72" x2="360.50" y2="638.72" stroke="#222" stroke-width="1.1"/>
<line x1="358.30" y1="645.85" x2="360.50" y2="645.85" stroke="#222" stroke-width="0.8"/>
<line x1="358.30" y1="652.98" x2="360.50" y2="652.98" stroke="#222" stroke-width="0.8"/>
<line x1="358.30" y1="660.10" x2="360.50" y2="660.10" stroke="#222" stroke-width="0.8"/>
<line x1="358.30" y1="667.23" x2="360.50" y2="667.23" stroke="#222" stroke-width="0.8"/>
<line x1="356.50" y1="674.36" x2="360.50" y2="674.36" stroke="#222" stroke-width="1.1"/>
<line x1="358.30" y1="681.49" x2="360.50" y2="681.49" stroke="#222" stroke-width="0.8"/>
<line x1="358.30" y1="688.62" x2="360.50" y2="688.62" stroke="#222" stroke-width="0.8"/>
<line x1="358.30" y1="695.74" x2="360.50" y2="695.74" stroke="#222" stroke-width="0.8"/>
<line x1="358.30" y1="702.87" x2="360.50" y2="702.87" stroke="#222" stroke-width="0.8"/>
<line x1="356.50" y1="710.00" x2="360.50" y2="710.00" stroke="#222" stroke-width="1.1"/>
<line x1="416.80" y1="710.00" x2="416.80" y2="714.00" stroke="#222" stroke-width="1.1"/>
<line x1="528.00" y1="710.00" x2="528.00" y2="714.00" stroke="#222" stroke-width="1.1"/>
<line x1="472.50" y1="710.00" x2="472.50" y2="712.30" stroke="#222" stroke-width="1.1"/>
<text x="356.30" y="537.90" font-size="17" font-weight="bold" text-anchor="end">-2.5</text>
<text x="356.30" y="573.60" font-size="17" font-weight="bold" text-anchor="end">-2.0</text>
<text x="356.30" y="609.20" font-size="17" font-weight="bold" text-anchor="end">-1.5</text>
<text x="356.30" y="644.90" font-size="17" font-weight="bold" text-anchor="end">-1.0</text>
<text x="356.30" y="680.50" font-size="17" font-weight="bold" text-anchor="end">-0.5</text>
<text x="356.30" y="716.20" font-size="17" font-weight="bold" text-anchor="end">0.0</text>
<text x="394.50" y="736.80" font-size="19" font-weight="bold" textLength="50.50" lengthAdjust="spacingAndGlyphs">PUDF</text>
<text x="485.8" y="736.8" font-size="19" font-weight="bold" textLength="91.7" lengthAdjust="spacingAndGlyphs">PUDF-GC<tspan font-size="11.5" dy="3.4">1</tspan></text>
<text font-size="19.8" font-weight="bold" transform="translate(320.4 657.3) rotate(-90)" textLength="74.6" lengthAdjust="spacingAndGlyphs"><tspan font-style="italic">E</tspan><tspan font-style="italic" font-size="12.5" dy="3.5">ads</tspan><tspan dy="-3.5"> (eV)</tspan></text>
</g>
<g id="ph">
<text x="610.60" y="529.20" font-size="20.6">(h)</text>
<polygon points="756.8,557.7 799.2,571.1 825.5,606.2 825.5,649.6 799.2,684.7 756.8,698.1 714.3,684.7 688.0,649.6 688.0,606.2 714.3,571.1" fill="url(#rad)"/>
<polygon points="756.8,602.5 771.4,607.3 780.5,619.8 780.5,635.2 771.4,647.7 756.8,652.5 742.1,647.7 733.0,635.2 733.0,619.8 742.1,607.3" fill="none" stroke="#cdcdd6" stroke-width="0.55"/>
<polygon points="756.8,588.0 780.0,595.5 794.3,615.3 794.3,639.7 780.0,659.5 756.8,667.0 733.5,659.5 719.2,639.7 719.2,615.3 733.5,595.5" fill="none" stroke="#cdcdd6" stroke-width="0.55"/>
<polygon points="756.8,573.7 788.4,584.0 807.9,610.9 807.9,644.1 788.4,671.0 756.8,681.3 725.1,671.0 705.6,644.1 705.6,610.9 725.1,584.0" fill="none" stroke="#cdcdd6" stroke-width="0.55"/>
<polygon points="756.8,559.5 796.7,572.5 821.4,606.5 821.4,648.5 796.7,682.5 756.8,695.5 716.8,682.5 692.1,648.5 692.1,606.5 716.8,572.5" fill="none" stroke="#cdcdd6" stroke-width="0.55"/>
<line x1="756.75" y1="627.50" x2="756.75" y2="558.90" stroke="#5e5e5e" stroke-width="0.75"/>
<line x1="756.75" y1="627.50" x2="797.07" y2="572.00" stroke="#5e5e5e" stroke-width="0.75"/>
<line x1="756.75" y1="627.50" x2="821.99" y2="606.30" stroke="#5e5e5e" stroke-width="0.75"/>
<line x1="756.75" y1="627.50" x2="821.99" y2="648.70" stroke="#5e5e5e" stroke-width="0.75"/>
<line x1="756.75" y1="627.50" x2="797.07" y2="683.00" stroke="#5e5e5e" stroke-width="0.75"/>
<line x1="756.75" y1="627.50" x2="756.75" y2="696.10" stroke="#5e5e5e" stroke-width="0.75"/>
<line x1="756.75" y1="627.50" x2="716.43" y2="683.00" stroke="#5e5e5e" stroke-width="0.75"/>
<line x1="756.75" y1="627.50" x2="691.51" y2="648.70" stroke="#5e5e5e" stroke-width="0.75"/>
<line x1="756.75" y1="627.50" x2="691.51" y2="606.30" stroke="#5e5e5e" stroke-width="0.75"/>
<line x1="756.75" y1="627.50" x2="716.43" y2="572.00" stroke="#5e5e5e" stroke-width="0.75"/>
<circle cx="756.75" cy="627.5" r="9" fill="url(#rad)"/>
<polygon points="756.8,572.5 764.1,617.4 768.6,623.6 815.7,646.7 763.8,637.2 756.8,639.5 749.7,637.2 745.3,631.2 692.1,606.5 739.1,603.2" fill="none" stroke="#2a7ae8" stroke-width="0.9" stroke-dasharray="4 2.5" stroke-linejoin="round"/>
<circle cx="756.75" cy="572.50" r="1.50" fill="#2a7ae8"/>
<circle cx="764.10" cy="617.39" r="1.50" fill="#2a7ae8"/>
<circle cx="768.64" cy="623.64" r="1.50" fill="#2a7ae8"/>
<circle cx="815.72" cy="646.66" r="1.50" fill="#2a7ae8"/>
<circle cx="763.80" cy="637.21" r="1.50" fill="#2a7ae8"/>
<circle cx="756.75" cy="639.50" r="1.50" fill="#2a7ae8"/>
<circle cx="749.70" cy="637.21" r="1.50" fill="#2a7ae8"/>
<circle cx="745.34" cy="631.21" r="1.50" fill="#2a7ae8"/>
<circle cx="692.08" cy="606.49" r="1.50" fill="#2a7ae8"/>
<circle cx="739.12" cy="603.23" r="1.50" fill="#2a7ae8"/>
<polygon points="756.8,577.5 764.1,617.4 804.3,612.0 813.8,646.0 763.8,637.2 756.8,639.5 749.7,637.2 745.3,631.2 725.4,617.3 737.4,600.8" fill="none" stroke="#3592f0" stroke-width="0.9" stroke-dasharray="4 2.5" stroke-linejoin="round"/>
<circle cx="756.75" cy="577.50" r="1.50" fill="#3592f0"/>
<circle cx="764.10" cy="617.39" r="1.50" fill="#3592f0"/>
<circle cx="804.30" cy="612.05" r="1.50" fill="#3592f0"/>
<circle cx="813.81" cy="646.04" r="1.50" fill="#3592f0"/>
<circle cx="763.80" cy="637.21" r="1.50" fill="#3592f0"/>
<circle cx="756.75" cy="639.50" r="1.50" fill="#3592f0"/>
<circle cx="749.70" cy="637.21" r="1.50" fill="#3592f0"/>
<circle cx="745.34" cy="631.21" r="1.50" fill="#3592f0"/>
<circle cx="725.37" cy="617.30" r="1.50" fill="#3592f0"/>
<circle cx="737.35" cy="600.80" r="1.50" fill="#3592f0"/>
<polygon points="756.8,583.5 765.0,616.2 796.7,614.5 811.9,645.4 763.8,637.2 756.8,639.5 749.7,637.2 745.3,631.2 730.1,618.8 733.2,595.1" fill="none" stroke="#5aa9f0" stroke-width="0.8" stroke-dasharray="4 2.5" stroke-linejoin="round"/>
<circle cx="756.75" cy="583.50" r="1.50" fill="#5aa9f0"/>
<circle cx="764.98" cy="616.17" r="1.50" fill="#5aa9f0"/>
<circle cx="796.69" cy="614.52" r="1.50" fill="#5aa9f0"/>
<circle cx="811.91" cy="645.42" r="1.50" fill="#5aa9f0"/>
<circle cx="763.80" cy="637.21" r="1.50" fill="#5aa9f0"/>
<circle cx="756.75" cy="639.50" r="1.50" fill="#5aa9f0"/>
<circle cx="749.70" cy="637.21" r="1.50" fill="#5aa9f0"/>
<circle cx="745.34" cy="631.21" r="1.50" fill="#5aa9f0"/>
<circle cx="730.12" cy="618.85" r="1.50" fill="#5aa9f0"/>
<circle cx="733.24" cy="595.14" r="1.50" fill="#5aa9f0"/>
<polygon points="756.8,591.5 764.1,617.4 785.3,618.2 794.8,639.9 763.8,637.2 756.8,639.5 749.7,637.2 745.3,631.2 745.3,623.8 743.8,609.7" fill="none" stroke="#82b9e8" stroke-width="0.8" stroke-dasharray="4 2.5" stroke-linejoin="round"/>
<circle cx="756.75" cy="591.50" r="1.50" fill="#82b9e8"/>
<circle cx="764.10" cy="617.39" r="1.50" fill="#82b9e8"/>
<circle cx="785.28" cy="618.23" r="1.50" fill="#82b9e8"/>
<circle cx="794.79" cy="639.86" r="1.50" fill="#82b9e8"/>
<circle cx="763.80" cy="637.21" r="1.50" fill="#82b9e8"/>
<circle cx="756.75" cy="639.50" r="1.50" fill="#82b9e8"/>
<circle cx="749.70" cy="637.21" r="1.50" fill="#82b9e8"/>
<circle cx="745.34" cy="631.21" r="1.50" fill="#82b9e8"/>
<circle cx="745.34" cy="623.79" r="1.50" fill="#82b9e8"/>
<circle cx="743.82" cy="609.70" r="1.50" fill="#82b9e8"/>
<polygon points="756.8,615.0 764.1,617.4 819.5,607.1 813.8,646.0 763.8,637.2 756.8,639.5 749.7,637.2 745.3,631.2 728.2,618.2 749.7,617.8" fill="none" stroke="#3071b1" stroke-width="0.8" stroke-dasharray="4 2.5" stroke-linejoin="round"/>
<circle cx="756.75" cy="615.00" r="1.50" fill="#3071b1"/>
<circle cx="764.10" cy="617.39" r="1.50" fill="#3071b1"/>
<circle cx="819.52" cy="607.10" r="1.50" fill="#3071b1"/>
<circle cx="813.81" cy="646.04" r="1.50" fill="#3071b1"/>
<circle cx="763.80" cy="637.21" r="1.50" fill="#3071b1"/>
<circle cx="756.75" cy="639.50" r="1.50" fill="#3071b1"/>
<circle cx="749.70" cy="637.21" r="1.50" fill="#3071b1"/>
<circle cx="745.34" cy="631.21" r="1.50" fill="#3071b1"/>
<circle cx="728.22" cy="618.23" r="1.50" fill="#3071b1"/>
<circle cx="749.70" cy="617.79" r="1.50" fill="#3071b1"/>
<polygon points="756.8,565.5 787.3,585.4 819.5,607.1 768.6,631.4 763.8,637.2 756.8,695.5 749.7,637.2 745.3,631.2 732.0,619.5 718.5,574.9" fill="none" stroke="#ffb29a" stroke-width="0.9" stroke-dasharray="4 2.5" stroke-linejoin="round"/>
<circle cx="756.75" cy="565.50" r="1.50" fill="#ffb29a"/>
<circle cx="787.31" cy="585.43" r="1.50" fill="#ffb29a"/>
<circle cx="819.52" cy="607.10" r="1.50" fill="#ffb29a"/>
<circle cx="768.64" cy="631.36" r="1.50" fill="#ffb29a"/>
<circle cx="763.80" cy="637.21" r="1.50" fill="#ffb29a"/>
<circle cx="756.75" cy="695.50" r="1.50" fill="#ffb29a"/>
<circle cx="749.70" cy="637.21" r="1.50" fill="#ffb29a"/>
<circle cx="745.34" cy="631.21" r="1.50" fill="#ffb29a"/>
<circle cx="732.02" cy="619.47" r="1.50" fill="#ffb29a"/>
<circle cx="718.54" cy="574.91" r="1.50" fill="#ffb29a"/>
<polygon points="756.8,569.5 790.8,580.6 813.8,609.0 775.8,633.7 763.8,637.2 756.8,695.5 749.7,637.2 745.3,631.2 728.2,618.2 729.1,589.5" fill="none" stroke="#ff9c82" stroke-width="0.9" stroke-dasharray="4 2.5" stroke-linejoin="round"/>
<circle cx="756.75" cy="569.50" r="1.50" fill="#ff9c82"/>
<circle cx="790.84" cy="580.58" r="1.50" fill="#ff9c82"/>
<circle cx="813.81" cy="608.96" r="1.50" fill="#ff9c82"/>
<circle cx="775.77" cy="633.68" r="1.50" fill="#ff9c82"/>
<circle cx="763.80" cy="637.21" r="1.50" fill="#ff9c82"/>
<circle cx="756.75" cy="695.50" r="1.50" fill="#ff9c82"/>
<circle cx="749.70" cy="637.21" r="1.50" fill="#ff9c82"/>
<circle cx="745.34" cy="631.21" r="1.50" fill="#ff9c82"/>
<circle cx="728.22" cy="618.23" r="1.50" fill="#ff9c82"/>
<circle cx="729.12" cy="589.48" r="1.50" fill="#ff9c82"/>
<polygon points="756.8,561.5 764.1,617.4 817.6,607.7 815.7,646.7 763.8,637.2 756.8,639.5 716.8,682.5 745.3,631.2 735.8,620.7 727.4,587.0" fill="none" stroke="#ff8a82" stroke-width="0.9" stroke-dasharray="4 2.5" stroke-linejoin="round"/>
<circle cx="756.75" cy="561.50" r="1.50" fill="#ff8a82"/>
<circle cx="764.10" cy="617.39" r="1.50" fill="#ff8a82"/>
<circle cx="817.62" cy="607.72" r="1.50" fill="#ff8a82"/>
<circle cx="815.72" cy="646.66" r="1.50" fill="#ff8a82"/>
<circle cx="763.80" cy="637.21" r="1.50" fill="#ff8a82"/>
<circle cx="756.75" cy="639.50" r="1.50" fill="#ff8a82"/>
<circle cx="716.78" cy="682.51" r="1.50" fill="#ff8a82"/>
<circle cx="745.34" cy="631.21" r="1.50" fill="#ff8a82"/>
<circle cx="735.83" cy="620.70" r="1.50" fill="#ff8a82"/>
<circle cx="727.36" cy="587.05" r="1.50" fill="#ff8a82"/>
<polygon points="756.8,563.5 795.5,574.1 768.6,623.6 768.6,631.4 796.7,682.5 756.8,639.5 716.8,682.5 745.3,631.2 745.3,623.8 734.4,596.8" fill="none" stroke="#f86a7a" stroke-width="1.0" stroke-dasharray="4 2.5" stroke-linejoin="round"/>
<circle cx="756.75" cy="563.50" r="1.50" fill="#f86a7a"/>
<circle cx="795.54" cy="574.10" r="1.50" fill="#f86a7a"/>
<circle cx="768.64" cy="623.64" r="1.50" fill="#f86a7a"/>
<circle cx="768.64" cy="631.36" r="1.50" fill="#f86a7a"/>
<circle cx="796.72" cy="682.51" r="1.50" fill="#f86a7a"/>
<circle cx="756.75" cy="639.50" r="1.50" fill="#f86a7a"/>
<circle cx="716.78" cy="682.51" r="1.50" fill="#f86a7a"/>
<circle cx="745.34" cy="631.21" r="1.50" fill="#f86a7a"/>
<circle cx="745.34" cy="623.79" r="1.50" fill="#f86a7a"/>
<circle cx="734.41" cy="596.76" r="1.50" fill="#f86a7a"/>
<polygon points="756.8,561.5 794.4,575.7 819.5,607.1 819.5,647.9 796.7,682.5 756.8,639.5 749.7,637.2 745.3,631.2 728.2,618.2 730.3,591.1" fill="none" stroke="#f04262" stroke-width="1.0" stroke-dasharray="4 2.5" stroke-linejoin="round"/>
<circle cx="756.75" cy="561.50" r="1.50" fill="#f04262"/>
<circle cx="794.37" cy="575.72" r="1.50" fill="#f04262"/>
<circle cx="819.52" cy="607.10" r="1.50" fill="#f04262"/>
<circle cx="819.52" cy="647.90" r="1.50" fill="#f04262"/>
<circle cx="796.72" cy="682.51" r="1.50" fill="#f04262"/>
<circle cx="756.75" cy="639.50" r="1.50" fill="#f04262"/>
<circle cx="749.70" cy="637.21" r="1.50" fill="#f04262"/>
<circle cx="745.34" cy="631.21" r="1.50" fill="#f04262"/>
<circle cx="728.22" cy="618.23" r="1.50" fill="#f04262"/>
<circle cx="730.30" cy="591.09" r="1.50" fill="#f04262"/>
<polygon points="756.8,559.5 796.7,572.5 821.4,606.5 821.4,648.5 797.0,682.9 756.8,696.3 716.5,682.9 691.6,648.7 711.1,612.7 725.2,584.1" fill="none" stroke="#f03052" stroke-width="1.25" stroke-dasharray="4.5 2.5" stroke-linejoin="round"/>
<circle cx="756.75" cy="559.50" r="1.90" fill="#f03052"/>
<circle cx="796.72" cy="572.49" r="1.90" fill="#f03052"/>
<circle cx="821.42" cy="606.49" r="1.90" fill="#f03052"/>
<circle cx="821.42" cy="648.51" r="1.90" fill="#f03052"/>
<circle cx="797.01" cy="682.92" r="1.90" fill="#f03052"/>
<circle cx="756.75" cy="696.30" r="1.90" fill="#f03052"/>
<circle cx="716.49" cy="682.92" r="1.90" fill="#f03052"/>
<circle cx="691.60" cy="648.67" r="1.90" fill="#f03052"/>
<circle cx="711.10" cy="612.67" r="1.90" fill="#f03052"/>
<circle cx="725.24" cy="584.14" r="1.90" fill="#f03052"/>
<circle cx="756.75" cy="627.5" r="8.6" fill="url(#rad)" opacity="0.85"/>
<text x="756.75" y="631.10" font-size="9.5" font-weight="bold" fill="#111" text-anchor="middle">NO</text>
<text x="749.50" y="561.50" font-size="5.4" font-weight="bold" fill="#222" text-anchor="middle">100</text>
<text x="751.50" y="575.30" font-size="5.4" font-weight="bold" fill="#222" text-anchor="middle">75</text>
<text x="752.00" y="589.70" font-size="5.4" font-weight="bold" fill="#222" text-anchor="middle">50</text>
<text x="752.00" y="604.20" font-size="5.4" font-weight="bold" fill="#222" text-anchor="middle">25</text>
<text x="760.50" y="616.00" font-size="5.4" font-weight="bold" fill="#222" text-anchor="middle">0</text>
<text x="791.00" y="569.50" font-size="5.4" font-weight="bold" fill="#222" text-anchor="middle">100</text>
<text x="784.00" y="581.50" font-size="5.4" font-weight="bold" fill="#222" text-anchor="middle">75</text>
<text x="776.00" y="593.00" font-size="5.4" font-weight="bold" fill="#222" text-anchor="middle">50</text>
<text x="767.50" y="604.50" font-size="5.4" font-weight="bold" fill="#222" text-anchor="middle">25</text>
<text x="821.00" y="604.00" font-size="5.4" font-weight="bold" fill="#222" text-anchor="middle">100</text>
<text x="807.50" y="608.50" font-size="5.4" font-weight="bold" fill="#222" text-anchor="middle">75</text>
<text x="794.00" y="613.50" font-size="5.4" font-weight="bold" fill="#222" text-anchor="middle">50</text>
<text x="780.50" y="617.50" font-size="5.4" font-weight="bold" fill="#222" text-anchor="middle">25</text>
<text x="822.00" y="646.50" font-size="5.4" font-weight="bold" fill="#222" text-anchor="middle">100</text>
<text x="808.50" y="641.50" font-size="5.4" font-weight="bold" fill="#222" text-anchor="middle">75</text>
<text x="794.50" y="637.00" font-size="5.4" font-weight="bold" fill="#222" text-anchor="middle">50</text>
<text x="781.50" y="632.50" font-size="5.4" font-weight="bold" fill="#222" text-anchor="middle">25</text>
<text x="805.00" y="687.00" font-size="5.4" font-weight="bold" fill="#222" text-anchor="middle">YES</text>
<text x="756.50" y="703.80" font-size="5.4" font-weight="bold" fill="#222" text-anchor="middle">YES</text>
<text x="709.50" y="682.50" font-size="5.4" font-weight="bold" fill="#222" text-anchor="middle">YES</text>
<text x="686.50" y="644.50" font-size="5.4" font-weight="bold" fill="#222" text-anchor="middle">YES</text>
<text x="688.00" y="612.30" font-size="5.4" font-weight="bold" fill="#222" text-anchor="middle">30</text>
<text x="701.50" y="616.50" font-size="5.4" font-weight="bold" fill="#222" text-anchor="middle">20</text>
<text x="715.50" y="621.30" font-size="5.4" font-weight="bold" fill="#222" text-anchor="middle">10</text>
<text x="729.00" y="625.50" font-size="5.4" font-weight="bold" fill="#222" text-anchor="middle">0</text>
<text x="742.00" y="619.30" font-size="5.4" font-weight="bold" fill="#222" text-anchor="middle">-10</text>
<text x="709.50" y="576.50" font-size="5.4" font-weight="bold" fill="#222" text-anchor="middle">20</text>
<text x="721.00" y="590.50" font-size="5.4" font-weight="bold" fill="#222" text-anchor="middle">10</text>
<text x="743.50" y="628.80" font-size="5.4" font-weight="bold" fill="#222" text-anchor="middle">-10</text>
<text x="754.50" y="537.00" font-size="11.1" font-weight="bold" fill="#111" text-anchor="middle">Sterilization</text>
<text x="754.50" y="550.00" font-size="11.1" font-weight="bold" fill="#111" text-anchor="middle">ratio (%)</text>
<text x="678.20" y="550.80" font-size="11.1" font-weight="bold" fill="#111" text-anchor="middle">Adhesion</text>
<text x="678.20" y="563.80" font-size="11.1" font-weight="bold" fill="#111" text-anchor="middle">strength (MPa)</text>
<text x="645.00" y="598.30" font-size="11.1" font-weight="bold" fill="#111" text-anchor="middle">Tensile</text>
<text x="683.20" y="611.80" font-size="11.1" font-weight="bold" fill="#111" text-anchor="end">strength (MPa)</text>
<text x="650.00" y="650.00" font-size="11.1" font-weight="bold" fill="#111" text-anchor="middle">Deep-sea</text>
<text x="685.60" y="663.80" font-size="11.1" font-weight="bold" fill="#111" text-anchor="end">anticorrosion</text>
<text x="698.30" y="674.50" font-size="7.6" font-weight="bold" fill="#111" text-anchor="end">(15 MPa,PAE,3.5% NaCl)</text>
<text x="678.20" y="699.80" font-size="11.1" font-weight="bold" fill="#111" text-anchor="middle">Shallow-sea</text>
<text x="678.20" y="713.00" font-size="11.1" font-weight="bold" fill="#111" text-anchor="middle">anticorrosion</text>
<text x="755.80" y="725.50" font-size="11.1" font-weight="bold" fill="#111" text-anchor="middle">7730m deep-sea</text>
<text x="755.80" y="738.80" font-size="11.1" font-weight="bold" fill="#111" text-anchor="middle">immersion</text>
<text x="831.20" y="563.30" font-size="11.1" font-weight="bold" fill="#111" text-anchor="middle">Anti-protein</text>
<text x="831.20" y="576.30" font-size="11.1" font-weight="bold" fill="#111" text-anchor="middle">rate (%)</text>
<text x="863.50" y="598.30" font-size="11.1" font-weight="bold" fill="#111" text-anchor="middle">Anti-bacterial</text>
<text x="863.50" y="611.80" font-size="11.1" font-weight="bold" fill="#111" text-anchor="middle">rate (%)</text>
<text x="859.50" y="655.50" font-size="11.1" font-weight="bold" fill="#111" text-anchor="middle">Anti-algal</text>
<text x="859.50" y="668.80" font-size="11.1" font-weight="bold" fill="#111" text-anchor="middle">rate (%)</text>
<text x="840.50" y="695.00" font-size="11.1" font-weight="bold" fill="#111" text-anchor="middle">Shallow-sea</text>
<text x="840.50" y="708.00" font-size="11.1" font-weight="bold" fill="#111" text-anchor="middle">immersion</text>
<line x1="900.00" y1="527.70" x2="919.80" y2="527.70" stroke="#2a7ae8" stroke-width="1.1"/>
<circle cx="909.80" cy="527.70" r="1.90" fill="#2a7ae8"/>
<circle cx="909.30" cy="527.20" r="0.60" fill="#ffffff"/>
<text x="924.00" y="531.00" font-size="9.3" font-weight="bold">Ref.</text>
<text x="957.50" y="531.20" font-size="10.2" font-weight="bold" text-anchor="end">44</text>
<line x1="900.00" y1="540.19" x2="919.80" y2="540.19" stroke="#3592f0" stroke-width="1.1"/>
<circle cx="909.80" cy="540.19" r="1.90" fill="#3592f0"/>
<circle cx="909.30" cy="539.69" r="0.60" fill="#ffffff"/>
<text x="924.00" y="543.49" font-size="9.3" font-weight="bold">Ref.</text>
<text x="957.50" y="543.69" font-size="10.2" font-weight="bold" text-anchor="end">45</text>
<line x1="900.00" y1="552.68" x2="919.80" y2="552.68" stroke="#5aa9f0" stroke-width="1.1"/>
<circle cx="909.80" cy="552.68" r="1.90" fill="#5aa9f0"/>
<circle cx="909.30" cy="552.18" r="0.60" fill="#ffffff"/>
<text x="924.00" y="555.98" font-size="9.3" font-weight="bold">Ref.</text>
<text x="957.50" y="556.18" font-size="10.2" font-weight="bold" text-anchor="end">46</text>
<line x1="900.00" y1="565.17" x2="919.80" y2="565.17" stroke="#82b9e8" stroke-width="1.1"/>
<circle cx="909.80" cy="565.17" r="1.90" fill="#82b9e8"/>
<circle cx="909.30" cy="564.67" r="0.60" fill="#ffffff"/>
<text x="924.00" y="568.47" font-size="9.3" font-weight="bold">Ref.</text>
<text x="957.50" y="568.67" font-size="10.2" font-weight="bold" text-anchor="end">47</text>
<line x1="900.00" y1="577.66" x2="919.80" y2="577.66" stroke="#a2ccec" stroke-width="1.1"/>
<circle cx="909.80" cy="577.66" r="1.90" fill="#a2ccec"/>
<circle cx="909.30" cy="577.16" r="0.60" fill="#ffffff"/>
<text x="924.00" y="580.96" font-size="9.3" font-weight="bold">Ref.</text>
<text x="957.50" y="581.16" font-size="10.2" font-weight="bold" text-anchor="end">48</text>
<line x1="900.00" y1="590.15" x2="919.80" y2="590.15" stroke="#badbf0" stroke-width="1.1"/>
<circle cx="909.80" cy="590.15" r="1.90" fill="#badbf0"/>
<circle cx="909.30" cy="589.65" r="0.60" fill="#ffffff"/>
<text x="924.00" y="593.45" font-size="9.3" font-weight="bold">Ref.</text>
<text x="957.50" y="593.65" font-size="10.2" font-weight="bold" text-anchor="end">49</text>
<line x1="900.00" y1="602.64" x2="919.80" y2="602.64" stroke="#3071b1" stroke-width="1.1"/>
<circle cx="909.80" cy="602.64" r="1.90" fill="#3071b1"/>
<circle cx="909.30" cy="602.14" r="0.60" fill="#ffffff"/>
<text x="924.00" y="605.94" font-size="9.3" font-weight="bold">Ref.</text>
<text x="957.50" y="606.14" font-size="10.2" font-weight="bold" text-anchor="end">50</text>
<line x1="900.00" y1="615.13" x2="919.80" y2="615.13" stroke="#4279b1" stroke-width="1.1"/>
<circle cx="909.80" cy="615.13" r="1.90" fill="#4279b1"/>
<circle cx="909.30" cy="614.63" r="0.60" fill="#ffffff"/>
<text x="924.00" y="618.43" font-size="9.3" font-weight="bold">Ref.</text>
<text x="957.50" y="618.63" font-size="10.2" font-weight="bold" text-anchor="end">51</text>
<line x1="900.00" y1="627.62" x2="919.80" y2="627.62" stroke="#d24a10" stroke-width="1.1"/>
<circle cx="909.80" cy="627.62" r="1.90" fill="#d24a10"/>
<circle cx="909.30" cy="627.12" r="0.60" fill="#ffffff"/>
<text x="924.00" y="630.92" font-size="9.3" font-weight="bold">Ref.</text>
<text x="957.50" y="631.12" font-size="10.2" font-weight="bold" text-anchor="end">52</text>
<line x1="900.00" y1="640.11" x2="919.80" y2="640.11" stroke="#ffc9ba" stroke-width="1.1"/>
<circle cx="909.80" cy="640.11" r="1.90" fill="#ffc9ba"/>
<circle cx="909.30" cy="639.61" r="0.60" fill="#ffffff"/>
<text x="924.00" y="643.41" font-size="9.3" font-weight="bold">Ref.</text>
<text x="957.50" y="643.61" font-size="10.2" font-weight="bold" text-anchor="end">53</text>
<line x1="900.00" y1="652.60" x2="919.80" y2="652.60" stroke="#ffb29a" stroke-width="1.1"/>
<circle cx="909.80" cy="652.60" r="1.90" fill="#ffb29a"/>
<circle cx="909.30" cy="652.10" r="0.60" fill="#ffffff"/>
<text x="924.00" y="655.90" font-size="9.3" font-weight="bold">Ref.</text>
<text x="957.50" y="656.10" font-size="10.2" font-weight="bold" text-anchor="end">54</text>
<line x1="900.00" y1="665.09" x2="919.80" y2="665.09" stroke="#ff9c82" stroke-width="1.1"/>
<circle cx="909.80" cy="665.09" r="1.90" fill="#ff9c82"/>
<circle cx="909.30" cy="664.59" r="0.60" fill="#ffffff"/>
<text x="924.00" y="668.39" font-size="9.3" font-weight="bold">Ref.</text>
<text x="957.50" y="668.59" font-size="10.2" font-weight="bold" text-anchor="end">6</text>
<line x1="900.00" y1="677.58" x2="919.80" y2="677.58" stroke="#ff8a82" stroke-width="1.1"/>
<circle cx="909.80" cy="677.58" r="1.90" fill="#ff8a82"/>
<circle cx="909.30" cy="677.08" r="0.60" fill="#ffffff"/>
<text x="924.00" y="680.88" font-size="9.3" font-weight="bold">Ref.</text>
<text x="957.50" y="681.08" font-size="10.2" font-weight="bold" text-anchor="end">55</text>
<line x1="900.00" y1="690.07" x2="919.80" y2="690.07" stroke="#f86a7a" stroke-width="1.1"/>
<circle cx="909.80" cy="690.07" r="1.90" fill="#f86a7a"/>
<circle cx="909.30" cy="689.57" r="0.60" fill="#ffffff"/>
<text x="924.00" y="693.37" font-size="9.3" font-weight="bold">Ref.</text>
<text x="957.50" y="693.57" font-size="10.2" font-weight="bold" text-anchor="end">56</text>
<line x1="900.00" y1="702.56" x2="919.80" y2="702.56" stroke="#f04262" stroke-width="1.1"/>
<circle cx="909.80" cy="702.56" r="1.90" fill="#f04262"/>
<circle cx="909.30" cy="702.06" r="0.60" fill="#ffffff"/>
<text x="924.00" y="705.86" font-size="9.3" font-weight="bold">Ref.</text>
<text x="957.50" y="706.06" font-size="10.2" font-weight="bold" text-anchor="end">57</text>
<line x1="900.00" y1="715.05" x2="919.80" y2="715.05" stroke="#f03052" stroke-width="1.1"/>
<circle cx="909.80" cy="715.05" r="1.90" fill="#f03052"/>
<circle cx="909.30" cy="714.55" r="0.60" fill="#ffffff"/>
<text x="924.00" y="718.35" font-size="9.5" font-weight="bold" textLength="46.30" lengthAdjust="spacingAndGlyphs">This Work</text>
</g>
</svg>
</body></html>
